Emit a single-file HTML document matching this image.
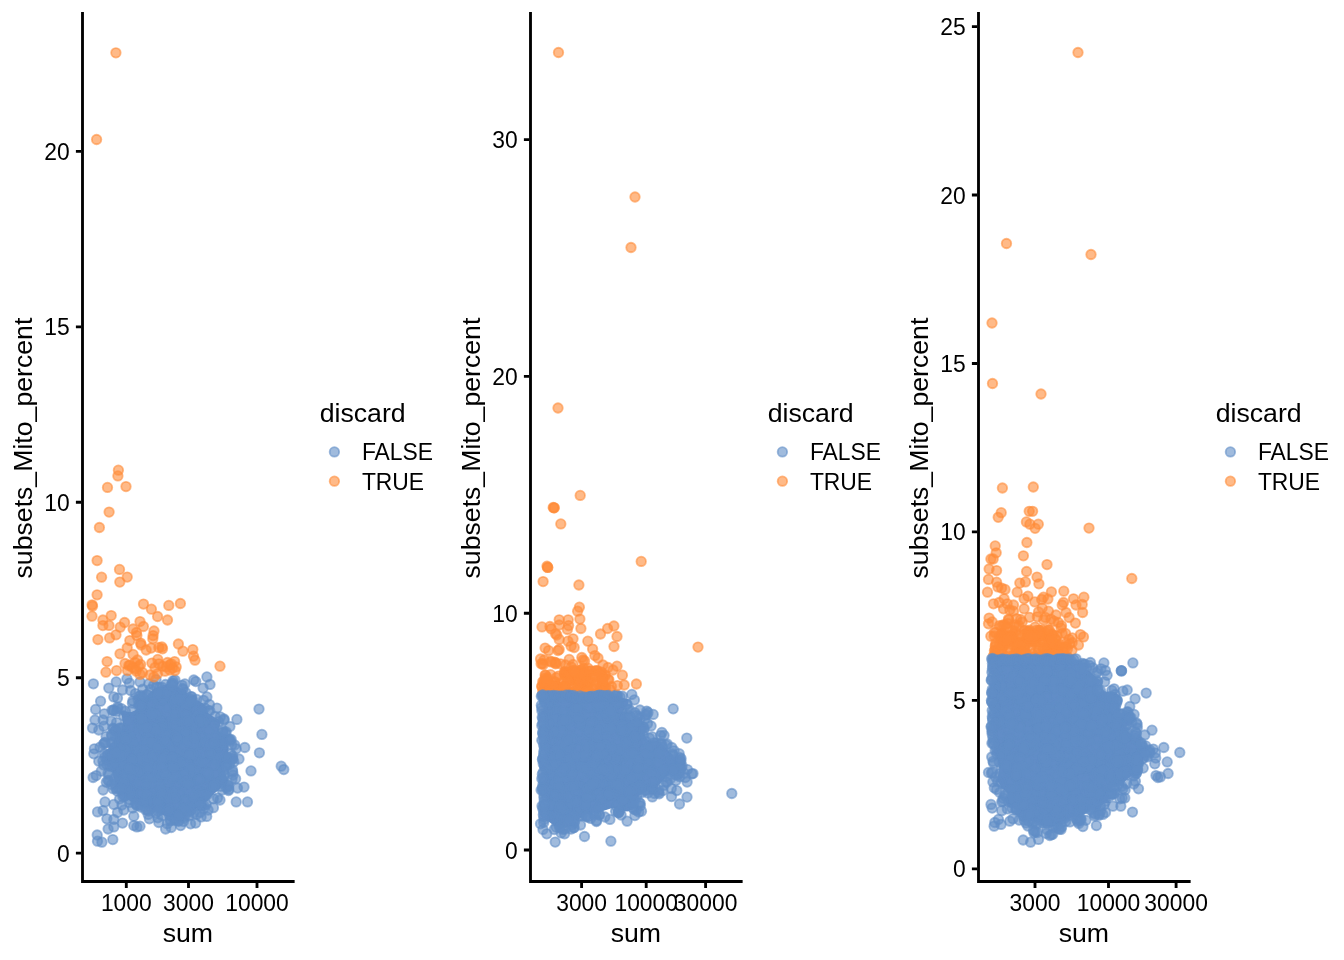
<!DOCTYPE html>
<html lang="en"><head><meta charset="utf-8"><title>QC plots: subsets_Mito_percent vs sum</title>
<style>
html,body{margin:0;padding:0;background:#fff;}
body{width:1344px;height:960px;overflow:hidden;}
svg{display:block;}
svg text{font-family:"Liberation Sans","Arimo",Arial,Helvetica,sans-serif;fill:#000;}
.t{font-size:26.67px}
.s{font-size:22.86px}
.ax{stroke:#000;stroke-width:2.85;fill:none;stroke-linecap:square}
.tk{stroke:#000;stroke-width:2.85;fill:none;stroke-linecap:butt}
.b circle,.o circle{stroke-width:1.8;r:4.75px}
.b circle{fill:#618dc7;stroke:#618dc7;fill-opacity:0.6;stroke-opacity:0.6}
.o circle{fill:#ff8c38;stroke:#ff8c38;fill-opacity:0.6;stroke-opacity:0.6}
.bs{fill:#618dc7}
.os{fill:#ff8c38}
</style></head>
<body>
<svg width="1344" height="960" viewBox="0 0 1344 960">
<rect width="1344" height="960" fill="#fff"/>
<g class="o"><circle cx="604.8" cy="687.3" r="4.75"/><circle cx="594.5" cy="694.4" r="4.75"/><circle cx="557.2" cy="685.7" r="4.75"/><circle cx="604.7" cy="693.4" r="4.75"/><circle cx="580.3" cy="670.5" r="4.75"/><circle cx="545.6" cy="675.4" r="4.75"/><circle cx="608.1" cy="679.6" r="4.75"/><circle cx="605" cy="675.9" r="4.75"/><circle cx="569.5" cy="685.4" r="4.75"/><circle cx="597.4" cy="681" r="4.75"/><circle cx="544" cy="683.6" r="4.75"/><circle cx="552" cy="687.5" r="4.75"/><circle cx="558.9" cy="687.4" r="4.75"/><circle cx="601.4" cy="672.1" r="4.75"/><circle cx="585.6" cy="674.8" r="4.75"/><circle cx="548.1" cy="686" r="4.75"/><circle cx="582.2" cy="679.5" r="4.75"/><circle cx="549.3" cy="685.8" r="4.75"/><circle cx="579" cy="679.1" r="4.75"/><circle cx="601.7" cy="687.4" r="4.75"/><circle cx="582.8" cy="681.9" r="4.75"/><circle cx="586" cy="675.2" r="4.75"/><circle cx="577.1" cy="689.8" r="4.75"/><circle cx="542" cy="686.7" r="4.75"/><circle cx="546.7" cy="679.8" r="4.75"/><circle cx="586.8" cy="674.8" r="4.75"/><circle cx="554.2" cy="681.5" r="4.75"/><circle cx="587.2" cy="682.1" r="4.75"/><circle cx="566.6" cy="672.1" r="4.75"/><circle cx="560.2" cy="683" r="4.75"/><circle cx="603.4" cy="686.1" r="4.75"/><circle cx="551.9" cy="685.6" r="4.75"/><circle cx="567.9" cy="692.5" r="4.75"/><circle cx="605" cy="674.6" r="4.75"/><circle cx="564.9" cy="674.7" r="4.75"/><circle cx="587.9" cy="668.2" r="4.75"/><circle cx="558.4" cy="693.6" r="4.75"/><circle cx="567.2" cy="692.2" r="4.75"/><circle cx="580.6" cy="671.9" r="4.75"/><circle cx="605.7" cy="687.8" r="4.75"/><circle cx="590.7" cy="670.8" r="4.75"/><circle cx="559.7" cy="692.5" r="4.75"/><circle cx="583.6" cy="678.2" r="4.75"/><circle cx="582.3" cy="683.9" r="4.75"/><circle cx="564.5" cy="674.2" r="4.75"/><circle cx="541.7" cy="686.3" r="4.75"/><circle cx="602.9" cy="677.2" r="4.75"/><circle cx="601.3" cy="677.9" r="4.75"/><circle cx="556.8" cy="691" r="4.75"/><circle cx="602.3" cy="675.4" r="4.75"/><circle cx="595.1" cy="674.5" r="4.75"/><circle cx="548.4" cy="690.2" r="4.75"/><circle cx="554.9" cy="682.1" r="4.75"/><circle cx="556.2" cy="677.7" r="4.75"/><circle cx="566.6" cy="682.4" r="4.75"/><circle cx="589.8" cy="674.4" r="4.75"/><circle cx="582.9" cy="688.2" r="4.75"/><circle cx="559.9" cy="689.8" r="4.75"/><circle cx="544.1" cy="681" r="4.75"/><circle cx="586.6" cy="692.7" r="4.75"/><circle cx="573.7" cy="676.5" r="4.75"/><circle cx="584.4" cy="683.2" r="4.75"/><circle cx="585.1" cy="687.9" r="4.75"/><circle cx="588.3" cy="682.5" r="4.75"/><circle cx="593.5" cy="689.3" r="4.75"/><circle cx="585.6" cy="682.2" r="4.75"/><circle cx="565.3" cy="671.9" r="4.75"/><circle cx="575.4" cy="675" r="4.75"/><circle cx="572.7" cy="670.8" r="4.75"/><circle cx="602.9" cy="683.4" r="4.75"/><circle cx="605.1" cy="693.7" r="4.75"/><circle cx="611.5" cy="686.5" r="4.75"/><circle cx="545.1" cy="674.9" r="4.75"/><circle cx="590.6" cy="681.5" r="4.75"/><circle cx="587.5" cy="686.3" r="4.75"/><circle cx="547.9" cy="687.9" r="4.75"/><circle cx="575" cy="678.6" r="4.75"/><circle cx="608.9" cy="679.8" r="4.75"/><circle cx="588.6" cy="690.3" r="4.75"/><circle cx="573.7" cy="670" r="4.75"/><circle cx="543" cy="690" r="4.75"/><circle cx="594.7" cy="685.7" r="4.75"/><circle cx="604.3" cy="693.4" r="4.75"/><circle cx="591.7" cy="693.3" r="4.75"/><circle cx="570.1" cy="680.4" r="4.75"/><circle cx="564.8" cy="673" r="4.75"/><circle cx="597.9" cy="671" r="4.75"/><circle cx="580.2" cy="691.5" r="4.75"/><circle cx="565.9" cy="674.3" r="4.75"/><circle cx="605.6" cy="693.6" r="4.75"/><circle cx="581.9" cy="681.4" r="4.75"/><circle cx="602.6" cy="683.3" r="4.75"/><circle cx="599.7" cy="687.3" r="4.75"/><circle cx="599.3" cy="691.8" r="4.75"/><circle cx="545" cy="687.9" r="4.75"/><circle cx="579.6" cy="685.4" r="4.75"/><circle cx="578.6" cy="682.4" r="4.75"/><circle cx="570.9" cy="675.9" r="4.75"/><circle cx="555.5" cy="688.7" r="4.75"/><circle cx="575.6" cy="679.7" r="4.75"/><circle cx="575.4" cy="674.3" r="4.75"/><circle cx="604.3" cy="690" r="4.75"/><circle cx="577.3" cy="685.6" r="4.75"/><circle cx="542.6" cy="693.1" r="4.75"/><circle cx="594.9" cy="670.8" r="4.75"/><circle cx="570.5" cy="692.1" r="4.75"/><circle cx="579.4" cy="680" r="4.75"/><circle cx="559.1" cy="692.6" r="4.75"/><circle cx="572.2" cy="687.7" r="4.75"/><circle cx="586.7" cy="691.6" r="4.75"/><circle cx="551.9" cy="685.2" r="4.75"/><circle cx="564" cy="686.6" r="4.75"/><circle cx="584.9" cy="677.3" r="4.75"/><circle cx="558.4" cy="676.1" r="4.75"/><circle cx="595.6" cy="682.7" r="4.75"/><circle cx="547.7" cy="693.7" r="4.75"/><circle cx="544.8" cy="681.4" r="4.75"/><circle cx="573" cy="691.9" r="4.75"/><circle cx="610.3" cy="689.8" r="4.75"/><circle cx="596.5" cy="670.6" r="4.75"/><circle cx="572.4" cy="693.3" r="4.75"/><circle cx="542.4" cy="663.6" r="4.75"/><circle cx="551.3" cy="661.9" r="4.75"/><circle cx="543.3" cy="664.5" r="4.75"/><circle cx="554.6" cy="662.1" r="4.75"/><circle cx="555.9" cy="663" r="4.75"/><circle cx="565.8" cy="684.9" r="4.75"/><circle cx="601.7" cy="676.5" r="4.75"/><circle cx="569.2" cy="675.1" r="4.75"/><circle cx="547.5" cy="678" r="4.75"/><circle cx="598.8" cy="673" r="4.75"/><circle cx="596.1" cy="676.2" r="4.75"/><circle cx="564.5" cy="671.7" r="4.75"/><circle cx="546" cy="686.2" r="4.75"/><circle cx="584.6" cy="661" r="4.75"/><circle cx="580.7" cy="670.1" r="4.75"/><circle cx="579.3" cy="673" r="4.75"/><circle cx="547.7" cy="683.4" r="4.75"/><circle cx="569.2" cy="674.3" r="4.75"/><circle cx="570.1" cy="672.4" r="4.75"/><circle cx="575.1" cy="672.1" r="4.75"/><circle cx="542.7" cy="681.7" r="4.75"/><circle cx="568.1" cy="681.7" r="4.75"/><circle cx="584.1" cy="671.4" r="4.75"/><circle cx="573.1" cy="664.5" r="4.75"/><circle cx="583.3" cy="668.3" r="4.75"/><circle cx="545.2" cy="677.9" r="4.75"/><circle cx="602.5" cy="680" r="4.75"/><circle cx="550.6" cy="674.7" r="4.75"/><circle cx="583.4" cy="673.8" r="4.75"/><circle cx="571.3" cy="666.9" r="4.75"/><circle cx="574.4" cy="671.4" r="4.75"/><circle cx="587.9" cy="671.1" r="4.75"/><circle cx="564.2" cy="686.6" r="4.75"/><circle cx="546.5" cy="680" r="4.75"/><circle cx="1036.7" cy="637.8" r="4.75"/><circle cx="995.2" cy="650.2" r="4.75"/><circle cx="1009.9" cy="636.8" r="4.75"/><circle cx="1025.1" cy="649.8" r="4.75"/><circle cx="1012.5" cy="630.5" r="4.75"/><circle cx="1005.8" cy="656.6" r="4.75"/><circle cx="1072" cy="650.3" r="4.75"/><circle cx="1036.4" cy="630.3" r="4.75"/><circle cx="994.7" cy="655.4" r="4.75"/><circle cx="1047.5" cy="654" r="4.75"/><circle cx="1038.9" cy="650.9" r="4.75"/><circle cx="1001.8" cy="644.8" r="4.75"/><circle cx="1017.9" cy="656.2" r="4.75"/><circle cx="999.3" cy="636.3" r="4.75"/><circle cx="1018.4" cy="654.2" r="4.75"/><circle cx="1026.1" cy="653.5" r="4.75"/><circle cx="1017.3" cy="645.8" r="4.75"/><circle cx="1007.9" cy="650" r="4.75"/><circle cx="1034.6" cy="657.3" r="4.75"/><circle cx="1013.4" cy="636.7" r="4.75"/><circle cx="1049.4" cy="651" r="4.75"/><circle cx="1048.7" cy="656.2" r="4.75"/><circle cx="1034.5" cy="642.3" r="4.75"/><circle cx="1011.1" cy="635.3" r="4.75"/><circle cx="1022.9" cy="642.7" r="4.75"/><circle cx="1053" cy="649.1" r="4.75"/><circle cx="1034.4" cy="640.9" r="4.75"/><circle cx="1043.7" cy="641" r="4.75"/><circle cx="1057.7" cy="649.9" r="4.75"/><circle cx="1049.4" cy="640.7" r="4.75"/><circle cx="1035" cy="652.5" r="4.75"/><circle cx="1018.9" cy="651.4" r="4.75"/><circle cx="1002.5" cy="639.4" r="4.75"/><circle cx="995.4" cy="646.8" r="4.75"/><circle cx="1013.4" cy="641.3" r="4.75"/><circle cx="1056.9" cy="649.6" r="4.75"/><circle cx="995.8" cy="643.1" r="4.75"/><circle cx="993.3" cy="656" r="4.75"/><circle cx="1033.2" cy="656.9" r="4.75"/><circle cx="1014.3" cy="656" r="4.75"/><circle cx="1004" cy="657.5" r="4.75"/><circle cx="1024.5" cy="630.5" r="4.75"/><circle cx="1067.3" cy="656.5" r="4.75"/><circle cx="1008.5" cy="647.6" r="4.75"/><circle cx="1031.6" cy="632.9" r="4.75"/><circle cx="1023.8" cy="653.8" r="4.75"/><circle cx="1054.7" cy="654.2" r="4.75"/><circle cx="1020.6" cy="644.3" r="4.75"/><circle cx="1029.2" cy="631.4" r="4.75"/><circle cx="1032.6" cy="653.9" r="4.75"/><circle cx="1039.5" cy="634" r="4.75"/><circle cx="1012.5" cy="644.5" r="4.75"/><circle cx="1001.4" cy="634.8" r="4.75"/><circle cx="1002.1" cy="633.4" r="4.75"/><circle cx="1048.7" cy="647.3" r="4.75"/><circle cx="1054.6" cy="654.4" r="4.75"/><circle cx="1051.7" cy="645.6" r="4.75"/><circle cx="1017.5" cy="648.3" r="4.75"/><circle cx="1004.9" cy="635.8" r="4.75"/><circle cx="1049.8" cy="648.3" r="4.75"/><circle cx="1004" cy="643.1" r="4.75"/><circle cx="1041.5" cy="635.6" r="4.75"/><circle cx="1045.7" cy="632.9" r="4.75"/><circle cx="1006.2" cy="642.1" r="4.75"/><circle cx="1016.2" cy="652.5" r="4.75"/><circle cx="1026.5" cy="637.9" r="4.75"/><circle cx="1059.5" cy="656.4" r="4.75"/><circle cx="1014.9" cy="631.4" r="4.75"/><circle cx="1053.4" cy="643.8" r="4.75"/><circle cx="1066.1" cy="643.4" r="4.75"/><circle cx="1062.4" cy="648" r="4.75"/><circle cx="1003.9" cy="644.4" r="4.75"/><circle cx="1056.1" cy="639.9" r="4.75"/><circle cx="1034.6" cy="638.9" r="4.75"/><circle cx="1057" cy="644.5" r="4.75"/><circle cx="1029.6" cy="630.2" r="4.75"/><circle cx="1052.1" cy="633.9" r="4.75"/><circle cx="1001.5" cy="649.3" r="4.75"/><circle cx="1015.8" cy="648.3" r="4.75"/><circle cx="1049.1" cy="640.1" r="4.75"/><circle cx="1036.2" cy="641.3" r="4.75"/><circle cx="996.3" cy="656.7" r="4.75"/><circle cx="1036" cy="657.5" r="4.75"/><circle cx="1044.9" cy="649.4" r="4.75"/><circle cx="1001.8" cy="649.1" r="4.75"/><circle cx="1027.9" cy="637.4" r="4.75"/><circle cx="1001.9" cy="634.1" r="4.75"/><circle cx="998.5" cy="650.5" r="4.75"/><circle cx="1027.4" cy="632.4" r="4.75"/><circle cx="1038.9" cy="657.8" r="4.75"/><circle cx="1043.4" cy="648.9" r="4.75"/><circle cx="1031.8" cy="640.7" r="4.75"/><circle cx="1030.8" cy="639.7" r="4.75"/><circle cx="1024.7" cy="634.2" r="4.75"/><circle cx="1049.3" cy="657" r="4.75"/><circle cx="1011.8" cy="636.6" r="4.75"/><circle cx="994.4" cy="650.8" r="4.75"/><circle cx="1004.5" cy="645" r="4.75"/><circle cx="1063.2" cy="651.9" r="4.75"/><circle cx="1044.1" cy="654.1" r="4.75"/><circle cx="1042.5" cy="656" r="4.75"/><circle cx="1042.5" cy="635.7" r="4.75"/><circle cx="1002" cy="646.1" r="4.75"/><circle cx="1064.2" cy="656.5" r="4.75"/><circle cx="995.3" cy="645.7" r="4.75"/><circle cx="1000.8" cy="635.6" r="4.75"/><circle cx="1013.5" cy="655.2" r="4.75"/><circle cx="1059.1" cy="655.1" r="4.75"/><circle cx="1064.5" cy="657.8" r="4.75"/><circle cx="1021" cy="652" r="4.75"/><circle cx="1057" cy="635.8" r="4.75"/><circle cx="1067.5" cy="649.1" r="4.75"/><circle cx="1049.2" cy="640.6" r="4.75"/><circle cx="1052.4" cy="634.8" r="4.75"/><circle cx="1019.9" cy="652" r="4.75"/><circle cx="1063.5" cy="647.3" r="4.75"/><circle cx="1039.3" cy="630.4" r="4.75"/><circle cx="1031.7" cy="635" r="4.75"/><circle cx="1016.8" cy="641.6" r="4.75"/><circle cx="1033.4" cy="639" r="4.75"/><circle cx="995.9" cy="652.1" r="4.75"/><circle cx="1042.7" cy="647.5" r="4.75"/><circle cx="1039.5" cy="631.4" r="4.75"/><circle cx="1044.4" cy="642.3" r="4.75"/><circle cx="1004" cy="633.9" r="4.75"/><circle cx="1024.6" cy="646.1" r="4.75"/><circle cx="1031.5" cy="643.4" r="4.75"/><circle cx="1013.5" cy="633.7" r="4.75"/><circle cx="1027.3" cy="630.8" r="4.75"/><circle cx="1005.8" cy="637" r="4.75"/><circle cx="1017.2" cy="643.3" r="4.75"/><circle cx="1022.3" cy="650.7" r="4.75"/><circle cx="1017.6" cy="642.1" r="4.75"/><circle cx="1057.1" cy="649.9" r="4.75"/><circle cx="1057.9" cy="654.6" r="4.75"/><circle cx="1029.7" cy="641.6" r="4.75"/><circle cx="1038.6" cy="650" r="4.75"/><circle cx="1032.4" cy="641.5" r="4.75"/><circle cx="1055.8" cy="645" r="4.75"/><circle cx="1026.5" cy="640.1" r="4.75"/><circle cx="1052.6" cy="635.7" r="4.75"/><circle cx="1054.9" cy="638.7" r="4.75"/><circle cx="1024.5" cy="651" r="4.75"/><circle cx="1066.4" cy="646.8" r="4.75"/><circle cx="1023.6" cy="634.6" r="4.75"/><circle cx="1010.5" cy="636.9" r="4.75"/><circle cx="1003.7" cy="636.4" r="4.75"/><circle cx="1045.4" cy="617.4" r="4.75"/><circle cx="1035.2" cy="627.1" r="4.75"/><circle cx="1025.2" cy="644.4" r="4.75"/><circle cx="1007.8" cy="623.5" r="4.75"/><circle cx="1021.3" cy="643.1" r="4.75"/><circle cx="1008.8" cy="619.9" r="4.75"/><circle cx="1039.2" cy="630.3" r="4.75"/><circle cx="1069.1" cy="639.4" r="4.75"/><circle cx="1020.6" cy="619.5" r="4.75"/><circle cx="1059.6" cy="644.2" r="4.75"/><circle cx="994.2" cy="636.2" r="4.75"/><circle cx="1062.2" cy="633.5" r="4.75"/><circle cx="1009.4" cy="638.1" r="4.75"/><circle cx="1050.9" cy="619.2" r="4.75"/><circle cx="1043.7" cy="620" r="4.75"/><circle cx="1018.8" cy="625.5" r="4.75"/><circle cx="1044.2" cy="639.4" r="4.75"/><circle cx="1069.7" cy="643.8" r="4.75"/><circle cx="1072.3" cy="637.9" r="4.75"/><circle cx="1016.6" cy="618.6" r="4.75"/><circle cx="1042.3" cy="630.2" r="4.75"/><circle cx="1007.3" cy="642" r="4.75"/><circle cx="1040.5" cy="634.9" r="4.75"/><circle cx="999.5" cy="625.6" r="4.75"/><circle cx="1065.6" cy="633.5" r="4.75"/><circle cx="1028.6" cy="638.2" r="4.75"/><circle cx="1027.8" cy="637.9" r="4.75"/><circle cx="1037.3" cy="616.8" r="4.75"/><circle cx="999.7" cy="644" r="4.75"/><circle cx="1018.9" cy="635.5" r="4.75"/><circle cx="1061" cy="628" r="4.75"/><circle cx="1032.1" cy="637.9" r="4.75"/><circle cx="1014.3" cy="624.8" r="4.75"/><circle cx="1041.4" cy="633.1" r="4.75"/><circle cx="1002.9" cy="635.9" r="4.75"/><circle cx="1047.9" cy="643.7" r="4.75"/><circle cx="1054" cy="621.1" r="4.75"/><circle cx="1053.8" cy="644" r="4.75"/><circle cx="1022.2" cy="622" r="4.75"/><circle cx="1001.8" cy="640.3" r="4.75"/><circle cx="995.8" cy="632.4" r="4.75"/><circle cx="1008.5" cy="619.1" r="4.75"/><circle cx="1058.3" cy="622.5" r="4.75"/><circle cx="1006.6" cy="627.4" r="4.75"/><circle cx="1048.1" cy="629.6" r="4.75"/><circle cx="1061.5" cy="625.7" r="4.75"/><circle cx="1034.2" cy="635.6" r="4.75"/><circle cx="1029.2" cy="635.6" r="4.75"/><circle cx="1029.6" cy="617.3" r="4.75"/><circle cx="1001.7" cy="637.7" r="4.75"/><circle cx="1052.2" cy="642.7" r="4.75"/><circle cx="1047.7" cy="631.3" r="4.75"/><circle cx="1005.2" cy="639.9" r="4.75"/><circle cx="1001.3" cy="626.4" r="4.75"/><circle cx="1003.1" cy="625" r="4.75"/><circle cx="1016.6" cy="626.4" r="4.75"/><circle cx="1049.4" cy="630.1" r="4.75"/><circle cx="1011.4" cy="637.6" r="4.75"/><circle cx="1051.4" cy="639.1" r="4.75"/><circle cx="994.4" cy="632.4" r="4.75"/><circle cx="1008.1" cy="638.7" r="4.75"/></g>
<path class="bs" d="M118.6 710.8 120.5 713.1 120.9 713.7 121.2 714.2 121.5 714.8 121.7 715.5 121.9 716.1 122.9 721.1 123 721.8 123 722.5 123 723.2 122.9 723.9 121.9 728.9 121.7 729.6 121.4 730.2 121.1 730.9 120.8 731.5 120.3 732 119.9 732.5 119.3 733 118.7 733.4 118.1 733.8 115.7 735 114.1 739.7 113.9 740.4 113.6 741 113.2 741.5 112.8 742.1 112.3 742.6 111.8 743 111.2 743.4 110.6 743.8 108.7 744.7 108.3 746.6 110.3 750.7 110.6 751.4 110.8 752.2 111 753 112 761.7 112 762.5 112 770.2 115.3 784.6 122.7 795.2 133.2 803.6 141.7 805.7 142.2 805.9 149.7 808.4 150.6 808.7 165.5 816.2 172.2 819.3 177 820.3 181.9 818.7 188.4 814.3 193.1 810.5 193.6 810.2 207.8 800.7 212.1 795.5 212.6 795 213.1 794.5 218.8 790 224.4 783.3 227.3 779 225.9 774.7 225.7 774.1 224.2 767.6 224.1 766.9 224 766.3 224 765.6 224.1 764.9 224.2 764.3 224.4 763.6 224.7 763 225 762.4 225.3 761.9 225.8 761.4 226.2 760.9 226.7 760.5 229 758.7 228.5 757.7 228.3 757 228.1 756.3 228 755.5 228 754.8 228.1 754.1 228.8 748.4 226.3 742.2 220.4 734.2 220 733.6 219.7 733 219.4 732.3 219.2 731.6 219.1 730.9 219 730.2 219 729.5 219.1 728.8 219.3 728.1 220.9 722.1 218.2 719.4 210.3 714.8 209.7 714.5 209.2 714.1 208.7 713.6 208.3 713.2 207.9 712.6 207.6 712.1 207.3 711.5 204.4 704.6 198.3 700.4 192.6 699.4 191.9 699.3 191.3 699 190.7 698.8 190.1 698.5 189.5 698.1 189 697.7 188.6 697.2 188.1 696.7 187.8 696.1 187.4 695.5 187.2 694.9 187 694.3 186.8 693.7 186.4 690.7 185.6 689.7 180.3 687.9 179.5 687.6 178.8 687.2 175.1 684.9 167.9 684 162.1 685.4 153.9 688.5 142 700.4 142 702.5 142 703.2 141.9 703.9 141.7 704.6 141.4 705.2 141.1 705.9 140.8 706.5 140.3 707 139.9 707.5 139.3 708 138.7 708.4 138.1 708.8 133.1 711.3 132.5 711.5 131.8 711.8 131.1 711.9 130.4 712 129.7 712 129 711.9 120.5 710.8ZM544 715 544 715.1 543.5 739.8 545 759.5 545 760 545 772.5 545 772.9 544.4 782.9 544.4 783 543.8 791.5 547.1 800 547.3 800.8 547.4 801.6 548.7 811.6 548.7 812.3 548.7 812.9 548.7 813.5 548.6 814.1 548.4 814.7 546.8 819.5 547.3 820.5 551.8 824.1 556.3 826.3 563.4 824.6 573 820.9 573.3 820.9 579.7 818.7 583.8 815.6 584.4 815.2 585 814.9 585.7 814.6 586.4 814.4 587.1 814.3 596.4 813.1 610.8 808.4 611.4 808.2 612 808.1 612.7 808 613.3 808 614 808.1 614.6 808.2 615.2 808.4 622.2 810.7 627.3 811.5 634.5 808.8 636.8 807 636.1 802.2 636 801.6 636 800.9 636.1 800.2 636.2 799.6 636.4 798.9 636.7 798.3 637 797.7 637.3 797.1 637.8 796.6 638.2 796.1 638.7 795.7 639.3 795.3 639.9 795 647.4 791.2 648 790.9 656.4 787.8 662.7 780.4 663.1 780.1 665.6 777.6 666.3 776.9 671.3 773.1 671.8 772.8 672.4 772.5 677.4 770 678 769.7 678.7 769.5 679.4 769.3 680 769.3 679.8 768.7 678.9 762.8 676.3 759.3 670.3 752.2 658 739.9 652.7 740.7 652.1 740.7 651.4 740.7 650.7 740.7 650 740.5 649.4 740.3 648.7 740.1 648.1 739.7 647.5 739.4 647 738.9 646.5 738.4 646.1 737.9 645.7 737.3 645.4 736.7 645.1 736.1 645 735.4 644.8 734.7 644.8 734.1 644.8 733.4 644.8 732.7 645 732 645.2 731.4 645.4 730.7 645.8 730.1 646.1 729.5 647.3 728.1 646.1 727.5 645.5 727.2 645 726.8 644.4 726.3 644 725.8 643.5 725.3 643.2 724.7 642.9 724.1 642.6 723.5 642.4 722.8 642.3 722.1 642.3 721.4 642.3 720.8 642.3 720.1 642.5 719.4 642.7 718.7 643 718.1 644.2 715.6 642 715.1 639.7 716.9 639.1 717.2 638.5 717.6 637.9 717.8 637.2 718 632.2 719.3 631.5 719.4 630.8 719.5 630.1 719.5 629.5 719.4 628.8 719.3 628.1 719.1 627.5 718.8 626.9 718.5 626.3 718.1 625.8 717.7 625.3 717.2 624.9 716.7 624.5 716.1 624.2 715.5 623.9 714.8 623.7 714.2 623.6 713.5 623.5 712.8 623.5 712.1 623.6 711.4 623.7 710.8 623.9 710.1 624.2 709.5 624.5 708.9 624.9 708.3 627.9 704.3 628.8 701.1 628.4 699.4 623.6 698 623 697.8 622.4 697.5 619.4 696 559 696 544 696.7ZM992.1 667.8 992.1 675.9 992.5 689.8 992.5 689.9 993 719.9 993 720 993 743.3 994.1 750.8 997.6 760 997.7 760.6 997.9 761.1 999.1 767.4 999.2 768.1 999.2 768.8 999.2 769.4 999.1 770.1 997.9 776.3 997.1 780.7 999.1 783.3 999.5 783.9 999.8 784.5 1000.1 785.1 1000.3 785.8 1000.8 788 1004.6 790.2 1005.2 790.6 1005.7 791.1 1006.2 791.6 1006.7 792.1 1007.1 792.7 1007.4 793.4 1007.6 794 1007.8 794.7 1007.9 795.4 1008 796.1 1008 796.8 1007.9 797.5 1007.7 798.2 1007.5 798.8 1006 802.5 1007.2 805.3 1008.7 807.4 1012.4 808.1 1013.1 808.3 1013.9 808.6 1014.6 809 1020.9 812.7 1021.6 813.2 1022.2 813.8 1027.4 819 1038.4 823.4 1050.8 827.5 1054.1 826.2 1059.9 822.7 1060.4 822.5 1067.9 818.7 1068.8 818.4 1076.3 815.9 1076.8 815.7 1077.3 815.6 1083.2 814.6 1086.8 811.9 1087.4 811.5 1088 811.2 1088.7 810.9 1089.3 810.7 1090 810.6 1090.7 810.5 1091.4 810.5 1092.2 810.6 1097.9 811.6 1099.9 810.9 1100.4 808.6 1100.6 808 1100.8 807.3 1101.1 806.7 1101.4 806.1 1101.8 805.6 1102.3 805 1102.8 804.6 1103.4 804.2 1104 803.8 1104.6 803.5 1105.2 803.3 1105.9 803.1 1106.6 803 1107.2 803 1110.4 803 1107.7 798.9 1107.3 798.3 1107 797.7 1106.8 797 1106.6 796.3 1106.5 795.6 1106.5 794.9 1106.5 794.2 1106.7 793.5 1106.8 792.9 1107.1 792.2 1107.4 791.6 1107.8 791 1108.2 790.4 1108.7 789.9 1109.2 789.5 1109.8 789.1 1110.4 788.7 1115.4 786.2 1116 786 1116.7 785.7 1117.3 785.6 1118 785.5 1118.7 785.5 1119.4 785.6 1120.1 785.7 1120.7 785.9 1124.3 787 1124.1 786.4 1124 785.7 1124 785 1124 784.2 1124.2 783.5 1124.3 782.8 1124.6 782.2 1124.9 781.5 1125.3 780.9 1125.8 780.4 1126.3 779.9 1126.8 779.4 1131.8 775.6 1132.4 775.2 1133.1 774.9 1133.8 774.6 1139.3 772.8 1140.7 771.1 1139.4 767.2 1139.2 766.6 1139.1 765.9 1139 765.3 1139 764.6 1139.1 763.9 1139.2 763.3 1139.4 762.6 1139.7 762 1140 761.4 1140.3 760.9 1140.8 760.4 1141.2 759.9 1141.7 759.4 1142.3 759.1 1142.9 758.7 1148 756.2 1148.3 755.3 1146.1 750.9 1142.5 744.9 1142.1 744.1 1141.8 743.4 1141.6 742.6 1141.1 739.7 1136.6 737.5 1136.1 737.3 1129.9 733.5 1129.3 733.1 1128.8 732.7 1128.3 732.2 1127.9 731.6 1127.5 731.1 1127.1 730.4 1126.9 729.8 1126.7 729.1 1126.6 728.4 1126.5 727.7 1126.5 727 1126.6 726.4 1126.7 725.7 1127 725 1127.2 724.4 1129 720.8 1129 719.4 1126.5 715.3 1124.3 712.5 1119.5 713.2 1118.8 713.2 1118.1 713.2 1117.4 713.2 1116.7 713 1116.1 712.8 1115.4 712.5 1114.8 712.2 1114.3 711.8 1113.7 711.4 1113.3 710.9 1112.8 710.3 1112.4 709.8 1112.1 709.1 1111.9 708.5 1111.7 707.8 1111.6 707.2 1111.5 706.5 1111.5 705.8 1111.6 705.1 1111.7 704.4 1112 703.8 1112.2 703.1 1113.4 700.7 1112.5 697.9 1109.3 695.4 1103.6 694.4 1102.9 694.3 1102.3 694.1 1101.7 693.8 1101.1 693.4 1100.5 693.1 1100 692.6 1099.5 692.1 1099.1 691.6 1098.7 691 1098.4 690.4 1098.1 689.8 1097.9 689.1 1097.8 688.5 1097.8 687.8 1097.8 687.1 1097.8 686.4 1098 685.7 1098.2 685.1 1098.4 684.5 1098.8 683.9 1099.2 683.3 1101 680.8 1101 680.5 1095.9 677.1 1095.3 676.7 1094.8 676.2 1089.4 670.8 1082.9 667.5 1082.3 667.2 1081.8 666.8 1081.3 666.4 1080.8 666 1080.4 665.5 1080.1 664.9 1079.7 664.4 1077.7 660.4 1077 659.6 1066.3 659.6 1056.8 660.7 1055.9 660.7 1010.1 660 992.6 660.7Z"/>
<g class="b"><circle cx="209.8" cy="710.7" r="4.75"/><circle cx="168.3" cy="743.6" r="4.75"/><circle cx="192.5" cy="801.1" r="4.75"/><circle cx="220.9" cy="740.8" r="4.75"/><circle cx="160.6" cy="789.7" r="4.75"/><circle cx="150.7" cy="704.2" r="4.75"/><circle cx="126" cy="741.7" r="4.75"/><circle cx="168.4" cy="707" r="4.75"/><circle cx="221.2" cy="761.7" r="4.75"/><circle cx="191" cy="699" r="4.75"/><circle cx="157" cy="808" r="4.75"/><circle cx="195.4" cy="718.9" r="4.75"/><circle cx="182.6" cy="816.9" r="4.75"/><circle cx="222.6" cy="753.1" r="4.75"/><circle cx="129.3" cy="802.5" r="4.75"/><circle cx="155.8" cy="696.8" r="4.75"/><circle cx="176.6" cy="786.5" r="4.75"/><circle cx="196" cy="731" r="4.75"/><circle cx="159.6" cy="753.6" r="4.75"/><circle cx="212.1" cy="755.7" r="4.75"/><circle cx="152.5" cy="750.4" r="4.75"/><circle cx="183.4" cy="734.2" r="4.75"/><circle cx="118.1" cy="752.6" r="4.75"/><circle cx="175.2" cy="813.2" r="4.75"/><circle cx="127.6" cy="754.5" r="4.75"/><circle cx="133.4" cy="760.3" r="4.75"/><circle cx="206.2" cy="804.5" r="4.75"/><circle cx="171.9" cy="762.6" r="4.75"/><circle cx="226.2" cy="764" r="4.75"/><circle cx="122.6" cy="753" r="4.75"/><circle cx="166.7" cy="727.9" r="4.75"/><circle cx="145.2" cy="758.7" r="4.75"/><circle cx="188.1" cy="771.2" r="4.75"/><circle cx="195.8" cy="681.6" r="4.75"/><circle cx="188.3" cy="725.8" r="4.75"/><circle cx="173.3" cy="696" r="4.75"/><circle cx="133.9" cy="788" r="4.75"/><circle cx="162" cy="722" r="4.75"/><circle cx="151.5" cy="738.8" r="4.75"/><circle cx="230.8" cy="753.9" r="4.75"/><circle cx="124" cy="770.1" r="4.75"/><circle cx="196.6" cy="759.7" r="4.75"/><circle cx="215.1" cy="755" r="4.75"/><circle cx="126.2" cy="777.3" r="4.75"/><circle cx="152.8" cy="765" r="4.75"/><circle cx="141.4" cy="774.3" r="4.75"/><circle cx="179.9" cy="696.6" r="4.75"/><circle cx="200.6" cy="753.7" r="4.75"/><circle cx="150.2" cy="726.3" r="4.75"/><circle cx="123.5" cy="781.7" r="4.75"/><circle cx="158.7" cy="700.4" r="4.75"/><circle cx="107.9" cy="780.3" r="4.75"/><circle cx="169" cy="722.6" r="4.75"/><circle cx="212.7" cy="724.9" r="4.75"/><circle cx="124.7" cy="781.7" r="4.75"/><circle cx="124.6" cy="796" r="4.75"/><circle cx="184.5" cy="809.9" r="4.75"/><circle cx="148.6" cy="725.1" r="4.75"/><circle cx="112.6" cy="760.8" r="4.75"/><circle cx="186.8" cy="799.9" r="4.75"/><circle cx="150.2" cy="764.2" r="4.75"/><circle cx="234.7" cy="745" r="4.75"/><circle cx="213.4" cy="807.7" r="4.75"/><circle cx="156.8" cy="687.1" r="4.75"/><circle cx="117.6" cy="708.4" r="4.75"/><circle cx="165.5" cy="684.5" r="4.75"/><circle cx="137.4" cy="768.5" r="4.75"/><circle cx="161.3" cy="720.6" r="4.75"/><circle cx="194" cy="711.4" r="4.75"/><circle cx="175.5" cy="719.6" r="4.75"/><circle cx="161" cy="777.9" r="4.75"/><circle cx="139.2" cy="722.9" r="4.75"/><circle cx="138.5" cy="724.1" r="4.75"/><circle cx="175.9" cy="765.5" r="4.75"/><circle cx="183.9" cy="709" r="4.75"/><circle cx="102.9" cy="760.8" r="4.75"/><circle cx="214.2" cy="751" r="4.75"/><circle cx="169.2" cy="802.1" r="4.75"/><circle cx="218.7" cy="721.7" r="4.75"/><circle cx="108.2" cy="754.6" r="4.75"/><circle cx="207.1" cy="784.3" r="4.75"/><circle cx="119.3" cy="740.8" r="4.75"/><circle cx="116.1" cy="788.5" r="4.75"/><circle cx="195" cy="710.3" r="4.75"/><circle cx="216.7" cy="760.5" r="4.75"/><circle cx="175.4" cy="811.6" r="4.75"/><circle cx="161.8" cy="734.5" r="4.75"/><circle cx="144.1" cy="711.2" r="4.75"/><circle cx="156.1" cy="764.1" r="4.75"/><circle cx="153.2" cy="735.4" r="4.75"/><circle cx="186.4" cy="707.1" r="4.75"/><circle cx="169.2" cy="777.4" r="4.75"/><circle cx="159.5" cy="783.8" r="4.75"/><circle cx="204.8" cy="707.9" r="4.75"/><circle cx="168.3" cy="748.6" r="4.75"/><circle cx="126.5" cy="737.3" r="4.75"/><circle cx="178.4" cy="821.1" r="4.75"/><circle cx="170.8" cy="816.1" r="4.75"/><circle cx="139.9" cy="784.8" r="4.75"/><circle cx="223" cy="730.4" r="4.75"/><circle cx="200.1" cy="792.2" r="4.75"/><circle cx="183.6" cy="812.5" r="4.75"/><circle cx="180" cy="697.4" r="4.75"/><circle cx="197.1" cy="788.9" r="4.75"/><circle cx="145.5" cy="754.7" r="4.75"/><circle cx="117.2" cy="791.1" r="4.75"/><circle cx="216.6" cy="773.9" r="4.75"/><circle cx="200" cy="742.9" r="4.75"/><circle cx="150.8" cy="803.4" r="4.75"/><circle cx="158.7" cy="695.4" r="4.75"/><circle cx="184.6" cy="736.6" r="4.75"/><circle cx="121.1" cy="741.8" r="4.75"/><circle cx="185.4" cy="808.9" r="4.75"/><circle cx="123.7" cy="715.7" r="4.75"/><circle cx="175.6" cy="713.8" r="4.75"/><circle cx="182.3" cy="710" r="4.75"/><circle cx="197.4" cy="801.5" r="4.75"/><circle cx="176" cy="750.6" r="4.75"/><circle cx="151" cy="715.6" r="4.75"/><circle cx="169.1" cy="764.5" r="4.75"/><circle cx="139.8" cy="752.7" r="4.75"/><circle cx="146.9" cy="757" r="4.75"/><circle cx="161.2" cy="719.1" r="4.75"/><circle cx="153.5" cy="800.1" r="4.75"/><circle cx="197.4" cy="750.9" r="4.75"/><circle cx="191.9" cy="731.5" r="4.75"/><circle cx="134.6" cy="768.8" r="4.75"/><circle cx="220.8" cy="736.8" r="4.75"/><circle cx="138.9" cy="696.4" r="4.75"/><circle cx="173.8" cy="728.4" r="4.75"/><circle cx="157.6" cy="736.1" r="4.75"/><circle cx="224.9" cy="766.5" r="4.75"/><circle cx="167.9" cy="793.8" r="4.75"/><circle cx="190.7" cy="777.4" r="4.75"/><circle cx="189.1" cy="736.4" r="4.75"/><circle cx="189" cy="774.8" r="4.75"/><circle cx="185.3" cy="726.7" r="4.75"/><circle cx="132.6" cy="787.4" r="4.75"/><circle cx="226.8" cy="759.7" r="4.75"/><circle cx="170.6" cy="793.6" r="4.75"/><circle cx="157.1" cy="727.7" r="4.75"/><circle cx="153.9" cy="784.2" r="4.75"/><circle cx="185.3" cy="702.9" r="4.75"/><circle cx="220.2" cy="756.1" r="4.75"/><circle cx="148.6" cy="754.1" r="4.75"/><circle cx="202" cy="805.5" r="4.75"/><circle cx="133.4" cy="770.7" r="4.75"/><circle cx="127.6" cy="762.5" r="4.75"/><circle cx="142.7" cy="705.2" r="4.75"/><circle cx="188" cy="721.1" r="4.75"/><circle cx="158.5" cy="796.5" r="4.75"/><circle cx="185.5" cy="711.9" r="4.75"/><circle cx="173.1" cy="691" r="4.75"/><circle cx="113.1" cy="788.7" r="4.75"/><circle cx="147.5" cy="794.7" r="4.75"/><circle cx="128.9" cy="789.1" r="4.75"/><circle cx="202.8" cy="719.3" r="4.75"/><circle cx="184.1" cy="818" r="4.75"/><circle cx="200.6" cy="805.5" r="4.75"/><circle cx="168.3" cy="731.5" r="4.75"/><circle cx="117.8" cy="706.8" r="4.75"/><circle cx="218.5" cy="745.8" r="4.75"/><circle cx="181.4" cy="703.4" r="4.75"/><circle cx="202.3" cy="723.4" r="4.75"/><circle cx="183.5" cy="821.5" r="4.75"/><circle cx="151" cy="765.8" r="4.75"/><circle cx="150.4" cy="689.5" r="4.75"/><circle cx="163.3" cy="809.7" r="4.75"/><circle cx="206.8" cy="783.8" r="4.75"/><circle cx="222.5" cy="779.8" r="4.75"/><circle cx="152" cy="774.4" r="4.75"/><circle cx="183" cy="726.7" r="4.75"/><circle cx="185.3" cy="762.4" r="4.75"/><circle cx="146.3" cy="737.4" r="4.75"/><circle cx="157.3" cy="779.7" r="4.75"/><circle cx="202" cy="793.4" r="4.75"/><circle cx="203.2" cy="794.9" r="4.75"/><circle cx="217.4" cy="747" r="4.75"/><circle cx="111.5" cy="734.4" r="4.75"/><circle cx="201.1" cy="816.9" r="4.75"/><circle cx="172.8" cy="682.8" r="4.75"/><circle cx="205" cy="720.6" r="4.75"/><circle cx="224" cy="719" r="4.75"/><circle cx="129.7" cy="761.9" r="4.75"/><circle cx="142.8" cy="724.9" r="4.75"/><circle cx="182" cy="685.3" r="4.75"/><circle cx="192.6" cy="743.5" r="4.75"/><circle cx="220.8" cy="786.3" r="4.75"/><circle cx="174.5" cy="819.3" r="4.75"/><circle cx="220.3" cy="716.9" r="4.75"/><circle cx="116" cy="730.2" r="4.75"/><circle cx="172.3" cy="684" r="4.75"/><circle cx="145.1" cy="764.9" r="4.75"/><circle cx="192.4" cy="720.6" r="4.75"/><circle cx="137.8" cy="727.2" r="4.75"/><circle cx="142" cy="794.2" r="4.75"/><circle cx="169.2" cy="756.6" r="4.75"/><circle cx="142.1" cy="723" r="4.75"/><circle cx="172.7" cy="765" r="4.75"/><circle cx="200.4" cy="793.9" r="4.75"/><circle cx="191.2" cy="735.7" r="4.75"/><circle cx="174" cy="695.9" r="4.75"/><circle cx="114.7" cy="783.9" r="4.75"/><circle cx="178.7" cy="821" r="4.75"/><circle cx="120.3" cy="737.1" r="4.75"/><circle cx="107.1" cy="759.9" r="4.75"/><circle cx="173.1" cy="680.8" r="4.75"/><circle cx="191.2" cy="696.9" r="4.75"/><circle cx="148.6" cy="811" r="4.75"/><circle cx="201.5" cy="715.6" r="4.75"/><circle cx="229.8" cy="739.6" r="4.75"/><circle cx="196.2" cy="759.7" r="4.75"/><circle cx="203.9" cy="805.3" r="4.75"/><circle cx="122.9" cy="794" r="4.75"/><circle cx="210.8" cy="754.6" r="4.75"/><circle cx="167" cy="735.9" r="4.75"/><circle cx="162.6" cy="699.7" r="4.75"/><circle cx="138" cy="784.6" r="4.75"/><circle cx="177" cy="756.5" r="4.75"/><circle cx="175.5" cy="806.1" r="4.75"/><circle cx="139.3" cy="718.6" r="4.75"/><circle cx="170" cy="766.8" r="4.75"/><circle cx="205.5" cy="763.3" r="4.75"/><circle cx="148.7" cy="735.6" r="4.75"/><circle cx="222.6" cy="732.4" r="4.75"/><circle cx="163.5" cy="802.3" r="4.75"/><circle cx="149.3" cy="794.4" r="4.75"/><circle cx="166.2" cy="724.5" r="4.75"/><circle cx="162.2" cy="687.3" r="4.75"/><circle cx="146.5" cy="737.8" r="4.75"/><circle cx="131.6" cy="754.5" r="4.75"/><circle cx="206.1" cy="784.6" r="4.75"/><circle cx="158.7" cy="799.1" r="4.75"/><circle cx="166.8" cy="788.7" r="4.75"/><circle cx="203.6" cy="808.8" r="4.75"/><circle cx="176.7" cy="758" r="4.75"/><circle cx="177.2" cy="738.6" r="4.75"/><circle cx="134.8" cy="748.7" r="4.75"/><circle cx="195.1" cy="717.4" r="4.75"/><circle cx="170.2" cy="820.7" r="4.75"/><circle cx="122.8" cy="755.7" r="4.75"/><circle cx="136.3" cy="750.9" r="4.75"/><circle cx="230.1" cy="759.8" r="4.75"/><circle cx="124.9" cy="796.1" r="4.75"/><circle cx="143.8" cy="749.8" r="4.75"/><circle cx="133.1" cy="759" r="4.75"/><circle cx="159.8" cy="796.2" r="4.75"/><circle cx="200.9" cy="737.2" r="4.75"/><circle cx="185.9" cy="692.7" r="4.75"/><circle cx="155.7" cy="714.9" r="4.75"/><circle cx="199.2" cy="712.7" r="4.75"/><circle cx="124.9" cy="729.8" r="4.75"/><circle cx="164.5" cy="724.8" r="4.75"/><circle cx="185.4" cy="698.2" r="4.75"/><circle cx="227.8" cy="785" r="4.75"/><circle cx="142.1" cy="784.4" r="4.75"/><circle cx="191.5" cy="805" r="4.75"/><circle cx="142.7" cy="689.2" r="4.75"/><circle cx="175" cy="786.5" r="4.75"/><circle cx="178.8" cy="783.5" r="4.75"/><circle cx="228.4" cy="739" r="4.75"/><circle cx="138.9" cy="771.7" r="4.75"/><circle cx="184.7" cy="755.3" r="4.75"/><circle cx="113.3" cy="710" r="4.75"/><circle cx="210.8" cy="782.9" r="4.75"/><circle cx="129.1" cy="782.6" r="4.75"/><circle cx="134" cy="754.8" r="4.75"/><circle cx="146.2" cy="803.6" r="4.75"/><circle cx="190.9" cy="810.3" r="4.75"/><circle cx="185.4" cy="814.9" r="4.75"/><circle cx="154.4" cy="782.5" r="4.75"/><circle cx="187.7" cy="756.9" r="4.75"/><circle cx="179" cy="758.2" r="4.75"/><circle cx="170.3" cy="697.2" r="4.75"/><circle cx="125" cy="741.1" r="4.75"/><circle cx="176.1" cy="709.9" r="4.75"/><circle cx="133.6" cy="757.3" r="4.75"/><circle cx="164.9" cy="735.8" r="4.75"/><circle cx="175.9" cy="759.8" r="4.75"/><circle cx="222.2" cy="790" r="4.75"/><circle cx="139.4" cy="783.1" r="4.75"/><circle cx="223" cy="732.2" r="4.75"/><circle cx="159.7" cy="687.5" r="4.75"/><circle cx="184.6" cy="713.2" r="4.75"/><circle cx="194.8" cy="802.9" r="4.75"/><circle cx="191.1" cy="731.8" r="4.75"/><circle cx="178.6" cy="817" r="4.75"/><circle cx="162.8" cy="799.4" r="4.75"/><circle cx="184.3" cy="739" r="4.75"/><circle cx="100" cy="747.2" r="4.75"/><circle cx="113.3" cy="753.5" r="4.75"/><circle cx="146.8" cy="713.4" r="4.75"/><circle cx="193" cy="803.3" r="4.75"/><circle cx="128.8" cy="762.7" r="4.75"/><circle cx="147" cy="694.4" r="4.75"/><circle cx="159" cy="731.2" r="4.75"/><circle cx="137.2" cy="805.7" r="4.75"/><circle cx="159.9" cy="785.9" r="4.75"/><circle cx="189.9" cy="755.4" r="4.75"/><circle cx="118.3" cy="776.3" r="4.75"/><circle cx="167.1" cy="725.3" r="4.75"/><circle cx="151" cy="808.7" r="4.75"/><circle cx="118.7" cy="788.8" r="4.75"/><circle cx="193.2" cy="800.3" r="4.75"/><circle cx="163" cy="747.3" r="4.75"/><circle cx="167.9" cy="798.4" r="4.75"/><circle cx="203.5" cy="700.3" r="4.75"/><circle cx="159.8" cy="759.3" r="4.75"/><circle cx="114.9" cy="731.2" r="4.75"/><circle cx="210.2" cy="780.5" r="4.75"/><circle cx="215.1" cy="716.4" r="4.75"/><circle cx="189.7" cy="792.1" r="4.75"/><circle cx="232.8" cy="758.6" r="4.75"/><circle cx="232" cy="779.6" r="4.75"/><circle cx="144.7" cy="708" r="4.75"/><circle cx="182.2" cy="754.4" r="4.75"/><circle cx="157.8" cy="802" r="4.75"/><circle cx="198.5" cy="778.2" r="4.75"/><circle cx="174.7" cy="709.5" r="4.75"/><circle cx="191.3" cy="733" r="4.75"/><circle cx="178.3" cy="776.1" r="4.75"/><circle cx="140" cy="714.6" r="4.75"/><circle cx="156" cy="768.3" r="4.75"/><circle cx="140.9" cy="758.1" r="4.75"/><circle cx="161.1" cy="752.4" r="4.75"/><circle cx="156.3" cy="695.9" r="4.75"/><circle cx="152.9" cy="733.4" r="4.75"/><circle cx="115.1" cy="763.5" r="4.75"/><circle cx="204.7" cy="724.4" r="4.75"/><circle cx="113.8" cy="710.7" r="4.75"/><circle cx="145.7" cy="714.8" r="4.75"/><circle cx="164" cy="692.8" r="4.75"/><circle cx="111.9" cy="710.3" r="4.75"/><circle cx="215.7" cy="758.5" r="4.75"/><circle cx="122.4" cy="740.2" r="4.75"/><circle cx="226.5" cy="765.3" r="4.75"/><circle cx="177.4" cy="733.8" r="4.75"/><circle cx="122" cy="773.4" r="4.75"/><circle cx="150.9" cy="783.1" r="4.75"/><circle cx="183.1" cy="689.4" r="4.75"/><circle cx="175" cy="680.1" r="4.75"/><circle cx="150.7" cy="715.9" r="4.75"/><circle cx="146.9" cy="809.5" r="4.75"/><circle cx="126.5" cy="787.6" r="4.75"/><circle cx="145.5" cy="758.2" r="4.75"/><circle cx="124" cy="746" r="4.75"/><circle cx="136.6" cy="804.7" r="4.75"/><circle cx="183.3" cy="771.7" r="4.75"/><circle cx="208.4" cy="710.7" r="4.75"/><circle cx="140.5" cy="805" r="4.75"/><circle cx="223.8" cy="774.8" r="4.75"/><circle cx="201.2" cy="806.2" r="4.75"/><circle cx="202.5" cy="710.6" r="4.75"/><circle cx="122.9" cy="796.8" r="4.75"/><circle cx="150.2" cy="749.1" r="4.75"/><circle cx="186.6" cy="712.9" r="4.75"/><circle cx="190.4" cy="781.2" r="4.75"/><circle cx="156.8" cy="713.6" r="4.75"/><circle cx="111.8" cy="762.3" r="4.75"/><circle cx="106.3" cy="782.3" r="4.75"/><circle cx="157.1" cy="742.3" r="4.75"/><circle cx="170.5" cy="755.9" r="4.75"/><circle cx="122.2" cy="728.4" r="4.75"/><circle cx="231.8" cy="745.1" r="4.75"/><circle cx="165.5" cy="739.8" r="4.75"/><circle cx="182.7" cy="721.3" r="4.75"/><circle cx="114.8" cy="767.3" r="4.75"/><circle cx="213.4" cy="798.8" r="4.75"/><circle cx="214" cy="765" r="4.75"/><circle cx="109.3" cy="764.7" r="4.75"/><circle cx="143.8" cy="729.9" r="4.75"/><circle cx="176.9" cy="775.4" r="4.75"/><circle cx="181.8" cy="749.6" r="4.75"/><circle cx="189.8" cy="810.9" r="4.75"/><circle cx="160.7" cy="752.2" r="4.75"/><circle cx="116.6" cy="722.6" r="4.75"/><circle cx="223.4" cy="770.6" r="4.75"/><circle cx="189.2" cy="806.3" r="4.75"/><circle cx="176.8" cy="764.7" r="4.75"/><circle cx="132.4" cy="703.2" r="4.75"/><circle cx="166" cy="792.4" r="4.75"/><circle cx="160.1" cy="729.1" r="4.75"/><circle cx="140.5" cy="794.5" r="4.75"/><circle cx="182.7" cy="779.9" r="4.75"/><circle cx="226.7" cy="739.4" r="4.75"/><circle cx="182.4" cy="688.3" r="4.75"/><circle cx="132.9" cy="700.8" r="4.75"/><circle cx="173.4" cy="703" r="4.75"/><circle cx="136.4" cy="750.6" r="4.75"/><circle cx="149.1" cy="733.9" r="4.75"/><circle cx="192.7" cy="700.6" r="4.75"/><circle cx="119.8" cy="783.4" r="4.75"/><circle cx="157.6" cy="747.8" r="4.75"/><circle cx="107.9" cy="773.4" r="4.75"/><circle cx="200.2" cy="803.7" r="4.75"/><circle cx="178.9" cy="760.7" r="4.75"/><circle cx="169.2" cy="748.4" r="4.75"/><circle cx="196.9" cy="765" r="4.75"/><circle cx="224.2" cy="743.7" r="4.75"/><circle cx="164.6" cy="808.4" r="4.75"/><circle cx="196.2" cy="756.3" r="4.75"/><circle cx="178.8" cy="803.9" r="4.75"/><circle cx="185.6" cy="711.4" r="4.75"/><circle cx="139.7" cy="769.9" r="4.75"/><circle cx="127.6" cy="742.7" r="4.75"/><circle cx="188.5" cy="732.5" r="4.75"/><circle cx="159.3" cy="776.2" r="4.75"/><circle cx="146.8" cy="800.4" r="4.75"/><circle cx="206.4" cy="719.4" r="4.75"/><circle cx="182.8" cy="800.8" r="4.75"/><circle cx="111.6" cy="784.5" r="4.75"/><circle cx="210.2" cy="752.9" r="4.75"/><circle cx="180.5" cy="729.5" r="4.75"/><circle cx="137.1" cy="738.7" r="4.75"/><circle cx="173.1" cy="745.7" r="4.75"/><circle cx="185.7" cy="772.1" r="4.75"/><circle cx="189.1" cy="708.8" r="4.75"/><circle cx="152.7" cy="703.1" r="4.75"/><circle cx="206.7" cy="816.4" r="4.75"/><circle cx="200.6" cy="719.6" r="4.75"/><circle cx="168.7" cy="781.8" r="4.75"/><circle cx="177.4" cy="815.6" r="4.75"/><circle cx="171.1" cy="721.3" r="4.75"/><circle cx="185.1" cy="766.3" r="4.75"/><circle cx="136.9" cy="760.3" r="4.75"/><circle cx="169.2" cy="814.8" r="4.75"/><circle cx="207.4" cy="794.4" r="4.75"/><circle cx="149.3" cy="706.6" r="4.75"/><circle cx="107.6" cy="754.8" r="4.75"/><circle cx="170.8" cy="689.5" r="4.75"/><circle cx="174.9" cy="723.9" r="4.75"/><circle cx="176.9" cy="710.1" r="4.75"/><circle cx="128.6" cy="761.5" r="4.75"/><circle cx="161.7" cy="723.6" r="4.75"/><circle cx="120.3" cy="775.9" r="4.75"/><circle cx="209.5" cy="704.5" r="4.75"/><circle cx="145" cy="767.3" r="4.75"/><circle cx="160.1" cy="801.9" r="4.75"/><circle cx="130.7" cy="739.1" r="4.75"/><circle cx="162" cy="815.5" r="4.75"/><circle cx="193.7" cy="771.7" r="4.75"/><circle cx="225.4" cy="733" r="4.75"/><circle cx="232.5" cy="769.9" r="4.75"/><circle cx="228.6" cy="757.6" r="4.75"/><circle cx="208.4" cy="730.3" r="4.75"/><circle cx="162.3" cy="727.1" r="4.75"/><circle cx="153" cy="747.3" r="4.75"/><circle cx="117.7" cy="763.5" r="4.75"/><circle cx="226.5" cy="788" r="4.75"/><circle cx="162.5" cy="773.7" r="4.75"/><circle cx="186.3" cy="707.4" r="4.75"/><circle cx="191.5" cy="696.6" r="4.75"/><circle cx="224.1" cy="720" r="4.75"/><circle cx="157.9" cy="760.6" r="4.75"/><circle cx="222.3" cy="783.4" r="4.75"/><circle cx="121.4" cy="727.8" r="4.75"/><circle cx="194.7" cy="725.4" r="4.75"/><circle cx="154" cy="728.4" r="4.75"/><circle cx="127" cy="720.3" r="4.75"/><circle cx="170.7" cy="820.1" r="4.75"/><circle cx="175.1" cy="820.5" r="4.75"/><circle cx="175.5" cy="740.7" r="4.75"/><circle cx="226.5" cy="765.9" r="4.75"/><circle cx="165.2" cy="754.3" r="4.75"/><circle cx="146.7" cy="740.9" r="4.75"/><circle cx="147.4" cy="770.7" r="4.75"/><circle cx="196.5" cy="814.4" r="4.75"/><circle cx="191.3" cy="700.8" r="4.75"/><circle cx="144.7" cy="764.9" r="4.75"/><circle cx="221.3" cy="781.1" r="4.75"/><circle cx="140.6" cy="748.9" r="4.75"/><circle cx="148.4" cy="762.2" r="4.75"/><circle cx="141" cy="793.1" r="4.75"/><circle cx="229.4" cy="764.5" r="4.75"/><circle cx="156" cy="679.6" r="4.75"/><circle cx="193.5" cy="813" r="4.75"/><circle cx="142.4" cy="720.5" r="4.75"/><circle cx="146.8" cy="778.3" r="4.75"/><circle cx="179.2" cy="765" r="4.75"/><circle cx="185.8" cy="781.9" r="4.75"/><circle cx="141.6" cy="727.1" r="4.75"/><circle cx="153.1" cy="756" r="4.75"/><circle cx="179.4" cy="815.5" r="4.75"/><circle cx="152.9" cy="743.6" r="4.75"/><circle cx="129.3" cy="791.2" r="4.75"/><circle cx="130" cy="793" r="4.75"/><circle cx="178.8" cy="751.7" r="4.75"/><circle cx="178.6" cy="793.2" r="4.75"/><circle cx="117.3" cy="767.2" r="4.75"/><circle cx="218.8" cy="741.6" r="4.75"/><circle cx="198" cy="779.7" r="4.75"/><circle cx="146.9" cy="694.9" r="4.75"/><circle cx="160.1" cy="808.5" r="4.75"/><circle cx="118.5" cy="750.6" r="4.75"/><circle cx="192.9" cy="753.8" r="4.75"/><circle cx="142.7" cy="698.1" r="4.75"/><circle cx="232.7" cy="772" r="4.75"/><circle cx="177.4" cy="739.9" r="4.75"/><circle cx="162.5" cy="761" r="4.75"/><circle cx="118" cy="771.7" r="4.75"/><circle cx="135.4" cy="693.7" r="4.75"/><circle cx="150.5" cy="778.4" r="4.75"/><circle cx="205.3" cy="772.2" r="4.75"/><circle cx="159.7" cy="805.5" r="4.75"/><circle cx="160.1" cy="808.9" r="4.75"/><circle cx="151.6" cy="742.6" r="4.75"/><circle cx="119.9" cy="743.5" r="4.75"/><circle cx="161.3" cy="733.5" r="4.75"/><circle cx="118.5" cy="768.7" r="4.75"/><circle cx="119.6" cy="798.9" r="4.75"/><circle cx="223.1" cy="742.3" r="4.75"/><circle cx="163.7" cy="753.4" r="4.75"/><circle cx="117.1" cy="759.1" r="4.75"/><circle cx="157.8" cy="817.8" r="4.75"/><circle cx="165.6" cy="692.8" r="4.75"/><circle cx="186.2" cy="705.6" r="4.75"/><circle cx="115.2" cy="730.9" r="4.75"/><circle cx="141.5" cy="715" r="4.75"/><circle cx="206.3" cy="718.8" r="4.75"/><circle cx="181.6" cy="720.5" r="4.75"/><circle cx="160.6" cy="745.2" r="4.75"/><circle cx="174.9" cy="758.3" r="4.75"/><circle cx="140.6" cy="807" r="4.75"/><circle cx="203.6" cy="721.7" r="4.75"/><circle cx="183.3" cy="745.8" r="4.75"/><circle cx="166.6" cy="734.3" r="4.75"/><circle cx="174.6" cy="704.5" r="4.75"/><circle cx="129.7" cy="799.7" r="4.75"/><circle cx="147.6" cy="768.3" r="4.75"/><circle cx="193.9" cy="736.7" r="4.75"/><circle cx="126.4" cy="734.8" r="4.75"/><circle cx="199.7" cy="780.9" r="4.75"/><circle cx="118.9" cy="733.3" r="4.75"/><circle cx="185.1" cy="799.6" r="4.75"/><circle cx="186.2" cy="732.7" r="4.75"/><circle cx="201.6" cy="717.3" r="4.75"/><circle cx="158.8" cy="804.4" r="4.75"/><circle cx="106.1" cy="736.6" r="4.75"/><circle cx="174.2" cy="791.6" r="4.75"/><circle cx="114" cy="741.5" r="4.75"/><circle cx="175.5" cy="775.5" r="4.75"/><circle cx="110.2" cy="766.6" r="4.75"/><circle cx="143.3" cy="801.9" r="4.75"/><circle cx="200.3" cy="721.2" r="4.75"/><circle cx="112.9" cy="728.2" r="4.75"/><circle cx="128.1" cy="751.7" r="4.75"/><circle cx="167.3" cy="823.7" r="4.75"/><circle cx="174.1" cy="763.1" r="4.75"/><circle cx="113.8" cy="728.6" r="4.75"/><circle cx="229.9" cy="726.5" r="4.75"/><circle cx="165.2" cy="757.1" r="4.75"/><circle cx="228.9" cy="789.3" r="4.75"/><circle cx="217.5" cy="798.1" r="4.75"/><circle cx="153.6" cy="685.3" r="4.75"/><circle cx="172.5" cy="777.9" r="4.75"/><circle cx="145.7" cy="794.6" r="4.75"/><circle cx="155.3" cy="729.8" r="4.75"/><circle cx="176.6" cy="702.4" r="4.75"/><circle cx="195.2" cy="744.9" r="4.75"/><circle cx="187.1" cy="763.6" r="4.75"/><circle cx="158.2" cy="800.5" r="4.75"/><circle cx="156" cy="813.1" r="4.75"/><circle cx="199.2" cy="779.4" r="4.75"/><circle cx="172.6" cy="766.5" r="4.75"/><circle cx="145.7" cy="809.9" r="4.75"/><circle cx="129.7" cy="775.8" r="4.75"/><circle cx="159.2" cy="692.7" r="4.75"/><circle cx="136.3" cy="747.5" r="4.75"/><circle cx="158.4" cy="747.1" r="4.75"/><circle cx="184.9" cy="683.9" r="4.75"/><circle cx="176" cy="737" r="4.75"/><circle cx="232.7" cy="756.1" r="4.75"/><circle cx="205.2" cy="741.7" r="4.75"/><circle cx="148.8" cy="683.8" r="4.75"/><circle cx="139.2" cy="771" r="4.75"/><circle cx="180.4" cy="762.4" r="4.75"/><circle cx="183.8" cy="714.4" r="4.75"/><circle cx="187.6" cy="741.7" r="4.75"/><circle cx="165.6" cy="757.9" r="4.75"/><circle cx="162.2" cy="766.6" r="4.75"/><circle cx="120" cy="753.9" r="4.75"/><circle cx="193.6" cy="796.1" r="4.75"/><circle cx="194.8" cy="737.6" r="4.75"/><circle cx="197.7" cy="768.6" r="4.75"/><circle cx="165.5" cy="774.2" r="4.75"/><circle cx="175.4" cy="718.8" r="4.75"/><circle cx="160.6" cy="791.1" r="4.75"/><circle cx="232.5" cy="759.3" r="4.75"/><circle cx="174.9" cy="797.8" r="4.75"/><circle cx="198.6" cy="763.3" r="4.75"/><circle cx="190.3" cy="784.1" r="4.75"/><circle cx="173.6" cy="767.2" r="4.75"/><circle cx="196.8" cy="699.4" r="4.75"/><circle cx="146.3" cy="784.3" r="4.75"/><circle cx="178.7" cy="712.7" r="4.75"/><circle cx="112.5" cy="765.3" r="4.75"/><circle cx="186.2" cy="715.3" r="4.75"/><circle cx="165.1" cy="741.4" r="4.75"/><circle cx="158.1" cy="811.3" r="4.75"/><circle cx="146.6" cy="727.6" r="4.75"/><circle cx="148.2" cy="814.4" r="4.75"/><circle cx="125.4" cy="711.2" r="4.75"/><circle cx="172.3" cy="685.7" r="4.75"/><circle cx="211.8" cy="786.3" r="4.75"/><circle cx="215.1" cy="784.3" r="4.75"/><circle cx="210.5" cy="744.9" r="4.75"/><circle cx="224.2" cy="776.8" r="4.75"/><circle cx="228.7" cy="786.2" r="4.75"/><circle cx="171.5" cy="684.2" r="4.75"/><circle cx="129.2" cy="764.9" r="4.75"/><circle cx="119.2" cy="728.2" r="4.75"/><circle cx="191.2" cy="768.2" r="4.75"/><circle cx="229.9" cy="740.9" r="4.75"/><circle cx="177.3" cy="738.9" r="4.75"/><circle cx="208.4" cy="773.5" r="4.75"/><circle cx="190.4" cy="701.7" r="4.75"/><circle cx="133.7" cy="768.3" r="4.75"/><circle cx="132.6" cy="808" r="4.75"/><circle cx="161.9" cy="794.5" r="4.75"/><circle cx="135.6" cy="803.5" r="4.75"/><circle cx="167.8" cy="810" r="4.75"/><circle cx="215.9" cy="737" r="4.75"/><circle cx="139.3" cy="758.5" r="4.75"/><circle cx="187.7" cy="811.5" r="4.75"/><circle cx="188.8" cy="815.9" r="4.75"/><circle cx="130.4" cy="769.6" r="4.75"/><circle cx="200.2" cy="720.2" r="4.75"/><circle cx="141.6" cy="718.6" r="4.75"/><circle cx="116.6" cy="711.5" r="4.75"/><circle cx="187.8" cy="721.1" r="4.75"/><circle cx="213.9" cy="786.1" r="4.75"/><circle cx="139.8" cy="704.8" r="4.75"/><circle cx="190.2" cy="754.1" r="4.75"/><circle cx="214.5" cy="743" r="4.75"/><circle cx="127.4" cy="756.2" r="4.75"/><circle cx="202.2" cy="761.7" r="4.75"/><circle cx="162.6" cy="759" r="4.75"/><circle cx="121.4" cy="708.7" r="4.75"/><circle cx="124.8" cy="770.2" r="4.75"/><circle cx="103.6" cy="744.1" r="4.75"/><circle cx="188.1" cy="783.7" r="4.75"/><circle cx="126.9" cy="748" r="4.75"/><circle cx="175.1" cy="700.5" r="4.75"/><circle cx="131.8" cy="759.4" r="4.75"/><circle cx="226.8" cy="757.3" r="4.75"/><circle cx="174.2" cy="714.8" r="4.75"/><circle cx="119.5" cy="748.7" r="4.75"/><circle cx="140.8" cy="704.6" r="4.75"/><circle cx="183.5" cy="808.4" r="4.75"/><circle cx="152" cy="713.5" r="4.75"/><circle cx="179.8" cy="699.8" r="4.75"/><circle cx="172.3" cy="757.9" r="4.75"/><circle cx="132.1" cy="709.8" r="4.75"/><circle cx="138.5" cy="705.5" r="4.75"/><circle cx="138.1" cy="699.6" r="4.75"/><circle cx="140.8" cy="703.3" r="4.75"/><circle cx="141.6" cy="705" r="4.75"/><circle cx="142.5" cy="700.7" r="4.75"/><circle cx="140.7" cy="695.4" r="4.75"/><circle cx="139.7" cy="704.2" r="4.75"/><circle cx="142.5" cy="696.4" r="4.75"/><circle cx="140.8" cy="706.3" r="4.75"/><circle cx="123.8" cy="737.5" r="4.75"/><circle cx="111.1" cy="752.8" r="4.75"/><circle cx="127.2" cy="787.9" r="4.75"/><circle cx="132.6" cy="742.2" r="4.75"/><circle cx="116.2" cy="737.8" r="4.75"/><circle cx="109.1" cy="774.7" r="4.75"/><circle cx="124.2" cy="777.7" r="4.75"/><circle cx="109.2" cy="781.2" r="4.75"/><circle cx="129.7" cy="736" r="4.75"/><circle cx="113.4" cy="747.6" r="4.75"/><circle cx="104.7" cy="743" r="4.75"/><circle cx="114.7" cy="778.3" r="4.75"/><circle cx="126.1" cy="739.1" r="4.75"/><circle cx="109.4" cy="757.9" r="4.75"/><circle cx="104.3" cy="753.6" r="4.75"/><circle cx="105" cy="757.1" r="4.75"/><circle cx="123.7" cy="763.8" r="4.75"/><circle cx="114.4" cy="751.7" r="4.75"/><circle cx="124.1" cy="782.7" r="4.75"/><circle cx="107.2" cy="764.9" r="4.75"/><circle cx="120.9" cy="788.6" r="4.75"/><circle cx="112.5" cy="756.3" r="4.75"/><circle cx="132.1" cy="759.9" r="4.75"/><circle cx="124.4" cy="766.2" r="4.75"/><circle cx="110.7" cy="754.6" r="4.75"/><circle cx="121.1" cy="755.9" r="4.75"/><circle cx="121.9" cy="805.1" r="4.75"/><circle cx="115.4" cy="752.5" r="4.75"/><circle cx="129.1" cy="768.2" r="4.75"/><circle cx="103.7" cy="765.1" r="4.75"/><circle cx="642.1" cy="728.7" r="4.75"/><circle cx="631.2" cy="777.8" r="4.75"/><circle cx="627" cy="704.1" r="4.75"/><circle cx="601.3" cy="742.8" r="4.75"/><circle cx="582.1" cy="740.5" r="4.75"/><circle cx="680.1" cy="764.5" r="4.75"/><circle cx="623.5" cy="716.9" r="4.75"/><circle cx="551.1" cy="761.9" r="4.75"/><circle cx="558.8" cy="824.9" r="4.75"/><circle cx="618.3" cy="758.6" r="4.75"/><circle cx="606.5" cy="771.4" r="4.75"/><circle cx="610.9" cy="714.6" r="4.75"/><circle cx="583.2" cy="793" r="4.75"/><circle cx="556.1" cy="827.2" r="4.75"/><circle cx="573.5" cy="827.8" r="4.75"/><circle cx="613.9" cy="763.2" r="4.75"/><circle cx="639" cy="774.7" r="4.75"/><circle cx="581" cy="712.3" r="4.75"/><circle cx="560.4" cy="800.4" r="4.75"/><circle cx="574.4" cy="715.3" r="4.75"/><circle cx="563.7" cy="822.7" r="4.75"/><circle cx="600" cy="795.9" r="4.75"/><circle cx="557.1" cy="788.6" r="4.75"/><circle cx="571.4" cy="811.7" r="4.75"/><circle cx="554.6" cy="708.3" r="4.75"/><circle cx="645.9" cy="741.4" r="4.75"/><circle cx="586.5" cy="779.2" r="4.75"/><circle cx="604.4" cy="803.9" r="4.75"/><circle cx="648.2" cy="755.8" r="4.75"/><circle cx="566.2" cy="786.7" r="4.75"/><circle cx="627.7" cy="742.7" r="4.75"/><circle cx="615.7" cy="701.8" r="4.75"/><circle cx="631.3" cy="747.1" r="4.75"/><circle cx="544.1" cy="782.4" r="4.75"/><circle cx="567.4" cy="751.2" r="4.75"/><circle cx="570.6" cy="775.2" r="4.75"/><circle cx="634.4" cy="809.5" r="4.75"/><circle cx="546.7" cy="797" r="4.75"/><circle cx="558.8" cy="716.2" r="4.75"/><circle cx="564.8" cy="763.6" r="4.75"/><circle cx="607.1" cy="729" r="4.75"/><circle cx="601.8" cy="762.1" r="4.75"/><circle cx="599.1" cy="764.4" r="4.75"/><circle cx="545" cy="728.4" r="4.75"/><circle cx="671.3" cy="788.6" r="4.75"/><circle cx="604.8" cy="745.6" r="4.75"/><circle cx="610.7" cy="712.3" r="4.75"/><circle cx="576.3" cy="739.4" r="4.75"/><circle cx="594.7" cy="754.2" r="4.75"/><circle cx="656.5" cy="743" r="4.75"/><circle cx="548.5" cy="698.1" r="4.75"/><circle cx="640.3" cy="805.8" r="4.75"/><circle cx="651.3" cy="759.9" r="4.75"/><circle cx="588.8" cy="753.2" r="4.75"/><circle cx="617.6" cy="756.6" r="4.75"/><circle cx="578.4" cy="716.2" r="4.75"/><circle cx="611.2" cy="720.7" r="4.75"/><circle cx="600.8" cy="789.7" r="4.75"/><circle cx="544.1" cy="736.6" r="4.75"/><circle cx="567.3" cy="788.3" r="4.75"/><circle cx="644.1" cy="750.2" r="4.75"/><circle cx="617.2" cy="696.5" r="4.75"/><circle cx="616" cy="795.6" r="4.75"/><circle cx="571.7" cy="825.1" r="4.75"/><circle cx="606.5" cy="793.6" r="4.75"/><circle cx="661.5" cy="772.3" r="4.75"/><circle cx="552.4" cy="750.6" r="4.75"/><circle cx="614.9" cy="757.4" r="4.75"/><circle cx="596.9" cy="794.8" r="4.75"/><circle cx="584.2" cy="800.6" r="4.75"/><circle cx="640.2" cy="803.2" r="4.75"/><circle cx="566.2" cy="780.2" r="4.75"/><circle cx="596.5" cy="787.7" r="4.75"/><circle cx="638.8" cy="812.1" r="4.75"/><circle cx="544.9" cy="812.1" r="4.75"/><circle cx="561.8" cy="800.3" r="4.75"/><circle cx="627.9" cy="709.6" r="4.75"/><circle cx="632.3" cy="749.5" r="4.75"/><circle cx="571.1" cy="771.1" r="4.75"/><circle cx="607.5" cy="711.8" r="4.75"/><circle cx="610.6" cy="788.9" r="4.75"/><circle cx="584.9" cy="722" r="4.75"/><circle cx="557.4" cy="801.3" r="4.75"/><circle cx="661.7" cy="744.6" r="4.75"/><circle cx="550.8" cy="704.8" r="4.75"/><circle cx="592.9" cy="754.4" r="4.75"/><circle cx="590.3" cy="766.5" r="4.75"/><circle cx="593" cy="750.8" r="4.75"/><circle cx="638.6" cy="757.6" r="4.75"/><circle cx="579.7" cy="784.3" r="4.75"/><circle cx="663.7" cy="785.4" r="4.75"/><circle cx="635.9" cy="742.4" r="4.75"/><circle cx="635.2" cy="728.7" r="4.75"/><circle cx="567.5" cy="753.3" r="4.75"/><circle cx="567.4" cy="723.7" r="4.75"/><circle cx="605.9" cy="705.5" r="4.75"/><circle cx="603.2" cy="726.1" r="4.75"/><circle cx="603.2" cy="783.2" r="4.75"/><circle cx="544.7" cy="717.2" r="4.75"/><circle cx="560.1" cy="789.5" r="4.75"/><circle cx="591.6" cy="736.6" r="4.75"/><circle cx="665.9" cy="782.1" r="4.75"/><circle cx="596.1" cy="813.4" r="4.75"/><circle cx="613.6" cy="791.4" r="4.75"/><circle cx="634.1" cy="788.3" r="4.75"/><circle cx="590.5" cy="743" r="4.75"/><circle cx="657.8" cy="749.8" r="4.75"/><circle cx="620.4" cy="717" r="4.75"/><circle cx="552" cy="711.7" r="4.75"/><circle cx="570.6" cy="747.2" r="4.75"/><circle cx="570.5" cy="734.4" r="4.75"/><circle cx="569.8" cy="717.6" r="4.75"/><circle cx="632" cy="733.4" r="4.75"/><circle cx="591.4" cy="804.2" r="4.75"/><circle cx="550.4" cy="764" r="4.75"/><circle cx="632" cy="742.9" r="4.75"/><circle cx="608.7" cy="779.9" r="4.75"/><circle cx="581.8" cy="815.7" r="4.75"/><circle cx="629.8" cy="774.7" r="4.75"/><circle cx="605.4" cy="745.8" r="4.75"/><circle cx="580" cy="809.2" r="4.75"/><circle cx="587.6" cy="706.6" r="4.75"/><circle cx="552.8" cy="788.1" r="4.75"/><circle cx="610" cy="769.9" r="4.75"/><circle cx="551.4" cy="760.6" r="4.75"/><circle cx="617.1" cy="790.1" r="4.75"/><circle cx="611.8" cy="699.8" r="4.75"/><circle cx="547.6" cy="695.9" r="4.75"/><circle cx="564.5" cy="740.4" r="4.75"/><circle cx="650.3" cy="761.4" r="4.75"/><circle cx="545.7" cy="812.4" r="4.75"/><circle cx="634.9" cy="712.7" r="4.75"/><circle cx="578.5" cy="748.9" r="4.75"/><circle cx="600.8" cy="743.5" r="4.75"/><circle cx="623.8" cy="755.8" r="4.75"/><circle cx="576.3" cy="803.8" r="4.75"/><circle cx="647.8" cy="792.9" r="4.75"/><circle cx="622" cy="711.3" r="4.75"/><circle cx="560.9" cy="773.3" r="4.75"/><circle cx="637.9" cy="780.8" r="4.75"/><circle cx="654.5" cy="793.5" r="4.75"/><circle cx="561.2" cy="695.9" r="4.75"/><circle cx="636.4" cy="767.5" r="4.75"/><circle cx="563.4" cy="813.5" r="4.75"/><circle cx="647.5" cy="723.7" r="4.75"/><circle cx="624.9" cy="745.9" r="4.75"/><circle cx="598.7" cy="796.4" r="4.75"/><circle cx="605.5" cy="786.4" r="4.75"/><circle cx="548.6" cy="793.5" r="4.75"/><circle cx="574.2" cy="827.6" r="4.75"/><circle cx="584.6" cy="766.5" r="4.75"/><circle cx="594.8" cy="764.4" r="4.75"/><circle cx="604.2" cy="752.8" r="4.75"/><circle cx="586.8" cy="755.8" r="4.75"/><circle cx="571.2" cy="709.5" r="4.75"/><circle cx="609.1" cy="709.7" r="4.75"/><circle cx="607.9" cy="772.3" r="4.75"/><circle cx="580.6" cy="706.1" r="4.75"/><circle cx="632.9" cy="786.3" r="4.75"/><circle cx="580.3" cy="712.2" r="4.75"/><circle cx="561.5" cy="729.5" r="4.75"/><circle cx="582.2" cy="720.2" r="4.75"/><circle cx="599.4" cy="815" r="4.75"/><circle cx="550.2" cy="702.9" r="4.75"/><circle cx="631.4" cy="739.8" r="4.75"/><circle cx="553.6" cy="727.3" r="4.75"/><circle cx="562.4" cy="793.7" r="4.75"/><circle cx="677.1" cy="775.2" r="4.75"/><circle cx="617.2" cy="716.7" r="4.75"/><circle cx="594.6" cy="749.8" r="4.75"/><circle cx="608.8" cy="740.5" r="4.75"/><circle cx="564.5" cy="714.9" r="4.75"/><circle cx="618.7" cy="812.4" r="4.75"/><circle cx="596.3" cy="762.7" r="4.75"/><circle cx="545" cy="761.9" r="4.75"/><circle cx="616.6" cy="806.6" r="4.75"/><circle cx="627" cy="793.9" r="4.75"/><circle cx="653.2" cy="714.4" r="4.75"/><circle cx="609.5" cy="699.4" r="4.75"/><circle cx="551.9" cy="731" r="4.75"/><circle cx="619.6" cy="779.2" r="4.75"/><circle cx="545.1" cy="769.8" r="4.75"/><circle cx="542.5" cy="788.2" r="4.75"/><circle cx="602.4" cy="701.2" r="4.75"/><circle cx="580.8" cy="786.6" r="4.75"/><circle cx="588.4" cy="734" r="4.75"/><circle cx="685.4" cy="777.6" r="4.75"/><circle cx="636.4" cy="810.3" r="4.75"/><circle cx="680.8" cy="761.8" r="4.75"/><circle cx="585.9" cy="815.7" r="4.75"/><circle cx="620" cy="778.2" r="4.75"/><circle cx="602.1" cy="747" r="4.75"/><circle cx="642.7" cy="726.5" r="4.75"/><circle cx="569.8" cy="807.5" r="4.75"/><circle cx="546.6" cy="776.2" r="4.75"/><circle cx="597" cy="760.3" r="4.75"/><circle cx="575.7" cy="785.1" r="4.75"/><circle cx="617.9" cy="744.3" r="4.75"/><circle cx="600.7" cy="753.6" r="4.75"/><circle cx="625.4" cy="762.9" r="4.75"/><circle cx="602.9" cy="750" r="4.75"/><circle cx="549.5" cy="735.8" r="4.75"/><circle cx="625.1" cy="719.3" r="4.75"/><circle cx="603.3" cy="754.4" r="4.75"/><circle cx="600" cy="722.4" r="4.75"/><circle cx="565.2" cy="801.4" r="4.75"/><circle cx="579.4" cy="816.1" r="4.75"/><circle cx="645" cy="718.7" r="4.75"/><circle cx="649.4" cy="738.1" r="4.75"/><circle cx="672.5" cy="754" r="4.75"/><circle cx="641.1" cy="769.5" r="4.75"/><circle cx="619.1" cy="753.8" r="4.75"/><circle cx="599.4" cy="761.1" r="4.75"/><circle cx="547.7" cy="776.3" r="4.75"/><circle cx="634.4" cy="752.8" r="4.75"/><circle cx="594.4" cy="779.3" r="4.75"/><circle cx="658.6" cy="792.4" r="4.75"/><circle cx="664.1" cy="735.4" r="4.75"/><circle cx="641.3" cy="784.7" r="4.75"/><circle cx="597.5" cy="760.1" r="4.75"/><circle cx="596.9" cy="784.4" r="4.75"/><circle cx="642.2" cy="787.7" r="4.75"/><circle cx="605.4" cy="696.9" r="4.75"/><circle cx="631.1" cy="798.5" r="4.75"/><circle cx="558.2" cy="815" r="4.75"/><circle cx="630.2" cy="744.2" r="4.75"/><circle cx="612" cy="795.4" r="4.75"/><circle cx="636.9" cy="772.6" r="4.75"/><circle cx="565.8" cy="778.7" r="4.75"/><circle cx="556.1" cy="727.9" r="4.75"/><circle cx="669.6" cy="771.4" r="4.75"/><circle cx="651.8" cy="754.6" r="4.75"/><circle cx="575.4" cy="760.8" r="4.75"/><circle cx="625.7" cy="717.8" r="4.75"/><circle cx="558.7" cy="717.9" r="4.75"/><circle cx="627.8" cy="717.2" r="4.75"/><circle cx="675.1" cy="774.6" r="4.75"/><circle cx="615" cy="704.7" r="4.75"/><circle cx="597" cy="755.8" r="4.75"/><circle cx="589.5" cy="707.7" r="4.75"/><circle cx="561.6" cy="793.1" r="4.75"/><circle cx="632.8" cy="808" r="4.75"/><circle cx="550.5" cy="712.6" r="4.75"/><circle cx="542" cy="806" r="4.75"/><circle cx="559.3" cy="743.1" r="4.75"/><circle cx="625.3" cy="755.7" r="4.75"/><circle cx="665.7" cy="764.6" r="4.75"/><circle cx="599" cy="698.8" r="4.75"/><circle cx="628" cy="754.3" r="4.75"/><circle cx="585.4" cy="806.8" r="4.75"/><circle cx="554" cy="715.6" r="4.75"/><circle cx="633.4" cy="782.4" r="4.75"/><circle cx="554.3" cy="829.5" r="4.75"/><circle cx="545.4" cy="805.4" r="4.75"/><circle cx="632.6" cy="735.8" r="4.75"/><circle cx="561.2" cy="769" r="4.75"/><circle cx="636.9" cy="796.3" r="4.75"/><circle cx="551.1" cy="799.3" r="4.75"/><circle cx="609.8" cy="726.6" r="4.75"/><circle cx="587.9" cy="817" r="4.75"/><circle cx="554.3" cy="727.5" r="4.75"/><circle cx="559.6" cy="749.9" r="4.75"/><circle cx="597.9" cy="786" r="4.75"/><circle cx="639.3" cy="734.8" r="4.75"/><circle cx="592.3" cy="747.3" r="4.75"/><circle cx="558" cy="786.8" r="4.75"/><circle cx="633.8" cy="794.7" r="4.75"/><circle cx="619.5" cy="729.6" r="4.75"/><circle cx="613.6" cy="717.2" r="4.75"/><circle cx="605.5" cy="744.8" r="4.75"/><circle cx="545.9" cy="716.2" r="4.75"/><circle cx="586.6" cy="742.8" r="4.75"/><circle cx="624" cy="800.8" r="4.75"/><circle cx="572" cy="769.2" r="4.75"/><circle cx="585.4" cy="715.4" r="4.75"/><circle cx="553.5" cy="695.3" r="4.75"/><circle cx="579" cy="748.1" r="4.75"/><circle cx="592.7" cy="729.6" r="4.75"/><circle cx="554.1" cy="722.2" r="4.75"/><circle cx="573.2" cy="720.3" r="4.75"/><circle cx="567.5" cy="763.1" r="4.75"/><circle cx="617.8" cy="772.5" r="4.75"/><circle cx="679.2" cy="753.7" r="4.75"/><circle cx="670.9" cy="760.5" r="4.75"/><circle cx="608.1" cy="783.1" r="4.75"/><circle cx="554.6" cy="714" r="4.75"/><circle cx="679.6" cy="761.5" r="4.75"/><circle cx="551.9" cy="762.8" r="4.75"/><circle cx="653.6" cy="789.7" r="4.75"/><circle cx="565.3" cy="807.4" r="4.75"/><circle cx="681.1" cy="767.9" r="4.75"/><circle cx="613.5" cy="720" r="4.75"/><circle cx="575.2" cy="721.1" r="4.75"/><circle cx="583" cy="726.2" r="4.75"/><circle cx="607.6" cy="708.4" r="4.75"/><circle cx="599.1" cy="715.3" r="4.75"/><circle cx="593.1" cy="790" r="4.75"/><circle cx="550.7" cy="792.2" r="4.75"/><circle cx="578.4" cy="786.1" r="4.75"/><circle cx="557.4" cy="807.8" r="4.75"/><circle cx="599.3" cy="814.8" r="4.75"/><circle cx="693" cy="773.6" r="4.75"/><circle cx="639.1" cy="802.7" r="4.75"/><circle cx="562.8" cy="796.5" r="4.75"/><circle cx="545.9" cy="787.2" r="4.75"/><circle cx="642.4" cy="786.1" r="4.75"/><circle cx="598" cy="717" r="4.75"/><circle cx="650.1" cy="767.4" r="4.75"/><circle cx="568.6" cy="718" r="4.75"/><circle cx="564.6" cy="787.8" r="4.75"/><circle cx="627.3" cy="784.1" r="4.75"/><circle cx="575.8" cy="791.7" r="4.75"/><circle cx="550.2" cy="807.5" r="4.75"/><circle cx="570.3" cy="695.5" r="4.75"/><circle cx="611.8" cy="708.8" r="4.75"/><circle cx="564.2" cy="724.7" r="4.75"/><circle cx="639.3" cy="726.1" r="4.75"/><circle cx="608.8" cy="786.1" r="4.75"/><circle cx="631.6" cy="736.3" r="4.75"/><circle cx="600.4" cy="784" r="4.75"/><circle cx="544.7" cy="766.1" r="4.75"/><circle cx="638.2" cy="716.4" r="4.75"/><circle cx="634.4" cy="699.9" r="4.75"/><circle cx="631.4" cy="756.9" r="4.75"/><circle cx="553.6" cy="709.4" r="4.75"/><circle cx="591.8" cy="785.2" r="4.75"/><circle cx="601.7" cy="711.1" r="4.75"/><circle cx="585.5" cy="728.8" r="4.75"/><circle cx="551.2" cy="774.9" r="4.75"/><circle cx="608.2" cy="731.6" r="4.75"/><circle cx="577.9" cy="807.8" r="4.75"/><circle cx="563" cy="816" r="4.75"/><circle cx="546.8" cy="770.6" r="4.75"/><circle cx="629.1" cy="781.1" r="4.75"/><circle cx="616.5" cy="766.3" r="4.75"/><circle cx="573.5" cy="805.1" r="4.75"/><circle cx="579.3" cy="799" r="4.75"/><circle cx="542.5" cy="789.9" r="4.75"/><circle cx="545.5" cy="785.3" r="4.75"/><circle cx="637.8" cy="774.4" r="4.75"/><circle cx="556.4" cy="710" r="4.75"/><circle cx="628" cy="715" r="4.75"/><circle cx="674.1" cy="750.8" r="4.75"/><circle cx="610.8" cy="785.9" r="4.75"/><circle cx="582.2" cy="811.6" r="4.75"/><circle cx="606.2" cy="748.7" r="4.75"/><circle cx="651.7" cy="787.6" r="4.75"/><circle cx="666" cy="745.1" r="4.75"/><circle cx="640.4" cy="764.7" r="4.75"/><circle cx="596.6" cy="697.7" r="4.75"/><circle cx="576.9" cy="801.3" r="4.75"/><circle cx="594.3" cy="749.2" r="4.75"/><circle cx="652.6" cy="789.2" r="4.75"/><circle cx="550.9" cy="783.4" r="4.75"/><circle cx="571.1" cy="803.7" r="4.75"/><circle cx="558.9" cy="759.9" r="4.75"/><circle cx="601.7" cy="768.8" r="4.75"/><circle cx="563.3" cy="721.9" r="4.75"/><circle cx="564.4" cy="757.3" r="4.75"/><circle cx="617.2" cy="758.7" r="4.75"/><circle cx="618" cy="784.9" r="4.75"/><circle cx="618.3" cy="812.8" r="4.75"/><circle cx="544.5" cy="753.9" r="4.75"/><circle cx="557.4" cy="779.4" r="4.75"/><circle cx="552.5" cy="767.7" r="4.75"/><circle cx="549" cy="708.8" r="4.75"/><circle cx="584.8" cy="806.7" r="4.75"/><circle cx="632.1" cy="778" r="4.75"/><circle cx="635" cy="743.3" r="4.75"/><circle cx="629.5" cy="709.5" r="4.75"/><circle cx="659.7" cy="757.9" r="4.75"/><circle cx="631.1" cy="793.9" r="4.75"/><circle cx="629.2" cy="746.5" r="4.75"/><circle cx="582.7" cy="765.2" r="4.75"/><circle cx="569.7" cy="721.2" r="4.75"/><circle cx="643.8" cy="754.6" r="4.75"/><circle cx="661.9" cy="732.4" r="4.75"/><circle cx="597.5" cy="748.1" r="4.75"/><circle cx="555.4" cy="784.1" r="4.75"/><circle cx="564.6" cy="833.8" r="4.75"/><circle cx="546.7" cy="789" r="4.75"/><circle cx="571.5" cy="758.6" r="4.75"/><circle cx="621.8" cy="805.1" r="4.75"/><circle cx="572.8" cy="771.1" r="4.75"/><circle cx="616.3" cy="774.7" r="4.75"/><circle cx="622.6" cy="749.1" r="4.75"/><circle cx="593.9" cy="743" r="4.75"/><circle cx="545.9" cy="742.8" r="4.75"/><circle cx="658.6" cy="790.2" r="4.75"/><circle cx="604.9" cy="817" r="4.75"/><circle cx="618.7" cy="781.8" r="4.75"/><circle cx="660.7" cy="743.3" r="4.75"/><circle cx="570" cy="787.3" r="4.75"/><circle cx="591.9" cy="722.6" r="4.75"/><circle cx="573" cy="820.4" r="4.75"/><circle cx="559.1" cy="807" r="4.75"/><circle cx="625.1" cy="802.5" r="4.75"/><circle cx="545.2" cy="745.8" r="4.75"/><circle cx="547.9" cy="729.1" r="4.75"/><circle cx="599.7" cy="746" r="4.75"/><circle cx="552.2" cy="765.5" r="4.75"/><circle cx="667.2" cy="744" r="4.75"/><circle cx="600.7" cy="717.1" r="4.75"/><circle cx="679.7" cy="760.1" r="4.75"/><circle cx="574.4" cy="790.4" r="4.75"/><circle cx="592.1" cy="721.6" r="4.75"/><circle cx="570.5" cy="727.1" r="4.75"/><circle cx="564.9" cy="829.1" r="4.75"/><circle cx="561.1" cy="832.9" r="4.75"/><circle cx="613.3" cy="765.1" r="4.75"/><circle cx="585.4" cy="802.3" r="4.75"/><circle cx="579.3" cy="758" r="4.75"/><circle cx="609.7" cy="782" r="4.75"/><circle cx="599.8" cy="765.1" r="4.75"/><circle cx="559" cy="822.6" r="4.75"/><circle cx="629.7" cy="763.5" r="4.75"/><circle cx="576.3" cy="700" r="4.75"/><circle cx="574.8" cy="783.5" r="4.75"/><circle cx="644.4" cy="790.4" r="4.75"/><circle cx="646.5" cy="790.1" r="4.75"/><circle cx="627.4" cy="749.1" r="4.75"/><circle cx="620.2" cy="809.7" r="4.75"/><circle cx="630.6" cy="716.9" r="4.75"/><circle cx="618.9" cy="797.6" r="4.75"/><circle cx="622.2" cy="734.6" r="4.75"/><circle cx="595.3" cy="776.5" r="4.75"/><circle cx="583" cy="773.8" r="4.75"/><circle cx="635.3" cy="790.7" r="4.75"/><circle cx="627.5" cy="754.5" r="4.75"/><circle cx="558.8" cy="788.4" r="4.75"/><circle cx="605.4" cy="734.4" r="4.75"/><circle cx="646.7" cy="711.1" r="4.75"/><circle cx="599.7" cy="793.8" r="4.75"/><circle cx="667.2" cy="781.9" r="4.75"/><circle cx="551.2" cy="770" r="4.75"/><circle cx="590.3" cy="797.2" r="4.75"/><circle cx="564.6" cy="791.5" r="4.75"/><circle cx="588.9" cy="724.1" r="4.75"/><circle cx="558.6" cy="802" r="4.75"/><circle cx="613.8" cy="767.4" r="4.75"/><circle cx="620.9" cy="732.1" r="4.75"/><circle cx="569.4" cy="814.2" r="4.75"/><circle cx="569.2" cy="745.4" r="4.75"/><circle cx="601.8" cy="700.8" r="4.75"/><circle cx="613.2" cy="781.3" r="4.75"/><circle cx="545.5" cy="702.6" r="4.75"/><circle cx="618.3" cy="790.2" r="4.75"/><circle cx="597.4" cy="759" r="4.75"/><circle cx="593.7" cy="803.1" r="4.75"/><circle cx="607.2" cy="792.5" r="4.75"/><circle cx="654.1" cy="742.8" r="4.75"/><circle cx="670.4" cy="778.7" r="4.75"/><circle cx="629.1" cy="801.7" r="4.75"/><circle cx="648.8" cy="753.4" r="4.75"/><circle cx="662.3" cy="747.3" r="4.75"/><circle cx="618.2" cy="702.5" r="4.75"/><circle cx="599.4" cy="744" r="4.75"/><circle cx="592.2" cy="804.5" r="4.75"/><circle cx="553.1" cy="804.7" r="4.75"/><circle cx="578.8" cy="701.3" r="4.75"/><circle cx="546.9" cy="712.5" r="4.75"/><circle cx="657.3" cy="765.6" r="4.75"/><circle cx="645.3" cy="750" r="4.75"/><circle cx="618.9" cy="744.6" r="4.75"/><circle cx="647.7" cy="763.6" r="4.75"/><circle cx="568.5" cy="735.7" r="4.75"/><circle cx="609.6" cy="775.7" r="4.75"/><circle cx="593.2" cy="780.1" r="4.75"/><circle cx="608.1" cy="718.1" r="4.75"/><circle cx="638" cy="766" r="4.75"/><circle cx="554.1" cy="756.8" r="4.75"/><circle cx="604.2" cy="728.9" r="4.75"/><circle cx="633" cy="726.8" r="4.75"/><circle cx="600" cy="697.8" r="4.75"/><circle cx="562.9" cy="829.3" r="4.75"/><circle cx="635" cy="735.1" r="4.75"/><circle cx="576.8" cy="704.4" r="4.75"/><circle cx="542.4" cy="759.5" r="4.75"/><circle cx="606.1" cy="705.6" r="4.75"/><circle cx="678.7" cy="774" r="4.75"/><circle cx="568.8" cy="796.6" r="4.75"/><circle cx="621.5" cy="788.8" r="4.75"/><circle cx="637.2" cy="737.5" r="4.75"/><circle cx="657.6" cy="762.7" r="4.75"/><circle cx="552.4" cy="774.1" r="4.75"/><circle cx="587.9" cy="767.7" r="4.75"/><circle cx="554.7" cy="719.6" r="4.75"/><circle cx="572.9" cy="787.1" r="4.75"/><circle cx="596.4" cy="821.6" r="4.75"/><circle cx="615.6" cy="811.2" r="4.75"/><circle cx="571.1" cy="759.4" r="4.75"/><circle cx="579.9" cy="724.4" r="4.75"/><circle cx="558.8" cy="786.6" r="4.75"/><circle cx="687.4" cy="769.6" r="4.75"/><circle cx="634.8" cy="799.9" r="4.75"/><circle cx="667.8" cy="768" r="4.75"/><circle cx="617.4" cy="804.2" r="4.75"/><circle cx="553.2" cy="765.5" r="4.75"/><circle cx="680" cy="757.6" r="4.75"/><circle cx="570.6" cy="775.9" r="4.75"/><circle cx="680.2" cy="770.8" r="4.75"/><circle cx="616.9" cy="740.5" r="4.75"/><circle cx="613.3" cy="795.3" r="4.75"/><circle cx="642.9" cy="735.1" r="4.75"/><circle cx="596.9" cy="778.2" r="4.75"/><circle cx="614.7" cy="751.7" r="4.75"/><circle cx="659.2" cy="752.6" r="4.75"/><circle cx="645.8" cy="769.4" r="4.75"/><circle cx="603.2" cy="804.2" r="4.75"/><circle cx="578.3" cy="808.6" r="4.75"/><circle cx="583.1" cy="703.4" r="4.75"/><circle cx="621" cy="770.2" r="4.75"/><circle cx="579.9" cy="723" r="4.75"/><circle cx="649.1" cy="747.1" r="4.75"/><circle cx="621.7" cy="725.1" r="4.75"/><circle cx="556.6" cy="814.9" r="4.75"/><circle cx="644.2" cy="728.1" r="4.75"/><circle cx="597.1" cy="770.1" r="4.75"/><circle cx="607.3" cy="697.9" r="4.75"/><circle cx="619.8" cy="773.6" r="4.75"/><circle cx="573.7" cy="695.4" r="4.75"/><circle cx="651.8" cy="782.3" r="4.75"/><circle cx="562.9" cy="711.2" r="4.75"/><circle cx="605.7" cy="769.5" r="4.75"/><circle cx="645.5" cy="754.5" r="4.75"/><circle cx="640.1" cy="717.9" r="4.75"/><circle cx="632.5" cy="797" r="4.75"/><circle cx="562.8" cy="822.8" r="4.75"/><circle cx="626.7" cy="704.5" r="4.75"/><circle cx="594" cy="781.9" r="4.75"/><circle cx="622.6" cy="799.8" r="4.75"/><circle cx="657.3" cy="773.5" r="4.75"/><circle cx="637.8" cy="759.6" r="4.75"/><circle cx="560.7" cy="819.3" r="4.75"/><circle cx="601.9" cy="748.7" r="4.75"/><circle cx="573.9" cy="710" r="4.75"/><circle cx="619.1" cy="750" r="4.75"/><circle cx="639.4" cy="786.2" r="4.75"/><circle cx="560.8" cy="804.6" r="4.75"/><circle cx="604.8" cy="745" r="4.75"/><circle cx="559.2" cy="778.4" r="4.75"/><circle cx="587.4" cy="767.8" r="4.75"/><circle cx="632.7" cy="742" r="4.75"/><circle cx="595.5" cy="783" r="4.75"/><circle cx="589.3" cy="796.2" r="4.75"/><circle cx="562.4" cy="725.2" r="4.75"/><circle cx="598.1" cy="746.7" r="4.75"/><circle cx="615.5" cy="770.3" r="4.75"/><circle cx="549.6" cy="765.4" r="4.75"/><circle cx="629.6" cy="739.1" r="4.75"/><circle cx="628.8" cy="730.7" r="4.75"/><circle cx="610.7" cy="728.7" r="4.75"/><circle cx="573" cy="711.8" r="4.75"/><circle cx="559.3" cy="817.2" r="4.75"/><circle cx="618.6" cy="812" r="4.75"/><circle cx="591" cy="746.3" r="4.75"/><circle cx="556.1" cy="751.3" r="4.75"/><circle cx="590.6" cy="818.4" r="4.75"/><circle cx="551.3" cy="739.6" r="4.75"/><circle cx="638.2" cy="767.6" r="4.75"/><circle cx="634.5" cy="788.3" r="4.75"/><circle cx="608.6" cy="794.7" r="4.75"/><circle cx="566.2" cy="744.9" r="4.75"/><circle cx="568.1" cy="749.1" r="4.75"/><circle cx="559.3" cy="809.2" r="4.75"/><circle cx="595.7" cy="759.5" r="4.75"/><circle cx="575.5" cy="706.7" r="4.75"/><circle cx="563" cy="809.9" r="4.75"/><circle cx="545.6" cy="746" r="4.75"/><circle cx="576.8" cy="707.4" r="4.75"/><circle cx="557.5" cy="748.6" r="4.75"/><circle cx="593.9" cy="814.8" r="4.75"/><circle cx="629.4" cy="728.7" r="4.75"/><circle cx="553.5" cy="732.8" r="4.75"/><circle cx="548.2" cy="724" r="4.75"/><circle cx="636.4" cy="721.6" r="4.75"/><circle cx="642" cy="792.6" r="4.75"/><circle cx="573.8" cy="822.6" r="4.75"/><circle cx="632.1" cy="790" r="4.75"/><circle cx="598.2" cy="729.9" r="4.75"/><circle cx="572.2" cy="738.9" r="4.75"/><circle cx="600.1" cy="703.3" r="4.75"/><circle cx="597.3" cy="755.8" r="4.75"/><circle cx="591.6" cy="766.1" r="4.75"/><circle cx="632.4" cy="753.4" r="4.75"/><circle cx="618.2" cy="784.1" r="4.75"/><circle cx="611.1" cy="776.4" r="4.75"/><circle cx="574.5" cy="822.3" r="4.75"/><circle cx="578.6" cy="718.3" r="4.75"/><circle cx="590.3" cy="785.4" r="4.75"/><circle cx="666.6" cy="776.5" r="4.75"/><circle cx="553.9" cy="764.3" r="4.75"/><circle cx="646.9" cy="714.4" r="4.75"/><circle cx="579.4" cy="767.3" r="4.75"/><circle cx="670" cy="766.5" r="4.75"/><circle cx="560.5" cy="772.4" r="4.75"/><circle cx="623" cy="732.9" r="4.75"/><circle cx="634.9" cy="736.7" r="4.75"/><circle cx="611.7" cy="774.4" r="4.75"/><circle cx="559.9" cy="827.7" r="4.75"/><circle cx="573.5" cy="817.1" r="4.75"/><circle cx="564.1" cy="819.6" r="4.75"/><circle cx="675.5" cy="770" r="4.75"/><circle cx="585" cy="804.6" r="4.75"/><circle cx="682.1" cy="766.1" r="4.75"/><circle cx="643.9" cy="730.4" r="4.75"/><circle cx="562.9" cy="743.9" r="4.75"/><circle cx="678.4" cy="762.8" r="4.75"/><circle cx="558.9" cy="755" r="4.75"/><circle cx="570.1" cy="697" r="4.75"/><circle cx="555.2" cy="795.2" r="4.75"/><circle cx="679.7" cy="776.7" r="4.75"/><circle cx="568.3" cy="819.7" r="4.75"/><circle cx="589.5" cy="772.6" r="4.75"/><circle cx="625" cy="769.4" r="4.75"/><circle cx="594.8" cy="810.1" r="4.75"/><circle cx="652.3" cy="788.4" r="4.75"/><circle cx="636.6" cy="715.3" r="4.75"/><circle cx="567.3" cy="739.7" r="4.75"/><circle cx="601.5" cy="798.7" r="4.75"/><circle cx="597.5" cy="705.6" r="4.75"/><circle cx="568.9" cy="759.6" r="4.75"/><circle cx="625.6" cy="730.9" r="4.75"/><circle cx="562" cy="731.4" r="4.75"/><circle cx="560.1" cy="806.6" r="4.75"/><circle cx="571.9" cy="773.3" r="4.75"/><circle cx="609.3" cy="794.2" r="4.75"/><circle cx="612.2" cy="715.5" r="4.75"/><circle cx="549.8" cy="816.2" r="4.75"/><circle cx="566.3" cy="719.8" r="4.75"/><circle cx="589.6" cy="731.2" r="4.75"/><circle cx="586.2" cy="753.1" r="4.75"/><circle cx="684.1" cy="773.1" r="4.75"/><circle cx="621.7" cy="729.8" r="4.75"/><circle cx="585.8" cy="752.4" r="4.75"/><circle cx="583.5" cy="755.7" r="4.75"/><circle cx="545" cy="762.9" r="4.75"/><circle cx="570.6" cy="767" r="4.75"/><circle cx="544.1" cy="733" r="4.75"/><circle cx="576" cy="801.7" r="4.75"/><circle cx="650.6" cy="772.8" r="4.75"/><circle cx="606.5" cy="715.2" r="4.75"/><circle cx="545.5" cy="762.1" r="4.75"/><circle cx="586.6" cy="816.7" r="4.75"/><circle cx="584.9" cy="768.1" r="4.75"/><circle cx="653.8" cy="781.9" r="4.75"/><circle cx="602.6" cy="753.6" r="4.75"/><circle cx="629.2" cy="791.4" r="4.75"/><circle cx="553.4" cy="731.6" r="4.75"/><circle cx="607.8" cy="770.6" r="4.75"/><circle cx="599.6" cy="745.8" r="4.75"/><circle cx="610.8" cy="711.8" r="4.75"/><circle cx="678.7" cy="766.9" r="4.75"/><circle cx="670.6" cy="760.2" r="4.75"/><circle cx="550.4" cy="757.1" r="4.75"/><circle cx="564.7" cy="768.4" r="4.75"/><circle cx="663.5" cy="770.3" r="4.75"/><circle cx="587.5" cy="789.1" r="4.75"/><circle cx="592.6" cy="784.5" r="4.75"/><circle cx="547.6" cy="734.7" r="4.75"/><circle cx="596.8" cy="736.5" r="4.75"/><circle cx="607.9" cy="768.3" r="4.75"/><circle cx="541.8" cy="725.4" r="4.75"/><circle cx="563.3" cy="719.7" r="4.75"/><circle cx="599.2" cy="807.6" r="4.75"/><circle cx="586.3" cy="747.4" r="4.75"/><circle cx="547.4" cy="704.2" r="4.75"/><circle cx="546.5" cy="814.8" r="4.75"/><circle cx="672.8" cy="755.3" r="4.75"/><circle cx="625.6" cy="742.4" r="4.75"/><circle cx="645.4" cy="715.1" r="4.75"/><circle cx="587.3" cy="797.2" r="4.75"/><circle cx="603.1" cy="769.6" r="4.75"/><circle cx="574.9" cy="755.7" r="4.75"/><circle cx="633.5" cy="804.2" r="4.75"/><circle cx="548.5" cy="722.9" r="4.75"/><circle cx="673" cy="769.2" r="4.75"/><circle cx="611.6" cy="748.1" r="4.75"/><circle cx="573.3" cy="698.4" r="4.75"/><circle cx="541.3" cy="696.3" r="4.75"/><circle cx="544" cy="697" r="4.75"/><circle cx="546.2" cy="696.9" r="4.75"/><circle cx="548.5" cy="695.6" r="4.75"/><circle cx="551" cy="696.1" r="4.75"/><circle cx="552.4" cy="696.1" r="4.75"/><circle cx="555.2" cy="696.8" r="4.75"/><circle cx="557" cy="695.7" r="4.75"/><circle cx="559.2" cy="696.7" r="4.75"/><circle cx="561.5" cy="696.3" r="4.75"/><circle cx="563.8" cy="697.7" r="4.75"/><circle cx="566.1" cy="695.1" r="4.75"/><circle cx="568.8" cy="695.2" r="4.75"/><circle cx="570.8" cy="696.9" r="4.75"/><circle cx="573" cy="696.5" r="4.75"/><circle cx="575.5" cy="697.9" r="4.75"/><circle cx="577.3" cy="697.5" r="4.75"/><circle cx="580" cy="695.9" r="4.75"/><circle cx="581.7" cy="698" r="4.75"/><circle cx="584.2" cy="697" r="4.75"/><circle cx="586.8" cy="697.9" r="4.75"/><circle cx="589" cy="696.8" r="4.75"/><circle cx="590.3" cy="696.5" r="4.75"/><circle cx="592.7" cy="696.2" r="4.75"/><circle cx="595.7" cy="696.9" r="4.75"/><circle cx="597.2" cy="695.7" r="4.75"/><circle cx="599.3" cy="695.1" r="4.75"/><circle cx="601.8" cy="695.3" r="4.75"/><circle cx="603.8" cy="695.8" r="4.75"/><circle cx="606.6" cy="695.6" r="4.75"/><circle cx="608.4" cy="695.5" r="4.75"/><circle cx="610.5" cy="697.4" r="4.75"/><circle cx="613.4" cy="698.2" r="4.75"/><circle cx="615.4" cy="695.5" r="4.75"/><circle cx="617.1" cy="695.1" r="4.75"/><circle cx="620.1" cy="697" r="4.75"/><circle cx="622.4" cy="696.2" r="4.75"/><circle cx="542.8" cy="695" r="4.75"/><circle cx="543.7" cy="697.1" r="4.75"/><circle cx="544.2" cy="699.8" r="4.75"/><circle cx="544.4" cy="702.5" r="4.75"/><circle cx="541.3" cy="705.2" r="4.75"/><circle cx="541.7" cy="707.7" r="4.75"/><circle cx="541.9" cy="711" r="4.75"/><circle cx="543.6" cy="713.9" r="4.75"/><circle cx="544.3" cy="716.6" r="4.75"/><circle cx="542.8" cy="718.7" r="4.75"/><circle cx="543.3" cy="722.1" r="4.75"/><circle cx="542.8" cy="723.8" r="4.75"/><circle cx="544" cy="727.5" r="4.75"/><circle cx="544.2" cy="729.7" r="4.75"/><circle cx="542.8" cy="732.1" r="4.75"/><circle cx="543" cy="734.2" r="4.75"/><circle cx="543.6" cy="736.8" r="4.75"/><circle cx="543.8" cy="740" r="4.75"/><circle cx="545.3" cy="743.3" r="4.75"/><circle cx="543.5" cy="745" r="4.75"/><circle cx="544.5" cy="748.1" r="4.75"/><circle cx="543.9" cy="750.9" r="4.75"/><circle cx="543.8" cy="753.2" r="4.75"/><circle cx="543.5" cy="755.9" r="4.75"/><circle cx="542.7" cy="758.7" r="4.75"/><circle cx="544" cy="761.4" r="4.75"/><circle cx="543.2" cy="763.8" r="4.75"/><circle cx="544.4" cy="766.2" r="4.75"/><circle cx="546.9" cy="769.6" r="4.75"/><circle cx="543.2" cy="772.3" r="4.75"/><circle cx="542.3" cy="774.2" r="4.75"/><circle cx="543.1" cy="777.6" r="4.75"/><circle cx="544" cy="779.9" r="4.75"/><circle cx="544" cy="781.7" r="4.75"/><circle cx="542.7" cy="785.5" r="4.75"/><circle cx="543.3" cy="787.3" r="4.75"/><circle cx="543.7" cy="790" r="4.75"/><circle cx="545" cy="792.6" r="4.75"/><circle cx="544" cy="795.4" r="4.75"/><circle cx="544" cy="798.1" r="4.75"/><circle cx="544.2" cy="801.2" r="4.75"/><circle cx="544.4" cy="804" r="4.75"/><circle cx="543.9" cy="805.4" r="4.75"/><circle cx="542.8" cy="808.4" r="4.75"/><circle cx="543.7" cy="811.7" r="4.75"/><circle cx="543.3" cy="814.8" r="4.75"/><circle cx="543.9" cy="816.8" r="4.75"/><circle cx="544" cy="819.4" r="4.75"/><circle cx="543.7" cy="822.4" r="4.75"/><circle cx="1021" cy="752" r="4.75"/><circle cx="1045.9" cy="764" r="4.75"/><circle cx="1025" cy="689.7" r="4.75"/><circle cx="1133.7" cy="738.3" r="4.75"/><circle cx="1096.5" cy="672.9" r="4.75"/><circle cx="1115.8" cy="777.5" r="4.75"/><circle cx="1087.5" cy="703.2" r="4.75"/><circle cx="1065.2" cy="787.1" r="4.75"/><circle cx="1050.6" cy="803.6" r="4.75"/><circle cx="994.6" cy="669.9" r="4.75"/><circle cx="1058.3" cy="768.6" r="4.75"/><circle cx="1032.9" cy="744.6" r="4.75"/><circle cx="1048.9" cy="713.1" r="4.75"/><circle cx="1086.4" cy="760" r="4.75"/><circle cx="1083.4" cy="786.1" r="4.75"/><circle cx="1016" cy="809.7" r="4.75"/><circle cx="1084.2" cy="699.9" r="4.75"/><circle cx="1126.9" cy="725.1" r="4.75"/><circle cx="1004.6" cy="701.7" r="4.75"/><circle cx="1038.5" cy="819.7" r="4.75"/><circle cx="1053" cy="765.3" r="4.75"/><circle cx="1047.3" cy="735.1" r="4.75"/><circle cx="1074.1" cy="772" r="4.75"/><circle cx="1088.4" cy="755" r="4.75"/><circle cx="1071.7" cy="729.3" r="4.75"/><circle cx="1111.8" cy="690.4" r="4.75"/><circle cx="1092.2" cy="769.7" r="4.75"/><circle cx="1064" cy="779.1" r="4.75"/><circle cx="1042.6" cy="784.7" r="4.75"/><circle cx="1062.1" cy="761.7" r="4.75"/><circle cx="1036.5" cy="715.8" r="4.75"/><circle cx="1035.1" cy="716.8" r="4.75"/><circle cx="1088.4" cy="703" r="4.75"/><circle cx="1047.2" cy="797.8" r="4.75"/><circle cx="1114.6" cy="704.9" r="4.75"/><circle cx="1018.1" cy="804.2" r="4.75"/><circle cx="1021.1" cy="680.3" r="4.75"/><circle cx="1058.2" cy="782.9" r="4.75"/><circle cx="995.4" cy="707.3" r="4.75"/><circle cx="1039" cy="810.1" r="4.75"/><circle cx="1058.8" cy="814.6" r="4.75"/><circle cx="1008.1" cy="710.3" r="4.75"/><circle cx="1018.6" cy="666.9" r="4.75"/><circle cx="1075.9" cy="681" r="4.75"/><circle cx="1010.8" cy="698.6" r="4.75"/><circle cx="1128.2" cy="771.6" r="4.75"/><circle cx="1128" cy="712" r="4.75"/><circle cx="1000.6" cy="701.3" r="4.75"/><circle cx="1054.7" cy="727" r="4.75"/><circle cx="1053.3" cy="827.6" r="4.75"/><circle cx="1018" cy="792.4" r="4.75"/><circle cx="1133.7" cy="775.9" r="4.75"/><circle cx="1073.9" cy="700.7" r="4.75"/><circle cx="1040.4" cy="688.3" r="4.75"/><circle cx="1030.2" cy="805.4" r="4.75"/><circle cx="1032.7" cy="775.8" r="4.75"/><circle cx="1075.1" cy="725.8" r="4.75"/><circle cx="1023.7" cy="815.8" r="4.75"/><circle cx="1066.1" cy="799.8" r="4.75"/><circle cx="1042.5" cy="682.3" r="4.75"/><circle cx="1076.9" cy="806.8" r="4.75"/><circle cx="1008.5" cy="801.7" r="4.75"/><circle cx="1094.6" cy="816" r="4.75"/><circle cx="1027.3" cy="696.6" r="4.75"/><circle cx="1075.5" cy="727.6" r="4.75"/><circle cx="1065.2" cy="798.7" r="4.75"/><circle cx="1000.1" cy="667.6" r="4.75"/><circle cx="1070.7" cy="706.1" r="4.75"/><circle cx="1035.4" cy="713.2" r="4.75"/><circle cx="1098" cy="760.5" r="4.75"/><circle cx="1044.1" cy="681" r="4.75"/><circle cx="1038.1" cy="667.5" r="4.75"/><circle cx="1080.8" cy="786.5" r="4.75"/><circle cx="1047.8" cy="658.7" r="4.75"/><circle cx="1009.8" cy="717.6" r="4.75"/><circle cx="1090" cy="799.9" r="4.75"/><circle cx="1047.8" cy="803.6" r="4.75"/><circle cx="1093.5" cy="729.3" r="4.75"/><circle cx="1046.3" cy="742.3" r="4.75"/><circle cx="1108.6" cy="727.1" r="4.75"/><circle cx="1106.9" cy="735.2" r="4.75"/><circle cx="1022.4" cy="750.3" r="4.75"/><circle cx="1056.2" cy="728.2" r="4.75"/><circle cx="1046.7" cy="823.1" r="4.75"/><circle cx="1101.9" cy="790.1" r="4.75"/><circle cx="1082.4" cy="663.3" r="4.75"/><circle cx="1003.2" cy="798.2" r="4.75"/><circle cx="993.5" cy="662.6" r="4.75"/><circle cx="1085.2" cy="803.1" r="4.75"/><circle cx="1072.5" cy="786.3" r="4.75"/><circle cx="1082.4" cy="809" r="4.75"/><circle cx="1021.8" cy="678.7" r="4.75"/><circle cx="1023.3" cy="766.4" r="4.75"/><circle cx="1118.1" cy="721.7" r="4.75"/><circle cx="1045.4" cy="722.3" r="4.75"/><circle cx="1042.2" cy="726.7" r="4.75"/><circle cx="991.9" cy="743.2" r="4.75"/><circle cx="1106.3" cy="794.6" r="4.75"/><circle cx="1103.1" cy="746.5" r="4.75"/><circle cx="1067.3" cy="771.8" r="4.75"/><circle cx="1073.6" cy="731.7" r="4.75"/><circle cx="1013.7" cy="760.3" r="4.75"/><circle cx="1035.5" cy="689.3" r="4.75"/><circle cx="1031.9" cy="784.4" r="4.75"/><circle cx="1054" cy="814.2" r="4.75"/><circle cx="1086.3" cy="696.3" r="4.75"/><circle cx="1066.5" cy="719.5" r="4.75"/><circle cx="1008.6" cy="715.1" r="4.75"/><circle cx="1036.8" cy="798.2" r="4.75"/><circle cx="1066.5" cy="763" r="4.75"/><circle cx="1064.3" cy="810.3" r="4.75"/><circle cx="1130.9" cy="754.6" r="4.75"/><circle cx="1066.8" cy="787.5" r="4.75"/><circle cx="1019.4" cy="689.8" r="4.75"/><circle cx="1111.3" cy="778.3" r="4.75"/><circle cx="1021.8" cy="680.7" r="4.75"/><circle cx="1024.9" cy="680.2" r="4.75"/><circle cx="1024.2" cy="816.5" r="4.75"/><circle cx="1035.2" cy="727.7" r="4.75"/><circle cx="1043.4" cy="759.2" r="4.75"/><circle cx="1039.2" cy="730.3" r="4.75"/><circle cx="1067.7" cy="684.8" r="4.75"/><circle cx="1049.8" cy="752" r="4.75"/><circle cx="998.6" cy="697.8" r="4.75"/><circle cx="1103.5" cy="774.1" r="4.75"/><circle cx="1077.2" cy="665.4" r="4.75"/><circle cx="1069.2" cy="713.4" r="4.75"/><circle cx="1111.4" cy="779" r="4.75"/><circle cx="1082.9" cy="679.2" r="4.75"/><circle cx="1097.8" cy="769.4" r="4.75"/><circle cx="1002.8" cy="709.2" r="4.75"/><circle cx="1111.9" cy="762.7" r="4.75"/><circle cx="1080.7" cy="772.7" r="4.75"/><circle cx="1062.4" cy="705.4" r="4.75"/><circle cx="1111" cy="794.2" r="4.75"/><circle cx="1115.5" cy="714.8" r="4.75"/><circle cx="1026.3" cy="719.7" r="4.75"/><circle cx="1071.2" cy="692.3" r="4.75"/><circle cx="1121" cy="713.8" r="4.75"/><circle cx="1038.9" cy="723.7" r="4.75"/><circle cx="1078.2" cy="797.7" r="4.75"/><circle cx="1042.7" cy="812.8" r="4.75"/><circle cx="997.3" cy="697" r="4.75"/><circle cx="995" cy="665.2" r="4.75"/><circle cx="1122.9" cy="788.8" r="4.75"/><circle cx="1011" cy="680.6" r="4.75"/><circle cx="1054.7" cy="792" r="4.75"/><circle cx="1003.8" cy="722.7" r="4.75"/><circle cx="1012.7" cy="748.6" r="4.75"/><circle cx="1083.2" cy="683.2" r="4.75"/><circle cx="1023.3" cy="799.7" r="4.75"/><circle cx="1048.3" cy="753.7" r="4.75"/><circle cx="1086" cy="770" r="4.75"/><circle cx="1032.6" cy="815.5" r="4.75"/><circle cx="1067.4" cy="763.5" r="4.75"/><circle cx="1121.3" cy="775.6" r="4.75"/><circle cx="1068.8" cy="747.8" r="4.75"/><circle cx="1062.9" cy="681.5" r="4.75"/><circle cx="1070.4" cy="772.4" r="4.75"/><circle cx="1059.8" cy="756.4" r="4.75"/><circle cx="1001.7" cy="801.9" r="4.75"/><circle cx="1137.8" cy="763.4" r="4.75"/><circle cx="1115.5" cy="711.7" r="4.75"/><circle cx="1067.5" cy="664.5" r="4.75"/><circle cx="1013.9" cy="674.9" r="4.75"/><circle cx="1069.8" cy="783.1" r="4.75"/><circle cx="1077.4" cy="727.4" r="4.75"/><circle cx="1098.5" cy="703.8" r="4.75"/><circle cx="1063.6" cy="794.8" r="4.75"/><circle cx="1051.8" cy="678.9" r="4.75"/><circle cx="1046.1" cy="749" r="4.75"/><circle cx="1088.5" cy="687.6" r="4.75"/><circle cx="1062.8" cy="681.9" r="4.75"/><circle cx="1015.6" cy="676.9" r="4.75"/><circle cx="1052.2" cy="676.4" r="4.75"/><circle cx="1007.9" cy="741.1" r="4.75"/><circle cx="1060.6" cy="724.6" r="4.75"/><circle cx="1052.1" cy="722.3" r="4.75"/><circle cx="1017.4" cy="661.5" r="4.75"/><circle cx="1065.6" cy="675.7" r="4.75"/><circle cx="1093.4" cy="712.2" r="4.75"/><circle cx="1113.2" cy="697.9" r="4.75"/><circle cx="1124.5" cy="736.1" r="4.75"/><circle cx="1023.3" cy="696" r="4.75"/><circle cx="1129.6" cy="769" r="4.75"/><circle cx="1041.1" cy="661.4" r="4.75"/><circle cx="1033.6" cy="764.6" r="4.75"/><circle cx="1031.5" cy="813.4" r="4.75"/><circle cx="997.8" cy="721" r="4.75"/><circle cx="1039.1" cy="779.3" r="4.75"/><circle cx="1115.5" cy="790.1" r="4.75"/><circle cx="1133.6" cy="753.8" r="4.75"/><circle cx="1054.3" cy="688.7" r="4.75"/><circle cx="1123" cy="739.2" r="4.75"/><circle cx="1026.9" cy="676.7" r="4.75"/><circle cx="1111.9" cy="764.3" r="4.75"/><circle cx="1110" cy="720.3" r="4.75"/><circle cx="1067.9" cy="673.5" r="4.75"/><circle cx="1064.1" cy="795" r="4.75"/><circle cx="1020.9" cy="812.2" r="4.75"/><circle cx="1060.9" cy="822.9" r="4.75"/><circle cx="1114.2" cy="709.7" r="4.75"/><circle cx="1051.4" cy="834.7" r="4.75"/><circle cx="1083.3" cy="664.7" r="4.75"/><circle cx="991.4" cy="773.1" r="4.75"/><circle cx="1097.6" cy="760.3" r="4.75"/><circle cx="1082.1" cy="726.9" r="4.75"/><circle cx="1123.3" cy="764.1" r="4.75"/><circle cx="1124.7" cy="750.2" r="4.75"/><circle cx="1011.6" cy="678.3" r="4.75"/><circle cx="1063.8" cy="687.4" r="4.75"/><circle cx="1132.4" cy="766.3" r="4.75"/><circle cx="1097.1" cy="795.6" r="4.75"/><circle cx="1060.1" cy="664.9" r="4.75"/><circle cx="1133.5" cy="762.1" r="4.75"/><circle cx="1077.7" cy="735.9" r="4.75"/><circle cx="1041.4" cy="740" r="4.75"/><circle cx="1114.7" cy="727.6" r="4.75"/><circle cx="1098.3" cy="764.4" r="4.75"/><circle cx="1016.5" cy="713.1" r="4.75"/><circle cx="1057.3" cy="659.5" r="4.75"/><circle cx="1017.2" cy="675.8" r="4.75"/><circle cx="1077.1" cy="726.8" r="4.75"/><circle cx="994.3" cy="787.8" r="4.75"/><circle cx="1074" cy="771.1" r="4.75"/><circle cx="1028.2" cy="729.5" r="4.75"/><circle cx="1041.1" cy="791.8" r="4.75"/><circle cx="1116.8" cy="700.3" r="4.75"/><circle cx="995.7" cy="702.8" r="4.75"/><circle cx="1005.1" cy="795.9" r="4.75"/><circle cx="1046.4" cy="675" r="4.75"/><circle cx="1034.9" cy="735.7" r="4.75"/><circle cx="1075.2" cy="751.6" r="4.75"/><circle cx="1043.9" cy="814" r="4.75"/><circle cx="1029.9" cy="735.7" r="4.75"/><circle cx="1032.2" cy="691.4" r="4.75"/><circle cx="1001" cy="749.3" r="4.75"/><circle cx="1077.1" cy="675.9" r="4.75"/><circle cx="1121.2" cy="736.2" r="4.75"/><circle cx="1057.6" cy="710.6" r="4.75"/><circle cx="993.9" cy="705.2" r="4.75"/><circle cx="1022.8" cy="803.8" r="4.75"/><circle cx="1055" cy="694.9" r="4.75"/><circle cx="1094.4" cy="778.3" r="4.75"/><circle cx="1022.8" cy="669.9" r="4.75"/><circle cx="1132.7" cy="753.5" r="4.75"/><circle cx="1028.9" cy="676.5" r="4.75"/><circle cx="1064.2" cy="776.4" r="4.75"/><circle cx="1089.7" cy="725.9" r="4.75"/><circle cx="1073.8" cy="676.9" r="4.75"/><circle cx="1010.7" cy="780" r="4.75"/><circle cx="1042.5" cy="734" r="4.75"/><circle cx="1127.4" cy="733.6" r="4.75"/><circle cx="1035.5" cy="747.5" r="4.75"/><circle cx="1053.8" cy="813.7" r="4.75"/><circle cx="1084.4" cy="753.1" r="4.75"/><circle cx="1068" cy="698.8" r="4.75"/><circle cx="995.5" cy="777" r="4.75"/><circle cx="1046.1" cy="746.1" r="4.75"/><circle cx="1097.4" cy="681.8" r="4.75"/><circle cx="1048.4" cy="809.1" r="4.75"/><circle cx="1035.7" cy="697" r="4.75"/><circle cx="1036" cy="721.5" r="4.75"/><circle cx="1029.3" cy="669" r="4.75"/><circle cx="1075.3" cy="791.9" r="4.75"/><circle cx="1134" cy="769.4" r="4.75"/><circle cx="1026.6" cy="739.6" r="4.75"/><circle cx="1026.6" cy="752.4" r="4.75"/><circle cx="1098" cy="671.2" r="4.75"/><circle cx="1011.9" cy="808" r="4.75"/><circle cx="996.4" cy="721" r="4.75"/><circle cx="1000.9" cy="671.8" r="4.75"/><circle cx="1000.1" cy="713.4" r="4.75"/><circle cx="1022.5" cy="713.8" r="4.75"/><circle cx="1041.2" cy="793" r="4.75"/><circle cx="1123.4" cy="756.9" r="4.75"/><circle cx="1063.6" cy="750.8" r="4.75"/><circle cx="1059.5" cy="750" r="4.75"/><circle cx="1007.8" cy="696" r="4.75"/><circle cx="1105.3" cy="748.2" r="4.75"/><circle cx="1078" cy="731.3" r="4.75"/><circle cx="1003.8" cy="763.3" r="4.75"/><circle cx="1037.1" cy="744.4" r="4.75"/><circle cx="1046.5" cy="706.5" r="4.75"/><circle cx="1043.7" cy="763.4" r="4.75"/><circle cx="1027" cy="667.4" r="4.75"/><circle cx="1070.5" cy="789.8" r="4.75"/><circle cx="1040.4" cy="772.3" r="4.75"/><circle cx="1061.5" cy="738.6" r="4.75"/><circle cx="1076.3" cy="818.4" r="4.75"/><circle cx="1056.3" cy="812.9" r="4.75"/><circle cx="1045.2" cy="685.7" r="4.75"/><circle cx="1079.5" cy="820.2" r="4.75"/><circle cx="1032.8" cy="744.2" r="4.75"/><circle cx="1051.3" cy="717.5" r="4.75"/><circle cx="1003.7" cy="686.8" r="4.75"/><circle cx="1046" cy="766.1" r="4.75"/><circle cx="1002.5" cy="659" r="4.75"/><circle cx="1036.6" cy="699.5" r="4.75"/><circle cx="1149.7" cy="750" r="4.75"/><circle cx="1065.7" cy="821.5" r="4.75"/><circle cx="1030.2" cy="680.8" r="4.75"/><circle cx="1131.3" cy="763" r="4.75"/><circle cx="1027.8" cy="720.7" r="4.75"/><circle cx="1072.6" cy="729.5" r="4.75"/><circle cx="1094.6" cy="775.2" r="4.75"/><circle cx="1058.3" cy="662.1" r="4.75"/><circle cx="991.9" cy="731.4" r="4.75"/><circle cx="1066.6" cy="727.4" r="4.75"/><circle cx="1038.6" cy="726.8" r="4.75"/><circle cx="1086" cy="820.3" r="4.75"/><circle cx="1050" cy="660.4" r="4.75"/><circle cx="992.3" cy="689.3" r="4.75"/><circle cx="1064.5" cy="814.9" r="4.75"/><circle cx="1077.7" cy="699.8" r="4.75"/><circle cx="1075.7" cy="683.3" r="4.75"/><circle cx="1032.4" cy="823.5" r="4.75"/><circle cx="1001.2" cy="749.4" r="4.75"/><circle cx="1092.9" cy="713.9" r="4.75"/><circle cx="1035" cy="681.6" r="4.75"/><circle cx="1051" cy="685.2" r="4.75"/><circle cx="1070.1" cy="719.8" r="4.75"/><circle cx="1049.5" cy="678.3" r="4.75"/><circle cx="1023.4" cy="695.5" r="4.75"/><circle cx="1106.9" cy="711" r="4.75"/><circle cx="997.1" cy="686.9" r="4.75"/><circle cx="1059.5" cy="756.1" r="4.75"/><circle cx="1022.4" cy="783.2" r="4.75"/><circle cx="1016.8" cy="777.4" r="4.75"/><circle cx="1090.9" cy="677.9" r="4.75"/><circle cx="1117.6" cy="721.8" r="4.75"/><circle cx="1077.8" cy="762.7" r="4.75"/><circle cx="1094.5" cy="731.5" r="4.75"/><circle cx="1138.1" cy="741.1" r="4.75"/><circle cx="1085.2" cy="696.6" r="4.75"/><circle cx="1067.2" cy="678.5" r="4.75"/><circle cx="1111.2" cy="710.7" r="4.75"/><circle cx="1114.1" cy="759.9" r="4.75"/><circle cx="996.5" cy="748.7" r="4.75"/><circle cx="1136.4" cy="738.6" r="4.75"/><circle cx="1077.8" cy="816.1" r="4.75"/><circle cx="1060.3" cy="741.6" r="4.75"/><circle cx="1085.9" cy="808.2" r="4.75"/><circle cx="1014.5" cy="661.4" r="4.75"/><circle cx="1119.5" cy="753.7" r="4.75"/><circle cx="1033.2" cy="821.9" r="4.75"/><circle cx="1142.8" cy="751.4" r="4.75"/><circle cx="1117.1" cy="701.1" r="4.75"/><circle cx="1114.6" cy="713.1" r="4.75"/><circle cx="1066.4" cy="756.6" r="4.75"/><circle cx="1023.2" cy="782.8" r="4.75"/><circle cx="1082.1" cy="720.1" r="4.75"/><circle cx="996.8" cy="753.9" r="4.75"/><circle cx="1036.4" cy="788.3" r="4.75"/><circle cx="1008.7" cy="721.9" r="4.75"/><circle cx="1013.2" cy="724.7" r="4.75"/><circle cx="1084.7" cy="664.1" r="4.75"/><circle cx="1067" cy="683.1" r="4.75"/><circle cx="1071.3" cy="676.2" r="4.75"/><circle cx="995.2" cy="750.6" r="4.75"/><circle cx="1073.3" cy="722.5" r="4.75"/><circle cx="1035.4" cy="831.8" r="4.75"/><circle cx="1011.2" cy="757.4" r="4.75"/><circle cx="1072.4" cy="682.7" r="4.75"/><circle cx="1125.1" cy="790" r="4.75"/><circle cx="1108.7" cy="793.4" r="4.75"/><circle cx="1018.6" cy="734.5" r="4.75"/><circle cx="1101.8" cy="696.8" r="4.75"/><circle cx="1072" cy="717.4" r="4.75"/><circle cx="1105.6" cy="728.6" r="4.75"/><circle cx="1086.5" cy="720.6" r="4.75"/><circle cx="1096.8" cy="685.1" r="4.75"/><circle cx="1119" cy="744.1" r="4.75"/><circle cx="1113.2" cy="717.5" r="4.75"/><circle cx="1014.4" cy="674.4" r="4.75"/><circle cx="1067.5" cy="791" r="4.75"/><circle cx="1004.3" cy="751.9" r="4.75"/><circle cx="1102.1" cy="764" r="4.75"/><circle cx="1006.6" cy="670.1" r="4.75"/><circle cx="1124.1" cy="721.1" r="4.75"/><circle cx="1091.3" cy="695.5" r="4.75"/><circle cx="1029.2" cy="783" r="4.75"/><circle cx="1073.8" cy="708.5" r="4.75"/><circle cx="1127.2" cy="720.7" r="4.75"/><circle cx="1127.9" cy="732.1" r="4.75"/><circle cx="1101.9" cy="708.2" r="4.75"/><circle cx="1018.5" cy="733.5" r="4.75"/><circle cx="1126.9" cy="712" r="4.75"/><circle cx="1019.5" cy="726.2" r="4.75"/><circle cx="994.3" cy="706.1" r="4.75"/><circle cx="1084.1" cy="752.2" r="4.75"/><circle cx="1088.7" cy="700.9" r="4.75"/><circle cx="1040" cy="682.1" r="4.75"/><circle cx="1083.3" cy="695.9" r="4.75"/><circle cx="1119.7" cy="763.5" r="4.75"/><circle cx="1100.9" cy="790.4" r="4.75"/><circle cx="1074.4" cy="728.3" r="4.75"/><circle cx="1125.8" cy="743.1" r="4.75"/><circle cx="1085.8" cy="767.9" r="4.75"/><circle cx="1058.8" cy="668" r="4.75"/><circle cx="999.2" cy="743" r="4.75"/><circle cx="1066.5" cy="692.4" r="4.75"/><circle cx="1033.6" cy="737.6" r="4.75"/><circle cx="1032.8" cy="703.9" r="4.75"/><circle cx="1001.2" cy="768.4" r="4.75"/><circle cx="1012.3" cy="659.4" r="4.75"/><circle cx="1116.4" cy="749.3" r="4.75"/><circle cx="1121" cy="744.8" r="4.75"/><circle cx="1055.6" cy="785.5" r="4.75"/><circle cx="1081.7" cy="721.2" r="4.75"/><circle cx="1063.8" cy="763.5" r="4.75"/><circle cx="1115.2" cy="694.5" r="4.75"/><circle cx="1024.5" cy="714.5" r="4.75"/><circle cx="1098.7" cy="792.1" r="4.75"/><circle cx="1021.3" cy="760.1" r="4.75"/><circle cx="1091.3" cy="691.1" r="4.75"/><circle cx="1010.4" cy="662.3" r="4.75"/><circle cx="1009.8" cy="743.4" r="4.75"/><circle cx="1024.3" cy="820.2" r="4.75"/><circle cx="1082.6" cy="711" r="4.75"/><circle cx="1114.2" cy="793.6" r="4.75"/><circle cx="1112.8" cy="697.4" r="4.75"/><circle cx="1017.5" cy="688.5" r="4.75"/><circle cx="1013.2" cy="764.4" r="4.75"/><circle cx="1097.1" cy="788.9" r="4.75"/><circle cx="1047.5" cy="743.7" r="4.75"/><circle cx="1057.7" cy="682.8" r="4.75"/><circle cx="1050.6" cy="772.5" r="4.75"/><circle cx="999.2" cy="762.1" r="4.75"/><circle cx="1058.1" cy="671.8" r="4.75"/><circle cx="1016.8" cy="809.4" r="4.75"/><circle cx="1055.7" cy="706" r="4.75"/><circle cx="1059.6" cy="829.2" r="4.75"/><circle cx="1035.9" cy="720.1" r="4.75"/><circle cx="1022.1" cy="687.1" r="4.75"/><circle cx="1033.3" cy="686" r="4.75"/><circle cx="1078.3" cy="755.2" r="4.75"/><circle cx="1051.2" cy="744.6" r="4.75"/><circle cx="1032.3" cy="811" r="4.75"/><circle cx="1023.3" cy="683.5" r="4.75"/><circle cx="1081.2" cy="666" r="4.75"/><circle cx="1051.3" cy="712" r="4.75"/><circle cx="1099.4" cy="761.9" r="4.75"/><circle cx="1023.5" cy="667.6" r="4.75"/><circle cx="1037.9" cy="665.5" r="4.75"/><circle cx="1035.8" cy="751.8" r="4.75"/><circle cx="1052.8" cy="709.8" r="4.75"/><circle cx="1031" cy="740.4" r="4.75"/><circle cx="1122.8" cy="730.6" r="4.75"/><circle cx="1120.8" cy="739.6" r="4.75"/><circle cx="998.9" cy="676.8" r="4.75"/><circle cx="1135.8" cy="738.9" r="4.75"/><circle cx="1048.2" cy="746.2" r="4.75"/><circle cx="1078.8" cy="738.9" r="4.75"/><circle cx="1069.6" cy="733.4" r="4.75"/><circle cx="1065.2" cy="786.4" r="4.75"/><circle cx="1078" cy="811.2" r="4.75"/><circle cx="1047.6" cy="664.1" r="4.75"/><circle cx="1118.4" cy="733.3" r="4.75"/><circle cx="993.4" cy="659.8" r="4.75"/><circle cx="1108.9" cy="792.1" r="4.75"/><circle cx="1092.9" cy="796.6" r="4.75"/><circle cx="1012.3" cy="750.4" r="4.75"/><circle cx="1086.7" cy="668.4" r="4.75"/><circle cx="1135.7" cy="732.1" r="4.75"/><circle cx="1029.2" cy="689.7" r="4.75"/><circle cx="1058.7" cy="721" r="4.75"/><circle cx="1074.2" cy="783" r="4.75"/><circle cx="1036.1" cy="710.2" r="4.75"/><circle cx="1113.6" cy="762" r="4.75"/><circle cx="1017" cy="662.8" r="4.75"/><circle cx="1042.3" cy="763.3" r="4.75"/><circle cx="1062.5" cy="775.3" r="4.75"/><circle cx="1089.5" cy="766.7" r="4.75"/><circle cx="1069.4" cy="747.7" r="4.75"/><circle cx="1068.7" cy="809.7" r="4.75"/><circle cx="1012.3" cy="800.5" r="4.75"/><circle cx="1032.4" cy="813.2" r="4.75"/><circle cx="1059.6" cy="785.6" r="4.75"/><circle cx="1014.3" cy="695.3" r="4.75"/><circle cx="1001.2" cy="755.4" r="4.75"/><circle cx="1009.7" cy="682.7" r="4.75"/><circle cx="1082.7" cy="700.8" r="4.75"/><circle cx="1100.4" cy="806" r="4.75"/><circle cx="1059" cy="740.9" r="4.75"/><circle cx="1036.2" cy="701.6" r="4.75"/><circle cx="1093.9" cy="760.1" r="4.75"/><circle cx="1069.7" cy="815.3" r="4.75"/><circle cx="1073.9" cy="711.6" r="4.75"/><circle cx="1044.6" cy="750.5" r="4.75"/><circle cx="1021.1" cy="785.4" r="4.75"/><circle cx="1002.9" cy="700.1" r="4.75"/><circle cx="1023.1" cy="815.9" r="4.75"/><circle cx="1130.3" cy="759.1" r="4.75"/><circle cx="1004.3" cy="728.8" r="4.75"/><circle cx="1026.5" cy="704" r="4.75"/><circle cx="999.4" cy="678.9" r="4.75"/><circle cx="1116.3" cy="722.2" r="4.75"/><circle cx="1105.5" cy="812.4" r="4.75"/><circle cx="1026.2" cy="716.7" r="4.75"/><circle cx="1057" cy="777.3" r="4.75"/><circle cx="1071.8" cy="793" r="4.75"/><circle cx="1129.6" cy="716.9" r="4.75"/><circle cx="1043.1" cy="766.1" r="4.75"/><circle cx="1019.2" cy="820.1" r="4.75"/><circle cx="1098.3" cy="740.2" r="4.75"/><circle cx="1012.9" cy="757.2" r="4.75"/><circle cx="1007.3" cy="808.9" r="4.75"/><circle cx="1119.2" cy="721.4" r="4.75"/><circle cx="1015.1" cy="773.8" r="4.75"/><circle cx="1015.9" cy="794.8" r="4.75"/><circle cx="1084.3" cy="808.6" r="4.75"/><circle cx="1043.3" cy="703.5" r="4.75"/><circle cx="1081.8" cy="730.1" r="4.75"/><circle cx="1097.3" cy="746.5" r="4.75"/><circle cx="1028.6" cy="681.6" r="4.75"/><circle cx="1016.4" cy="787.4" r="4.75"/><circle cx="1074.7" cy="717.6" r="4.75"/><circle cx="1087.1" cy="732.8" r="4.75"/><circle cx="1098.4" cy="793.7" r="4.75"/><circle cx="1099.9" cy="759.1" r="4.75"/><circle cx="1125.5" cy="767.9" r="4.75"/><circle cx="1086.2" cy="705" r="4.75"/><circle cx="1092.8" cy="667.8" r="4.75"/><circle cx="1065.2" cy="794.3" r="4.75"/><circle cx="1048.7" cy="747.8" r="4.75"/><circle cx="1082.6" cy="740.6" r="4.75"/><circle cx="1143.2" cy="768.1" r="4.75"/><circle cx="1035.4" cy="806.3" r="4.75"/><circle cx="1043.1" cy="822.9" r="4.75"/><circle cx="1023.9" cy="797.6" r="4.75"/><circle cx="997.9" cy="752" r="4.75"/><circle cx="1138" cy="761.2" r="4.75"/><circle cx="1041.8" cy="795" r="4.75"/><circle cx="1131.7" cy="759" r="4.75"/><circle cx="1094.2" cy="707.4" r="4.75"/><circle cx="1018.6" cy="802" r="4.75"/><circle cx="1014" cy="676.6" r="4.75"/><circle cx="1015.2" cy="800.5" r="4.75"/><circle cx="1054.3" cy="687.3" r="4.75"/><circle cx="1081.8" cy="703.5" r="4.75"/><circle cx="1059.9" cy="660.1" r="4.75"/><circle cx="1042.2" cy="820.4" r="4.75"/><circle cx="1070.4" cy="673.5" r="4.75"/><circle cx="1020.7" cy="772.1" r="4.75"/><circle cx="1028.5" cy="820.9" r="4.75"/><circle cx="1093.3" cy="807.9" r="4.75"/><circle cx="1008.6" cy="768.6" r="4.75"/><circle cx="1080.7" cy="818.5" r="4.75"/><circle cx="1107.6" cy="754.6" r="4.75"/><circle cx="993.1" cy="692.8" r="4.75"/><circle cx="1063" cy="666.9" r="4.75"/><circle cx="1026.6" cy="667.8" r="4.75"/><circle cx="1126.6" cy="724.7" r="4.75"/><circle cx="1089.6" cy="665.5" r="4.75"/><circle cx="1055.1" cy="792.3" r="4.75"/><circle cx="1020.8" cy="807.2" r="4.75"/><circle cx="1064.7" cy="783.1" r="4.75"/><circle cx="1031.2" cy="810" r="4.75"/><circle cx="1095.1" cy="814.2" r="4.75"/><circle cx="1023.6" cy="674" r="4.75"/><circle cx="1079.2" cy="683.6" r="4.75"/><circle cx="1115.5" cy="707" r="4.75"/><circle cx="1079.1" cy="768.8" r="4.75"/><circle cx="1005.4" cy="694.1" r="4.75"/><circle cx="1075.3" cy="793.9" r="4.75"/><circle cx="1104.7" cy="681.8" r="4.75"/><circle cx="1073.7" cy="759.4" r="4.75"/><circle cx="1063.5" cy="775.2" r="4.75"/><circle cx="1108.6" cy="768.7" r="4.75"/><circle cx="1046.3" cy="784.4" r="4.75"/><circle cx="1087.6" cy="722.6" r="4.75"/><circle cx="1058.8" cy="755.6" r="4.75"/><circle cx="1033.3" cy="785.7" r="4.75"/><circle cx="1090.1" cy="792" r="4.75"/><circle cx="1063.6" cy="662.1" r="4.75"/><circle cx="1019.7" cy="811" r="4.75"/><circle cx="996.6" cy="718.8" r="4.75"/><circle cx="1069.6" cy="785.5" r="4.75"/><circle cx="1032.4" cy="790.8" r="4.75"/><circle cx="1086.2" cy="700.6" r="4.75"/><circle cx="1087.7" cy="680.3" r="4.75"/><circle cx="1074.1" cy="765.7" r="4.75"/><circle cx="1046.9" cy="829.4" r="4.75"/><circle cx="1053.6" cy="663.7" r="4.75"/><circle cx="1009.7" cy="783.3" r="4.75"/><circle cx="1009.5" cy="717.6" r="4.75"/><circle cx="1103.6" cy="713.4" r="4.75"/><circle cx="1125.5" cy="768.9" r="4.75"/><circle cx="1094" cy="704.8" r="4.75"/><circle cx="1096.8" cy="773.1" r="4.75"/><circle cx="1086.7" cy="741.2" r="4.75"/><circle cx="1001.9" cy="723.6" r="4.75"/><circle cx="1004.9" cy="794.9" r="4.75"/><circle cx="1037" cy="732.3" r="4.75"/><circle cx="1080.1" cy="725.6" r="4.75"/><circle cx="1065.8" cy="815.9" r="4.75"/><circle cx="1022.1" cy="677.6" r="4.75"/><circle cx="1131" cy="717.6" r="4.75"/><circle cx="1038.9" cy="663" r="4.75"/><circle cx="1009.5" cy="688" r="4.75"/><circle cx="1080.6" cy="768.2" r="4.75"/><circle cx="1074.2" cy="743.6" r="4.75"/><circle cx="1051" cy="681.1" r="4.75"/><circle cx="1082.4" cy="693.2" r="4.75"/><circle cx="1008.4" cy="768.4" r="4.75"/><circle cx="1132.8" cy="757.6" r="4.75"/><circle cx="1005.6" cy="711.7" r="4.75"/><circle cx="1136.6" cy="723" r="4.75"/><circle cx="1033.2" cy="799.2" r="4.75"/><circle cx="1085.1" cy="739.6" r="4.75"/><circle cx="1082.9" cy="704" r="4.75"/><circle cx="1072.4" cy="778.4" r="4.75"/><circle cx="1040.1" cy="672.5" r="4.75"/><circle cx="1038.8" cy="810.1" r="4.75"/><circle cx="1027.8" cy="826" r="4.75"/><circle cx="1059.7" cy="668.5" r="4.75"/><circle cx="1004.2" cy="747.6" r="4.75"/><circle cx="1044.9" cy="750.6" r="4.75"/><circle cx="1017" cy="705" r="4.75"/><circle cx="1036.8" cy="823.2" r="4.75"/><circle cx="991.4" cy="726.3" r="4.75"/><circle cx="1137.1" cy="757.6" r="4.75"/><circle cx="996.6" cy="670.1" r="4.75"/><circle cx="1030" cy="803" r="4.75"/><circle cx="1003.5" cy="763.5" r="4.75"/><circle cx="1136.5" cy="733.7" r="4.75"/><circle cx="1027.7" cy="767.9" r="4.75"/><circle cx="1021.4" cy="718.3" r="4.75"/><circle cx="1071.4" cy="697.6" r="4.75"/><circle cx="1100.1" cy="693.9" r="4.75"/><circle cx="1000" cy="685.9" r="4.75"/><circle cx="1071.3" cy="694.5" r="4.75"/><circle cx="1041.6" cy="685.3" r="4.75"/><circle cx="1021.6" cy="793.2" r="4.75"/><circle cx="1089.8" cy="732.2" r="4.75"/><circle cx="1065" cy="765.9" r="4.75"/><circle cx="1135" cy="735.6" r="4.75"/><circle cx="1058.5" cy="731" r="4.75"/><circle cx="1046.8" cy="662.3" r="4.75"/><circle cx="1084.8" cy="693.8" r="4.75"/><circle cx="1119.7" cy="748.8" r="4.75"/><circle cx="1031.3" cy="808.6" r="4.75"/><circle cx="1060.5" cy="659.6" r="4.75"/><circle cx="1057.1" cy="825.2" r="4.75"/><circle cx="1021.3" cy="683.5" r="4.75"/><circle cx="1046.4" cy="770.9" r="4.75"/><circle cx="1056.3" cy="775.5" r="4.75"/><circle cx="1131.8" cy="722.4" r="4.75"/><circle cx="1089.7" cy="697.3" r="4.75"/><circle cx="1061.8" cy="770.2" r="4.75"/><circle cx="1070.8" cy="679.5" r="4.75"/><circle cx="1023" cy="808.3" r="4.75"/><circle cx="1042" cy="681.3" r="4.75"/><circle cx="1029.8" cy="747.4" r="4.75"/><circle cx="1051.3" cy="713.2" r="4.75"/><circle cx="1036.9" cy="686.1" r="4.75"/><circle cx="1071.2" cy="763.2" r="4.75"/><circle cx="993" cy="761.3" r="4.75"/><circle cx="1000.9" cy="782.5" r="4.75"/><circle cx="1041.2" cy="665" r="4.75"/><circle cx="1124.3" cy="770.6" r="4.75"/><circle cx="1099.1" cy="815.3" r="4.75"/><circle cx="1033.5" cy="684.4" r="4.75"/><circle cx="1079" cy="761.1" r="4.75"/><circle cx="1042.7" cy="815.6" r="4.75"/><circle cx="1094" cy="698.3" r="4.75"/><circle cx="1012.1" cy="763.1" r="4.75"/><circle cx="1063.6" cy="782.6" r="4.75"/><circle cx="1057" cy="731" r="4.75"/><circle cx="1115.3" cy="764.5" r="4.75"/><circle cx="1060" cy="701.4" r="4.75"/><circle cx="1024.4" cy="808.6" r="4.75"/><circle cx="998.8" cy="659.9" r="4.75"/><circle cx="1086.8" cy="786.9" r="4.75"/><circle cx="1036.2" cy="797.4" r="4.75"/><circle cx="1034.6" cy="768.3" r="4.75"/><circle cx="1033.4" cy="793.2" r="4.75"/><circle cx="1047.1" cy="763.7" r="4.75"/><circle cx="1036.6" cy="809.9" r="4.75"/><circle cx="1020.9" cy="680.9" r="4.75"/><circle cx="1025.8" cy="799.5" r="4.75"/><circle cx="1032.2" cy="800.8" r="4.75"/><circle cx="1071.9" cy="737.6" r="4.75"/><circle cx="999.7" cy="773.7" r="4.75"/><circle cx="1108.1" cy="701" r="4.75"/><circle cx="1110.1" cy="796" r="4.75"/><circle cx="1027.5" cy="761.2" r="4.75"/><circle cx="1028" cy="692.5" r="4.75"/><circle cx="994" cy="714.6" r="4.75"/><circle cx="1073.4" cy="761.4" r="4.75"/><circle cx="1094.6" cy="723.8" r="4.75"/><circle cx="1116.6" cy="703.3" r="4.75"/><circle cx="1023.2" cy="788.3" r="4.75"/><circle cx="1062.1" cy="673.8" r="4.75"/><circle cx="1043.1" cy="756.8" r="4.75"/><circle cx="1046.3" cy="761.7" r="4.75"/><circle cx="1134.9" cy="771.3" r="4.75"/><circle cx="1153.3" cy="749.1" r="4.75"/><circle cx="1112.6" cy="744.7" r="4.75"/><circle cx="1077.9" cy="665.8" r="4.75"/><circle cx="1014.9" cy="765.3" r="4.75"/><circle cx="1136.4" cy="773.3" r="4.75"/><circle cx="1042.2" cy="690.4" r="4.75"/><circle cx="1129" cy="718" r="4.75"/><circle cx="1118.5" cy="720.2" r="4.75"/><circle cx="1112.6" cy="793.9" r="4.75"/><circle cx="1015.4" cy="789.7" r="4.75"/><circle cx="1012" cy="760.2" r="4.75"/><circle cx="1079.9" cy="712.7" r="4.75"/><circle cx="1101.6" cy="723.9" r="4.75"/><circle cx="1117.8" cy="752.2" r="4.75"/><circle cx="1069.6" cy="766.7" r="4.75"/><circle cx="1078.8" cy="823.5" r="4.75"/><circle cx="1027.5" cy="685.4" r="4.75"/><circle cx="1127.8" cy="760" r="4.75"/><circle cx="1078.5" cy="799.8" r="4.75"/><circle cx="1030.5" cy="808.8" r="4.75"/><circle cx="1155.7" cy="758.1" r="4.75"/><circle cx="1011.7" cy="773.5" r="4.75"/><circle cx="1056.2" cy="827.1" r="4.75"/><circle cx="1097" cy="783.2" r="4.75"/><circle cx="1004.7" cy="748.1" r="4.75"/><circle cx="1010.4" cy="789.6" r="4.75"/><circle cx="1037.4" cy="784.8" r="4.75"/><circle cx="1126.5" cy="783.8" r="4.75"/><circle cx="996.6" cy="699.9" r="4.75"/><circle cx="1065" cy="818.1" r="4.75"/><circle cx="1105.3" cy="801.5" r="4.75"/><circle cx="1064.7" cy="744.7" r="4.75"/><circle cx="1006" cy="750.6" r="4.75"/><circle cx="1044.4" cy="809.3" r="4.75"/><circle cx="1059.5" cy="708.4" r="4.75"/><circle cx="1073.2" cy="771.1" r="4.75"/><circle cx="1045.7" cy="668.4" r="4.75"/><circle cx="1026.9" cy="794.8" r="4.75"/><circle cx="1106" cy="782" r="4.75"/><circle cx="1021.8" cy="746.9" r="4.75"/><circle cx="1094.5" cy="696.7" r="4.75"/><circle cx="1076.4" cy="768.7" r="4.75"/><circle cx="1008.9" cy="744.5" r="4.75"/><circle cx="1088.6" cy="740.5" r="4.75"/><circle cx="1071.9" cy="737.3" r="4.75"/><circle cx="1013.5" cy="734" r="4.75"/><circle cx="1061.4" cy="718" r="4.75"/><circle cx="1046.2" cy="833.4" r="4.75"/><circle cx="1148" cy="756.8" r="4.75"/><circle cx="1034.8" cy="678.7" r="4.75"/><circle cx="1033.4" cy="672.7" r="4.75"/><circle cx="1042.5" cy="733.2" r="4.75"/><circle cx="1078.4" cy="800.8" r="4.75"/><circle cx="1033.4" cy="745.6" r="4.75"/><circle cx="1079.6" cy="811.6" r="4.75"/><circle cx="1052.3" cy="820.2" r="4.75"/><circle cx="1009.1" cy="768.5" r="4.75"/><circle cx="1001.1" cy="697.1" r="4.75"/><circle cx="1086.7" cy="720.6" r="4.75"/><circle cx="1087.5" cy="756.7" r="4.75"/><circle cx="1115.5" cy="781.4" r="4.75"/><circle cx="1027.2" cy="773.2" r="4.75"/><circle cx="1110.1" cy="735.5" r="4.75"/><circle cx="1080" cy="756.9" r="4.75"/><circle cx="1089.8" cy="679.6" r="4.75"/><circle cx="1061.1" cy="782.4" r="4.75"/><circle cx="1028.5" cy="703.9" r="4.75"/><circle cx="1020.3" cy="700.7" r="4.75"/><circle cx="1030.5" cy="749.7" r="4.75"/><circle cx="1044" cy="794.6" r="4.75"/><circle cx="1046.9" cy="779.8" r="4.75"/><circle cx="1114.1" cy="788.3" r="4.75"/><circle cx="1051.4" cy="681.3" r="4.75"/><circle cx="1118.9" cy="774.5" r="4.75"/><circle cx="1042.4" cy="776.6" r="4.75"/><circle cx="997.7" cy="781.5" r="4.75"/><circle cx="1091.1" cy="680.7" r="4.75"/><circle cx="1029.1" cy="813.3" r="4.75"/><circle cx="1086.7" cy="802.8" r="4.75"/><circle cx="1098.4" cy="709.7" r="4.75"/><circle cx="1009.3" cy="730.9" r="4.75"/><circle cx="1046.3" cy="695" r="4.75"/><circle cx="1103.2" cy="770.3" r="4.75"/><circle cx="1024.9" cy="677.3" r="4.75"/><circle cx="1070.2" cy="785.5" r="4.75"/><circle cx="1101.5" cy="771.4" r="4.75"/><circle cx="1059.5" cy="792.5" r="4.75"/><circle cx="1101.4" cy="711.2" r="4.75"/><circle cx="1007.7" cy="718.5" r="4.75"/><circle cx="1111.4" cy="793.5" r="4.75"/><circle cx="1088.8" cy="732.8" r="4.75"/><circle cx="1018" cy="701.2" r="4.75"/><circle cx="1128.1" cy="714.9" r="4.75"/><circle cx="1122" cy="714.2" r="4.75"/><circle cx="1038.3" cy="728.2" r="4.75"/><circle cx="1108" cy="706.2" r="4.75"/><circle cx="1081.7" cy="756.7" r="4.75"/><circle cx="1125.8" cy="737.1" r="4.75"/><circle cx="1055.4" cy="754.2" r="4.75"/><circle cx="1063" cy="789.6" r="4.75"/><circle cx="996.4" cy="678.3" r="4.75"/><circle cx="1136" cy="763.1" r="4.75"/><circle cx="1077.4" cy="688.7" r="4.75"/><circle cx="1049.8" cy="787.7" r="4.75"/><circle cx="1024.2" cy="672.6" r="4.75"/><circle cx="1076.4" cy="740.9" r="4.75"/><circle cx="1077.3" cy="759.4" r="4.75"/><circle cx="1025" cy="699.5" r="4.75"/><circle cx="1099.8" cy="779.4" r="4.75"/><circle cx="1018.6" cy="692.8" r="4.75"/><circle cx="1127.7" cy="774.8" r="4.75"/><circle cx="1004.6" cy="759.1" r="4.75"/><circle cx="1125.3" cy="734" r="4.75"/><circle cx="1102" cy="754.8" r="4.75"/><circle cx="1009.5" cy="691.7" r="4.75"/><circle cx="1033.8" cy="671.6" r="4.75"/><circle cx="1029.6" cy="743.9" r="4.75"/><circle cx="1001.5" cy="755.2" r="4.75"/><circle cx="1100.6" cy="691" r="4.75"/><circle cx="1107.1" cy="717.7" r="4.75"/><circle cx="1103.8" cy="805" r="4.75"/><circle cx="1009.9" cy="723.3" r="4.75"/><circle cx="1011.5" cy="693.5" r="4.75"/><circle cx="1020.7" cy="700.4" r="4.75"/><circle cx="1125.9" cy="716.7" r="4.75"/><circle cx="1036.5" cy="779.5" r="4.75"/><circle cx="1060.3" cy="819.2" r="4.75"/><circle cx="1050.5" cy="733.5" r="4.75"/><circle cx="1083" cy="741.8" r="4.75"/><circle cx="1091.1" cy="725.4" r="4.75"/><circle cx="1007.8" cy="737.2" r="4.75"/><circle cx="1109.6" cy="696.6" r="4.75"/><circle cx="1026.2" cy="745.4" r="4.75"/><circle cx="1109.7" cy="719.3" r="4.75"/><circle cx="1013" cy="796.2" r="4.75"/><circle cx="1030.5" cy="678.8" r="4.75"/><circle cx="1073.3" cy="799.6" r="4.75"/><circle cx="1102.1" cy="751.7" r="4.75"/><circle cx="1022.9" cy="689.7" r="4.75"/><circle cx="1008.9" cy="760.8" r="4.75"/><circle cx="1099.5" cy="706.1" r="4.75"/><circle cx="1088" cy="785.6" r="4.75"/><circle cx="998.8" cy="691" r="4.75"/><circle cx="1117.7" cy="785.3" r="4.75"/><circle cx="1111.1" cy="786.4" r="4.75"/><circle cx="1000.7" cy="684.7" r="4.75"/><circle cx="1078.4" cy="738.3" r="4.75"/><circle cx="1045.7" cy="742.4" r="4.75"/><circle cx="1058.5" cy="788.4" r="4.75"/><circle cx="1054.5" cy="816.8" r="4.75"/><circle cx="1055.6" cy="811.5" r="4.75"/><circle cx="1043.3" cy="757.6" r="4.75"/><circle cx="1016" cy="808.4" r="4.75"/><circle cx="1039" cy="715.3" r="4.75"/><circle cx="1060" cy="665.3" r="4.75"/><circle cx="1050.1" cy="797.2" r="4.75"/><circle cx="1045" cy="732.7" r="4.75"/><circle cx="1028.6" cy="799.4" r="4.75"/><circle cx="1103.4" cy="696.2" r="4.75"/><circle cx="1040.6" cy="733" r="4.75"/><circle cx="1055.6" cy="688.4" r="4.75"/><circle cx="1024.1" cy="800.8" r="4.75"/><circle cx="1116" cy="725.2" r="4.75"/><circle cx="1025.8" cy="662.8" r="4.75"/><circle cx="1024.4" cy="752.1" r="4.75"/><circle cx="1143.3" cy="747.1" r="4.75"/><circle cx="1041.9" cy="674" r="4.75"/><circle cx="1097.7" cy="681.3" r="4.75"/><circle cx="1116.9" cy="718.3" r="4.75"/><circle cx="1107.3" cy="750" r="4.75"/><circle cx="991.7" cy="757" r="4.75"/><circle cx="1027" cy="787.7" r="4.75"/><circle cx="1060.2" cy="812.5" r="4.75"/><circle cx="1067.1" cy="744.3" r="4.75"/><circle cx="1074.1" cy="756.7" r="4.75"/><circle cx="1106.6" cy="697.1" r="4.75"/><circle cx="1065.4" cy="735.2" r="4.75"/><circle cx="1081.6" cy="725.1" r="4.75"/><circle cx="1045.8" cy="733.7" r="4.75"/><circle cx="1045.9" cy="697.2" r="4.75"/><circle cx="1016.3" cy="775" r="4.75"/><circle cx="1081.8" cy="807.3" r="4.75"/><circle cx="1055" cy="745.4" r="4.75"/><circle cx="1021.7" cy="699.9" r="4.75"/><circle cx="1046.9" cy="671.8" r="4.75"/><circle cx="1145.6" cy="745.8" r="4.75"/><circle cx="1114.5" cy="698.2" r="4.75"/><circle cx="1058.5" cy="828.4" r="4.75"/><circle cx="1076.9" cy="710.9" r="4.75"/><circle cx="1037.6" cy="824.3" r="4.75"/><circle cx="1045.2" cy="679.5" r="4.75"/><circle cx="1055.9" cy="808.7" r="4.75"/><circle cx="1146.5" cy="755.7" r="4.75"/><circle cx="1023.6" cy="748.7" r="4.75"/><circle cx="1025.6" cy="715.2" r="4.75"/><circle cx="1022.1" cy="766.3" r="4.75"/><circle cx="1091.6" cy="787.4" r="4.75"/><circle cx="1057.1" cy="730" r="4.75"/><circle cx="1129.8" cy="706.5" r="4.75"/><circle cx="1082.7" cy="668.6" r="4.75"/><circle cx="1056.5" cy="798.1" r="4.75"/><circle cx="1020.2" cy="727.4" r="4.75"/><circle cx="1090.8" cy="760.2" r="4.75"/><circle cx="1112.8" cy="707.1" r="4.75"/><circle cx="1030.7" cy="684.5" r="4.75"/><circle cx="1055.4" cy="799.8" r="4.75"/><circle cx="1037" cy="737.3" r="4.75"/><circle cx="1090" cy="692.3" r="4.75"/><circle cx="998.5" cy="724.3" r="4.75"/><circle cx="1110.4" cy="778.9" r="4.75"/><circle cx="1016.1" cy="774.8" r="4.75"/><circle cx="1133.7" cy="784" r="4.75"/><circle cx="1109.8" cy="697.5" r="4.75"/><circle cx="1115.8" cy="759.2" r="4.75"/><circle cx="1094.8" cy="714.7" r="4.75"/><circle cx="1102" cy="719.5" r="4.75"/><circle cx="1048.6" cy="707.8" r="4.75"/><circle cx="1118.6" cy="714.2" r="4.75"/><circle cx="1116.9" cy="744.7" r="4.75"/><circle cx="1048.5" cy="805.2" r="4.75"/><circle cx="1069.4" cy="773.6" r="4.75"/><circle cx="1017.1" cy="768.3" r="4.75"/><circle cx="1009.8" cy="757" r="4.75"/><circle cx="1137.3" cy="728.1" r="4.75"/><circle cx="1078.2" cy="752.2" r="4.75"/><circle cx="1123" cy="760.7" r="4.75"/><circle cx="1007.7" cy="749.6" r="4.75"/><circle cx="1009.3" cy="715.8" r="4.75"/><circle cx="1087.4" cy="711.3" r="4.75"/><circle cx="1038.8" cy="728.8" r="4.75"/><circle cx="1115.2" cy="745.3" r="4.75"/><circle cx="1096" cy="710.2" r="4.75"/><circle cx="1083.4" cy="761.6" r="4.75"/><circle cx="1030.9" cy="689.3" r="4.75"/><circle cx="1030.4" cy="736.8" r="4.75"/><circle cx="1109.9" cy="775.5" r="4.75"/><circle cx="999.1" cy="721.1" r="4.75"/><circle cx="991.2" cy="680.3" r="4.75"/><circle cx="1078" cy="821.7" r="4.75"/><circle cx="1012.6" cy="723.4" r="4.75"/><circle cx="1006.2" cy="765.9" r="4.75"/><circle cx="1019.5" cy="758.1" r="4.75"/><circle cx="1083.2" cy="713.6" r="4.75"/><circle cx="1010.2" cy="739.3" r="4.75"/><circle cx="1121.8" cy="786.5" r="4.75"/><circle cx="1109" cy="746.4" r="4.75"/><circle cx="1124.9" cy="737.8" r="4.75"/><circle cx="1051.5" cy="794.8" r="4.75"/><circle cx="1046.6" cy="713.1" r="4.75"/><circle cx="1023" cy="804.7" r="4.75"/><circle cx="1073.3" cy="705.5" r="4.75"/><circle cx="1032.2" cy="670.2" r="4.75"/><circle cx="1105.2" cy="736.3" r="4.75"/><circle cx="1038.9" cy="698" r="4.75"/><circle cx="1046.1" cy="726.7" r="4.75"/><circle cx="1091.5" cy="725.9" r="4.75"/><circle cx="1039.8" cy="687.8" r="4.75"/><circle cx="1010.9" cy="797.8" r="4.75"/><circle cx="1097.9" cy="689.2" r="4.75"/><circle cx="1001.7" cy="810.7" r="4.75"/><circle cx="998.6" cy="660.8" r="4.75"/><circle cx="1129.5" cy="718.7" r="4.75"/><circle cx="1073.9" cy="738" r="4.75"/><circle cx="1027.7" cy="706.6" r="4.75"/><circle cx="1091" cy="697.7" r="4.75"/><circle cx="1100.6" cy="811" r="4.75"/><circle cx="1036.5" cy="700.1" r="4.75"/><circle cx="1045" cy="738.2" r="4.75"/><circle cx="1035.1" cy="664.9" r="4.75"/><circle cx="1047.7" cy="819.8" r="4.75"/><circle cx="1098" cy="690.8" r="4.75"/><circle cx="1117.8" cy="761.5" r="4.75"/><circle cx="1042.9" cy="802.5" r="4.75"/><circle cx="1038.3" cy="671.5" r="4.75"/><circle cx="1027.7" cy="674.3" r="4.75"/><circle cx="1028.8" cy="815.2" r="4.75"/><circle cx="1093.5" cy="812.8" r="4.75"/><circle cx="1046.9" cy="822.9" r="4.75"/><circle cx="1030.9" cy="662.5" r="4.75"/><circle cx="1034" cy="832.8" r="4.75"/><circle cx="1051.1" cy="785.7" r="4.75"/><circle cx="1090.6" cy="810.1" r="4.75"/><circle cx="1138.5" cy="763.7" r="4.75"/><circle cx="1051.3" cy="749.2" r="4.75"/><circle cx="1017.7" cy="693.8" r="4.75"/><circle cx="1074" cy="730.7" r="4.75"/><circle cx="1049.3" cy="659.7" r="4.75"/><circle cx="1066.6" cy="712.7" r="4.75"/><circle cx="1080.8" cy="799.4" r="4.75"/><circle cx="1045.2" cy="737.7" r="4.75"/><circle cx="1018.6" cy="796.9" r="4.75"/><circle cx="1045.6" cy="735.9" r="4.75"/><circle cx="1061.8" cy="689.4" r="4.75"/><circle cx="1041.7" cy="700.4" r="4.75"/><circle cx="1009.2" cy="744.5" r="4.75"/><circle cx="1019.1" cy="681.2" r="4.75"/><circle cx="1047.7" cy="749" r="4.75"/><circle cx="1061.9" cy="802" r="4.75"/><circle cx="1025.5" cy="794.2" r="4.75"/><circle cx="1100" cy="755.1" r="4.75"/><circle cx="1032.9" cy="683" r="4.75"/><circle cx="1065.2" cy="727.5" r="4.75"/><circle cx="1052.8" cy="834.2" r="4.75"/><circle cx="1106.1" cy="731.7" r="4.75"/><circle cx="1050.4" cy="738.6" r="4.75"/><circle cx="1001.3" cy="686.9" r="4.75"/><circle cx="1053.8" cy="681.2" r="4.75"/><circle cx="1107.1" cy="675.3" r="4.75"/><circle cx="991.6" cy="659.1" r="4.75"/><circle cx="993.2" cy="659.9" r="4.75"/><circle cx="995.9" cy="659.8" r="4.75"/><circle cx="997.5" cy="661.6" r="4.75"/><circle cx="999.9" cy="660.1" r="4.75"/><circle cx="1002.2" cy="660" r="4.75"/><circle cx="1004.7" cy="660.2" r="4.75"/><circle cx="1006.8" cy="659.3" r="4.75"/><circle cx="1008.7" cy="660.4" r="4.75"/><circle cx="1011.5" cy="660.2" r="4.75"/><circle cx="1013.2" cy="659.8" r="4.75"/><circle cx="1016.2" cy="659" r="4.75"/><circle cx="1018.3" cy="659.5" r="4.75"/><circle cx="1020.2" cy="661.1" r="4.75"/><circle cx="1022.8" cy="659.9" r="4.75"/><circle cx="1024.2" cy="660.2" r="4.75"/><circle cx="1026.5" cy="658.8" r="4.75"/><circle cx="1028.8" cy="658.6" r="4.75"/><circle cx="1031.7" cy="660.3" r="4.75"/><circle cx="1033.8" cy="659.7" r="4.75"/><circle cx="1035.9" cy="658.9" r="4.75"/><circle cx="1038.4" cy="660.1" r="4.75"/><circle cx="1040.6" cy="660" r="4.75"/><circle cx="1042.5" cy="660.4" r="4.75"/><circle cx="1044.8" cy="659" r="4.75"/><circle cx="1047" cy="659.1" r="4.75"/><circle cx="1048.8" cy="661" r="4.75"/><circle cx="1051.6" cy="659.9" r="4.75"/><circle cx="1053.7" cy="661" r="4.75"/><circle cx="1055.4" cy="661" r="4.75"/><circle cx="1057.8" cy="658.8" r="4.75"/><circle cx="1060" cy="659.2" r="4.75"/><circle cx="1062.3" cy="658.6" r="4.75"/><circle cx="1064.5" cy="658.8" r="4.75"/><circle cx="1067.1" cy="659.5" r="4.75"/><circle cx="1069" cy="658.9" r="4.75"/><circle cx="1071.1" cy="660.4" r="4.75"/><circle cx="1073.8" cy="659.7" r="4.75"/><circle cx="1076" cy="658.8" r="4.75"/><circle cx="992.6" cy="658.4" r="4.75"/><circle cx="994.5" cy="661.6" r="4.75"/><circle cx="992.4" cy="663.4" r="4.75"/><circle cx="992.8" cy="666.7" r="4.75"/><circle cx="992.4" cy="668.7" r="4.75"/><circle cx="991.9" cy="672.3" r="4.75"/><circle cx="994" cy="674" r="4.75"/><circle cx="992.2" cy="677.4" r="4.75"/><circle cx="996.5" cy="679.2" r="4.75"/><circle cx="994" cy="681.7" r="4.75"/><circle cx="994.9" cy="685.2" r="4.75"/><circle cx="995" cy="687.8" r="4.75"/><circle cx="993.9" cy="690.1" r="4.75"/><circle cx="991.8" cy="693.1" r="4.75"/><circle cx="994.2" cy="695.4" r="4.75"/><circle cx="992.8" cy="698.2" r="4.75"/><circle cx="991.4" cy="700.4" r="4.75"/><circle cx="992.3" cy="702.6" r="4.75"/><circle cx="994.3" cy="706.1" r="4.75"/><circle cx="994.7" cy="707.7" r="4.75"/><circle cx="992.2" cy="710.4" r="4.75"/><circle cx="993.1" cy="713.5" r="4.75"/><circle cx="992.3" cy="716.7" r="4.75"/><circle cx="992.5" cy="718.6" r="4.75"/><circle cx="992.7" cy="721.1" r="4.75"/><circle cx="995.2" cy="723.5" r="4.75"/><circle cx="993.3" cy="727.3" r="4.75"/><circle cx="992.5" cy="729.1" r="4.75"/><circle cx="992.4" cy="731.3" r="4.75"/><circle cx="992.2" cy="734.3" r="4.75"/><circle cx="992.8" cy="737.8" r="4.75"/><circle cx="993.8" cy="740.3" r="4.75"/><circle cx="993.1" cy="742.6" r="4.75"/><circle cx="993.7" cy="744.3" r="4.75"/><circle cx="1137.3" cy="757.1" r="4.75"/><circle cx="1142.4" cy="758.4" r="4.75"/><circle cx="1142.1" cy="747.4" r="4.75"/><circle cx="1141.2" cy="744.6" r="4.75"/><circle cx="1143.4" cy="758.3" r="4.75"/><circle cx="1141.2" cy="743" r="4.75"/><circle cx="1136" cy="773.5" r="4.75"/><circle cx="1148.8" cy="751.5" r="4.75"/><circle cx="1136.7" cy="770.5" r="4.75"/><circle cx="1149.8" cy="752.7" r="4.75"/><circle cx="1137.7" cy="770.3" r="4.75"/><circle cx="1144.7" cy="753.9" r="4.75"/><circle cx="1138" cy="762" r="4.75"/><circle cx="1136.8" cy="758.2" r="4.75"/><circle cx="1136.4" cy="764" r="4.75"/><circle cx="1137.5" cy="768.9" r="4.75"/><circle cx="1136.7" cy="759.6" r="4.75"/><circle cx="93.4" cy="683.8" r="4.75"/><circle cx="116.2" cy="681.9" r="4.75"/><circle cx="126.9" cy="678.8" r="4.75"/><circle cx="129.4" cy="683.1" r="4.75"/><circle cx="108.8" cy="688.1" r="4.75"/><circle cx="122.5" cy="690" r="4.75"/><circle cx="130.6" cy="690.6" r="4.75"/><circle cx="140" cy="681.9" r="4.75"/><circle cx="113.8" cy="696.9" r="4.75"/><circle cx="117.5" cy="698.1" r="4.75"/><circle cx="100.6" cy="701.2" r="4.75"/><circle cx="95.6" cy="709.4" r="4.75"/><circle cx="104.4" cy="713.8" r="4.75"/><circle cx="95" cy="720" r="4.75"/><circle cx="103.1" cy="720" r="4.75"/><circle cx="111.2" cy="721.2" r="4.75"/><circle cx="92.5" cy="728.1" r="4.75"/><circle cx="98.8" cy="730" r="4.75"/><circle cx="103.8" cy="726.2" r="4.75"/><circle cx="111.9" cy="736.2" r="4.75"/><circle cx="105" cy="742.5" r="4.75"/><circle cx="111.2" cy="743.1" r="4.75"/><circle cx="94.4" cy="748.8" r="4.75"/><circle cx="93.8" cy="753.8" r="4.75"/><circle cx="98.8" cy="761.2" r="4.75"/><circle cx="193.8" cy="680" r="4.75"/><circle cx="206.9" cy="676.9" r="4.75"/><circle cx="210" cy="684.4" r="4.75"/><circle cx="203.1" cy="688.1" r="4.75"/><circle cx="206.9" cy="696.9" r="4.75"/><circle cx="216.9" cy="708.1" r="4.75"/><circle cx="236.9" cy="719.4" r="4.75"/><circle cx="226.2" cy="731.9" r="4.75"/><circle cx="231.2" cy="739.4" r="4.75"/><circle cx="101.2" cy="771.2" r="4.75"/><circle cx="93.1" cy="777.5" r="4.75"/><circle cx="96.2" cy="775.6" r="4.75"/><circle cx="103.1" cy="790" r="4.75"/><circle cx="105" cy="801.9" r="4.75"/><circle cx="113.8" cy="804.4" r="4.75"/><circle cx="97.5" cy="811.9" r="4.75"/><circle cx="103.1" cy="810.6" r="4.75"/><circle cx="106.9" cy="818.8" r="4.75"/><circle cx="113.8" cy="819.4" r="4.75"/><circle cx="122.5" cy="823.1" r="4.75"/><circle cx="117.5" cy="812.5" r="4.75"/><circle cx="123.8" cy="810" r="4.75"/><circle cx="133.8" cy="816.2" r="4.75"/><circle cx="133.8" cy="825.6" r="4.75"/><circle cx="136.9" cy="826.9" r="4.75"/><circle cx="108.1" cy="829" r="4.75"/><circle cx="113.8" cy="826.9" r="4.75"/><circle cx="149.4" cy="818.8" r="4.75"/><circle cx="158.8" cy="822.5" r="4.75"/><circle cx="165.6" cy="829" r="4.75"/><circle cx="171.2" cy="827.5" r="4.75"/><circle cx="180.6" cy="825.6" r="4.75"/><circle cx="190.6" cy="823.8" r="4.75"/><circle cx="195.6" cy="823.1" r="4.75"/><circle cx="97.2" cy="835" r="4.75"/><circle cx="97.5" cy="841.2" r="4.75"/><circle cx="101.9" cy="842.2" r="4.75"/><circle cx="112.8" cy="839.6" r="4.75"/><circle cx="259" cy="709.1" r="4.75"/><circle cx="261.9" cy="734.4" r="4.75"/><circle cx="236.2" cy="748.8" r="4.75"/><circle cx="244.8" cy="747.5" r="4.75"/><circle cx="259.4" cy="752.8" r="4.75"/><circle cx="239" cy="759" r="4.75"/><circle cx="251" cy="770.9" r="4.75"/><circle cx="281.2" cy="766.2" r="4.75"/><circle cx="283.8" cy="769.6" r="4.75"/><circle cx="233.1" cy="775" r="4.75"/><circle cx="235.6" cy="778.8" r="4.75"/><circle cx="244" cy="787.1" r="4.75"/><circle cx="237.5" cy="788.1" r="4.75"/><circle cx="228.5" cy="790.6" r="4.75"/><circle cx="236.2" cy="801.9" r="4.75"/><circle cx="247.5" cy="801.9" r="4.75"/><circle cx="220" cy="800" r="4.75"/><circle cx="208.1" cy="810" r="4.75"/><circle cx="200" cy="812.5" r="4.75"/><circle cx="140" cy="826.2" r="4.75"/><circle cx="233.8" cy="761.9" r="4.75"/><circle cx="673.2" cy="708.8" r="4.75"/><circle cx="686.8" cy="738.1" r="4.75"/><circle cx="631.8" cy="694.4" r="4.75"/><circle cx="648" cy="712.5" r="4.75"/><circle cx="639.9" cy="710" r="4.75"/><circle cx="651.1" cy="726" r="4.75"/><circle cx="652.4" cy="736.9" r="4.75"/><circle cx="660.5" cy="735.6" r="4.75"/><circle cx="691.8" cy="773.8" r="4.75"/><circle cx="675.9" cy="780.6" r="4.75"/><circle cx="687.1" cy="782.1" r="4.75"/><circle cx="676.8" cy="790.6" r="4.75"/><circle cx="681.1" cy="758.8" r="4.75"/><circle cx="671.8" cy="747.5" r="4.75"/><circle cx="671.5" cy="796.6" r="4.75"/><circle cx="687" cy="797.1" r="4.75"/><circle cx="679.5" cy="804" r="4.75"/><circle cx="731.8" cy="793.5" r="4.75"/><circle cx="652.4" cy="796.9" r="4.75"/><circle cx="659.2" cy="793.8" r="4.75"/><circle cx="663" cy="790.6" r="4.75"/><circle cx="641.5" cy="811.2" r="4.75"/><circle cx="634.9" cy="815.6" r="4.75"/><circle cx="627.1" cy="821.2" r="4.75"/><circle cx="621.1" cy="815" r="4.75"/><circle cx="609.9" cy="819.4" r="4.75"/><circle cx="596.5" cy="820.6" r="4.75"/><circle cx="610.9" cy="841.2" r="4.75"/><circle cx="555.2" cy="842.1" r="4.75"/><circle cx="584.5" cy="836.5" r="4.75"/><circle cx="546.8" cy="833.8" r="4.75"/><circle cx="543" cy="829.4" r="4.75"/><circle cx="540.5" cy="823.8" r="4.75"/><circle cx="571.1" cy="829.1" r="4.75"/><circle cx="580.5" cy="825" r="4.75"/><circle cx="541.1" cy="790" r="4.75"/><circle cx="541.8" cy="778.8" r="4.75"/><circle cx="542.2" cy="695.5" r="4.75"/><circle cx="542.2" cy="717.3" r="4.75"/><circle cx="542.7" cy="733.3" r="4.75"/><circle cx="541.8" cy="740.2" r="4.75"/><circle cx="1090.4" cy="662.5" r="4.75"/><circle cx="1103.9" cy="662.9" r="4.75"/><circle cx="1105.4" cy="670.6" r="4.75"/><circle cx="1121.4" cy="670.6" r="4.75"/><circle cx="1132.9" cy="662.9" r="4.75"/><circle cx="1114.1" cy="688.8" r="4.75"/><circle cx="1122.9" cy="691.2" r="4.75"/><circle cx="1127.2" cy="690" r="4.75"/><circle cx="1135.1" cy="698.8" r="4.75"/><circle cx="1146.2" cy="693.1" r="4.75"/><circle cx="1134.1" cy="714.4" r="4.75"/><circle cx="1137.2" cy="724.4" r="4.75"/><circle cx="1152" cy="730.2" r="4.75"/><circle cx="1144.8" cy="735" r="4.75"/><circle cx="1163.8" cy="747.5" r="4.75"/><circle cx="1179.8" cy="752.5" r="4.75"/><circle cx="1155.4" cy="753.1" r="4.75"/><circle cx="1167.2" cy="761.9" r="4.75"/><circle cx="1117.2" cy="700" r="4.75"/><circle cx="1154.8" cy="763.8" r="4.75"/><circle cx="1168.1" cy="773.5" r="4.75"/><circle cx="1156" cy="775.6" r="4.75"/><circle cx="1157.9" cy="777.5" r="4.75"/><circle cx="1160.4" cy="776.9" r="4.75"/><circle cx="1138.5" cy="788.8" r="4.75"/><circle cx="1135.4" cy="781.2" r="4.75"/><circle cx="1122.2" cy="798.1" r="4.75"/><circle cx="1120.8" cy="806.2" r="4.75"/><circle cx="1112.9" cy="806.2" r="4.75"/><circle cx="1132.5" cy="812.1" r="4.75"/><circle cx="1102.9" cy="814.4" r="4.75"/><circle cx="1096.4" cy="825.6" r="4.75"/><circle cx="1082.9" cy="826.6" r="4.75"/><circle cx="1069.8" cy="821.9" r="4.75"/><circle cx="1061" cy="829.4" r="4.75"/><circle cx="1077.2" cy="820" r="4.75"/><circle cx="988.5" cy="772.5" r="4.75"/><circle cx="993.5" cy="763.1" r="4.75"/><circle cx="992.9" cy="781.9" r="4.75"/><circle cx="996.6" cy="789.4" r="4.75"/><circle cx="999.8" cy="792.5" r="4.75"/><circle cx="991" cy="804.4" r="4.75"/><circle cx="992.2" cy="808.1" r="4.75"/><circle cx="1002.9" cy="801.2" r="4.75"/><circle cx="998.5" cy="819.4" r="4.75"/><circle cx="994.8" cy="822.5" r="4.75"/><circle cx="994.1" cy="826.2" r="4.75"/><circle cx="1001" cy="824.4" r="4.75"/><circle cx="1009.8" cy="821.2" r="4.75"/><circle cx="1012.9" cy="818.8" r="4.75"/><circle cx="1026" cy="823.1" r="4.75"/><circle cx="1023.2" cy="840" r="4.75"/><circle cx="1030.6" cy="842.2" r="4.75"/><circle cx="1038.5" cy="839.4" r="4.75"/><circle cx="1037.2" cy="832.5" r="4.75"/><circle cx="1049.8" cy="835.6" r="4.75"/><circle cx="1033.5" cy="830.6" r="4.75"/><circle cx="1061.6" cy="826.9" r="4.75"/><circle cx="1081" cy="820" r="4.75"/><circle cx="1124.8" cy="798.1" r="4.75"/><circle cx="1119.8" cy="798.8" r="4.75"/><circle cx="1099.1" cy="813.8" r="4.75"/><circle cx="1101" cy="668.8" r="4.75"/><circle cx="991.1" cy="727.1" r="4.75"/><circle cx="991.6" cy="701.9" r="4.75"/><circle cx="991.6" cy="680.1" r="4.75"/><circle cx="991.6" cy="692.7" r="4.75"/><circle cx="992.5" cy="772.2" r="4.75"/><circle cx="1121.6" cy="670.9" r="4.75"/><circle cx="1121.2" cy="670.9" r="4.75"/></g>
<g class="o"><circle cx="115.9" cy="52.8" r="4.75"/><circle cx="96.6" cy="139.5" r="4.75"/><circle cx="118.4" cy="470.2" r="4.75"/><circle cx="117.9" cy="475.9" r="4.75"/><circle cx="107.5" cy="487.4" r="4.75"/><circle cx="126" cy="486.6" r="4.75"/><circle cx="109.1" cy="512.1" r="4.75"/><circle cx="99.4" cy="527.5" r="4.75"/><circle cx="97.1" cy="560.6" r="4.75"/><circle cx="119.5" cy="569.4" r="4.75"/><circle cx="101.6" cy="577.2" r="4.75"/><circle cx="127.2" cy="577.1" r="4.75"/><circle cx="119.8" cy="582.1" r="4.75"/><circle cx="97.1" cy="594.8" r="4.75"/><circle cx="92.1" cy="604.8" r="4.75"/><circle cx="92.5" cy="606.2" r="4.75"/><circle cx="92" cy="616.2" r="4.75"/><circle cx="143.5" cy="604.1" r="4.75"/><circle cx="151.4" cy="609.2" r="4.75"/><circle cx="168.8" cy="605.4" r="4.75"/><circle cx="180.4" cy="603.5" r="4.75"/><circle cx="157.6" cy="616.5" r="4.75"/><circle cx="167.5" cy="620" r="4.75"/><circle cx="111.2" cy="615.6" r="4.75"/><circle cx="102.9" cy="620" r="4.75"/><circle cx="102.9" cy="625.6" r="4.75"/><circle cx="109" cy="625.4" r="4.75"/><circle cx="124.6" cy="622.5" r="4.75"/><circle cx="120.2" cy="627.2" r="4.75"/><circle cx="140" cy="621.6" r="4.75"/><circle cx="143.4" cy="626.5" r="4.75"/><circle cx="133.1" cy="629" r="4.75"/><circle cx="136.5" cy="632.5" r="4.75"/><circle cx="136.9" cy="635.6" r="4.75"/><circle cx="154" cy="631" r="4.75"/><circle cx="153.1" cy="635.6" r="4.75"/><circle cx="152.8" cy="638.8" r="4.75"/><circle cx="116" cy="634.8" r="4.75"/><circle cx="109.6" cy="637.9" r="4.75"/><circle cx="97.9" cy="639.6" r="4.75"/><circle cx="129.8" cy="640.6" r="4.75"/><circle cx="140.6" cy="643.1" r="4.75"/><circle cx="141.2" cy="645" r="4.75"/><circle cx="127.2" cy="647.8" r="4.75"/><circle cx="146.2" cy="650" r="4.75"/><circle cx="151.2" cy="648.1" r="4.75"/><circle cx="158.8" cy="647.5" r="4.75"/><circle cx="161.9" cy="646.9" r="4.75"/><circle cx="162.5" cy="648.8" r="4.75"/><circle cx="178.4" cy="644" r="4.75"/><circle cx="182.9" cy="651.2" r="4.75"/><circle cx="192.8" cy="649.6" r="4.75"/><circle cx="193.5" cy="656.2" r="4.75"/><circle cx="195" cy="660.2" r="4.75"/><circle cx="120" cy="653.8" r="4.75"/><circle cx="133.1" cy="654.4" r="4.75"/><circle cx="107.1" cy="661.6" r="4.75"/><circle cx="137.5" cy="660" r="4.75"/><circle cx="125" cy="663.5" r="4.75"/><circle cx="128.8" cy="665.6" r="4.75"/><circle cx="140.6" cy="664.4" r="4.75"/><circle cx="132.5" cy="667.5" r="4.75"/><circle cx="151.9" cy="663.1" r="4.75"/><circle cx="157.8" cy="659.4" r="4.75"/><circle cx="158.8" cy="663.8" r="4.75"/><circle cx="162.5" cy="666.2" r="4.75"/><circle cx="170" cy="665" r="4.75"/><circle cx="174.6" cy="661.6" r="4.75"/><circle cx="176.2" cy="666.9" r="4.75"/><circle cx="172.5" cy="668.1" r="4.75"/><circle cx="220" cy="666.2" r="4.75"/><circle cx="105.9" cy="672.2" r="4.75"/><circle cx="116.6" cy="670.6" r="4.75"/><circle cx="127.5" cy="670.6" r="4.75"/><circle cx="136.2" cy="671.2" r="4.75"/><circle cx="140" cy="674.4" r="4.75"/><circle cx="142.5" cy="672.5" r="4.75"/><circle cx="150" cy="675" r="4.75"/><circle cx="153.8" cy="676.9" r="4.75"/><circle cx="157.5" cy="673.8" r="4.75"/><circle cx="165" cy="671.2" r="4.75"/><circle cx="170" cy="670" r="4.75"/><circle cx="175" cy="670.6" r="4.75"/><circle cx="135" cy="662.5" r="4.75"/><circle cx="138.8" cy="666.2" r="4.75"/><circle cx="167.5" cy="662.5" r="4.75"/><circle cx="171.2" cy="663.8" r="4.75"/><circle cx="130" cy="665" r="4.75"/><circle cx="135" cy="668.8" r="4.75"/><circle cx="166.2" cy="666.9" r="4.75"/><circle cx="155" cy="667.5" r="4.75"/><circle cx="558.5" cy="52.5" r="4.75"/><circle cx="635" cy="197" r="4.75"/><circle cx="631" cy="247.5" r="4.75"/><circle cx="558" cy="408" r="4.75"/><circle cx="580.2" cy="495.4" r="4.75"/><circle cx="553.2" cy="507.4" r="4.75"/><circle cx="554.1" cy="507.8" r="4.75"/><circle cx="560.8" cy="523.9" r="4.75"/><circle cx="641.2" cy="561.4" r="4.75"/><circle cx="547" cy="566.2" r="4.75"/><circle cx="547.7" cy="567.4" r="4.75"/><circle cx="543.1" cy="581.6" r="4.75"/><circle cx="578.9" cy="585" r="4.75"/><circle cx="698" cy="647.1" r="4.75"/><circle cx="579.4" cy="607.2" r="4.75"/><circle cx="577.6" cy="611.2" r="4.75"/><circle cx="579.9" cy="619.1" r="4.75"/><circle cx="580.9" cy="628.5" r="4.75"/><circle cx="559.2" cy="619.8" r="4.75"/><circle cx="568.2" cy="619.8" r="4.75"/><circle cx="542" cy="626.9" r="4.75"/><circle cx="549.9" cy="626.5" r="4.75"/><circle cx="551.1" cy="628.8" r="4.75"/><circle cx="559.2" cy="625" r="4.75"/><circle cx="568.6" cy="625.6" r="4.75"/><circle cx="567.4" cy="629.4" r="4.75"/><circle cx="555.5" cy="633.8" r="4.75"/><circle cx="556.8" cy="635" r="4.75"/><circle cx="559.2" cy="639.4" r="4.75"/><circle cx="573" cy="638.8" r="4.75"/><circle cx="568" cy="641.2" r="4.75"/><circle cx="587.8" cy="641.2" r="4.75"/><circle cx="571.1" cy="646.2" r="4.75"/><circle cx="574.2" cy="647.5" r="4.75"/><circle cx="592.6" cy="649.1" r="4.75"/><circle cx="559.2" cy="649.4" r="4.75"/><circle cx="558" cy="650.6" r="4.75"/><circle cx="545.1" cy="648.1" r="4.75"/><circle cx="548.6" cy="650.6" r="4.75"/><circle cx="600.5" cy="634" r="4.75"/><circle cx="607.6" cy="628.5" r="4.75"/><circle cx="613.9" cy="626" r="4.75"/><circle cx="617" cy="636.5" r="4.75"/><circle cx="614" cy="646.5" r="4.75"/><circle cx="594.9" cy="655.6" r="4.75"/><circle cx="598" cy="658.1" r="4.75"/><circle cx="581.8" cy="657.5" r="4.75"/><circle cx="583" cy="660" r="4.75"/><circle cx="569.2" cy="659.4" r="4.75"/><circle cx="540.5" cy="659" r="4.75"/><circle cx="544.2" cy="660" r="4.75"/><circle cx="541.1" cy="663.8" r="4.75"/><circle cx="550.5" cy="661.2" r="4.75"/><circle cx="555.5" cy="663.8" r="4.75"/><circle cx="560.5" cy="663.8" r="4.75"/><circle cx="565.5" cy="665" r="4.75"/><circle cx="603" cy="665" r="4.75"/><circle cx="608" cy="667.5" r="4.75"/><circle cx="617" cy="666.2" r="4.75"/><circle cx="613" cy="670" r="4.75"/><circle cx="622.4" cy="675.2" r="4.75"/><circle cx="636.4" cy="684" r="4.75"/><circle cx="624.2" cy="685" r="4.75"/><circle cx="617.4" cy="685.6" r="4.75"/><circle cx="1078" cy="52.5" r="4.75"/><circle cx="1006.5" cy="243.5" r="4.75"/><circle cx="1091" cy="254.5" r="4.75"/><circle cx="992" cy="323" r="4.75"/><circle cx="992.5" cy="383.5" r="4.75"/><circle cx="1041" cy="394" r="4.75"/><circle cx="1002.4" cy="488" r="4.75"/><circle cx="1033.3" cy="487" r="4.75"/><circle cx="1001.2" cy="512.7" r="4.75"/><circle cx="998.2" cy="517.3" r="4.75"/><circle cx="1029.2" cy="511.3" r="4.75"/><circle cx="1032.6" cy="511.3" r="4.75"/><circle cx="1026.4" cy="521.9" r="4.75"/><circle cx="1029.9" cy="524.2" r="4.75"/><circle cx="1038.3" cy="524.2" r="4.75"/><circle cx="1035.1" cy="528.3" r="4.75"/><circle cx="1089" cy="528.1" r="4.75"/><circle cx="1026.9" cy="542.5" r="4.75"/><circle cx="995.2" cy="545.9" r="4.75"/><circle cx="996.2" cy="552.8" r="4.75"/><circle cx="990.9" cy="559" r="4.75"/><circle cx="993.2" cy="559" r="4.75"/><circle cx="1023.4" cy="555.8" r="4.75"/><circle cx="1131.8" cy="578.5" r="4.75"/><circle cx="1047" cy="564.6" r="4.75"/><circle cx="989.1" cy="569" r="4.75"/><circle cx="996.6" cy="570.6" r="4.75"/><circle cx="1026.6" cy="571.5" r="4.75"/><circle cx="1037" cy="577.1" r="4.75"/><circle cx="1038.9" cy="583.8" r="4.75"/><circle cx="988.5" cy="579.4" r="4.75"/><circle cx="996.6" cy="582.2" r="4.75"/><circle cx="1019.8" cy="583.1" r="4.75"/><circle cx="1025.4" cy="581.9" r="4.75"/><circle cx="997.9" cy="586.9" r="4.75"/><circle cx="1001.6" cy="588.1" r="4.75"/><circle cx="1005" cy="589.4" r="4.75"/><circle cx="987.5" cy="592.2" r="4.75"/><circle cx="1017.2" cy="592.2" r="4.75"/><circle cx="1051.4" cy="591.9" r="4.75"/><circle cx="1063.8" cy="591.2" r="4.75"/><circle cx="1027.9" cy="596.2" r="4.75"/><circle cx="1024.1" cy="598.8" r="4.75"/><circle cx="1043.5" cy="597.2" r="4.75"/><circle cx="1041.6" cy="599.4" r="4.75"/><circle cx="1047.9" cy="599" r="4.75"/><circle cx="1073.5" cy="598.8" r="4.75"/><circle cx="1083.9" cy="597.2" r="4.75"/><circle cx="1004.1" cy="598.8" r="4.75"/><circle cx="993.5" cy="603.8" r="4.75"/><circle cx="999.1" cy="602.5" r="4.75"/><circle cx="1007.2" cy="603.8" r="4.75"/><circle cx="1013.5" cy="605" r="4.75"/><circle cx="1034.8" cy="601.9" r="4.75"/><circle cx="1063.5" cy="602.5" r="4.75"/><circle cx="1062.2" cy="605" r="4.75"/><circle cx="1076" cy="605" r="4.75"/><circle cx="1082.2" cy="604.4" r="4.75"/><circle cx="1082.6" cy="612.5" r="4.75"/><circle cx="1024.1" cy="608.8" r="4.75"/><circle cx="1003.5" cy="608.8" r="4.75"/><circle cx="1009.8" cy="610" r="4.75"/><circle cx="1013.5" cy="611.2" r="4.75"/><circle cx="1042.2" cy="608.1" r="4.75"/><circle cx="1038.5" cy="611.9" r="4.75"/><circle cx="1048.5" cy="611.2" r="4.75"/><circle cx="1056" cy="615" r="4.75"/><circle cx="1066" cy="612.5" r="4.75"/><circle cx="1069.1" cy="617.5" r="4.75"/><circle cx="1075.4" cy="623.1" r="4.75"/><circle cx="989.1" cy="618.1" r="4.75"/><circle cx="992.2" cy="621.9" r="4.75"/><circle cx="988.5" cy="623.8" r="4.75"/><circle cx="1004.8" cy="625" r="4.75"/><circle cx="1080.4" cy="634.6" r="4.75"/><circle cx="1083.5" cy="636.9" r="4.75"/><circle cx="1078.5" cy="645" r="4.75"/><circle cx="1072.2" cy="642.5" r="4.75"/><circle cx="990.8" cy="636.2" r="4.75"/><circle cx="554.1" cy="507.8" r="4.75"/><circle cx="547.7" cy="567.4" r="4.75"/></g>
<g transform="translate(0,0)">
<path class="ax" d="M82.5 13.3V881.5H293.2"/>
<path class="tk" d="M81.1 853.1h-5.2M81.1 677.7h-5.2M81.1 502.2h-5.2M81.1 326.8h-5.2M81.1 151.4h-5.2M126.3 882.9v5.2M188.5 882.9v5.2M257 882.9v5.2"/>
<g class="s" text-anchor="end"><text transform="translate(69.7,861.6) scale(1,1.05)">0</text><text transform="translate(69.7,686.2) scale(1,1.05)">5</text><text transform="translate(69.7,510.8) scale(1,1.05)">10</text><text transform="translate(69.7,335.3) scale(1,1.05)">15</text><text transform="translate(69.7,159.9) scale(1,1.05)">20</text></g>
<g class="s" text-anchor="middle"><text transform="translate(126.3,910.9) scale(1,1.05)">1000</text><text transform="translate(188.5,910.9) scale(1,1.05)">3000</text><text transform="translate(257,910.9) scale(1,1.05)">10000</text></g>
<text class="t" text-anchor="middle" x="187.9" y="941.7">sum</text>
<text class="t" text-anchor="middle" transform="translate(31.5,448.1) rotate(-90)">subsets_Mito_percent</text>
<text class="t" x="319.7" y="421.5">discard</text>
<g class="b"><circle cx="334.4" cy="451.9" r="4.75"/></g><g class="o"><circle cx="334.4" cy="481.2" r="4.75"/></g>
<text class="s" transform="translate(361.9,460.4) scale(1,1.05)">FALSE</text><text class="s" transform="translate(361.9,489.7) scale(1,1.05)">TRUE</text>
</g>
<g transform="translate(448,0)">
<path class="ax" d="M82.5 13.3V881.5H293.2"/>
<path class="tk" d="M81.1 850h-5.2M81.1 613.2h-5.2M81.1 376.4h-5.2M81.1 139.6h-5.2M133.6 882.9v5.2M198.2 882.9v5.2M257.6 882.9v5.2"/>
<g class="s" text-anchor="end"><text transform="translate(69.7,858.5) scale(1,1.05)">0</text><text transform="translate(69.7,621.7) scale(1,1.05)">10</text><text transform="translate(69.7,384.9) scale(1,1.05)">20</text><text transform="translate(69.7,148.1) scale(1,1.05)">30</text></g>
<g class="s" text-anchor="middle"><text transform="translate(133.6,910.9) scale(1,1.05)">3000</text><text transform="translate(198.2,910.9) scale(1,1.05)">10000</text><text transform="translate(257.6,910.9) scale(1,1.05)">30000</text></g>
<text class="t" text-anchor="middle" x="187.9" y="941.7">sum</text>
<text class="t" text-anchor="middle" transform="translate(31.5,448.1) rotate(-90)">subsets_Mito_percent</text>
<text class="t" x="319.7" y="421.5">discard</text>
<g class="b"><circle cx="334.4" cy="451.9" r="4.75"/></g><g class="o"><circle cx="334.4" cy="481.2" r="4.75"/></g>
<text class="s" transform="translate(361.9,460.4) scale(1,1.05)">FALSE</text><text class="s" transform="translate(361.9,489.7) scale(1,1.05)">TRUE</text>
</g>
<g transform="translate(896,0)">
<path class="ax" d="M82.5 13.3V881.5H293.2"/>
<path class="tk" d="M81.1 868.9h-5.2M81.1 700.4h-5.2M81.1 531.9h-5.2M81.1 363.5h-5.2M81.1 195h-5.2M81.1 26.6h-5.2M139 882.9v5.2M212.5 882.9v5.2M280.1 882.9v5.2"/>
<g class="s" text-anchor="end"><text transform="translate(69.7,877.4) scale(1,1.05)">0</text><text transform="translate(69.7,708.9) scale(1,1.05)">5</text><text transform="translate(69.7,540.4) scale(1,1.05)">10</text><text transform="translate(69.7,372) scale(1,1.05)">15</text><text transform="translate(69.7,203.5) scale(1,1.05)">20</text><text transform="translate(69.7,35) scale(1,1.05)">25</text></g>
<g class="s" text-anchor="middle"><text transform="translate(139,910.9) scale(1,1.05)">3000</text><text transform="translate(212.5,910.9) scale(1,1.05)">10000</text><text transform="translate(280.1,910.9) scale(1,1.05)">30000</text></g>
<text class="t" text-anchor="middle" x="187.9" y="941.7">sum</text>
<text class="t" text-anchor="middle" transform="translate(31.5,448.1) rotate(-90)">subsets_Mito_percent</text>
<text class="t" x="319.7" y="421.5">discard</text>
<g class="b"><circle cx="334.4" cy="451.9" r="4.75"/></g><g class="o"><circle cx="334.4" cy="481.2" r="4.75"/></g>
<text class="s" transform="translate(361.9,460.4) scale(1,1.05)">FALSE</text><text class="s" transform="translate(361.9,489.7) scale(1,1.05)">TRUE</text>
</g>
</svg>
</body></html>
